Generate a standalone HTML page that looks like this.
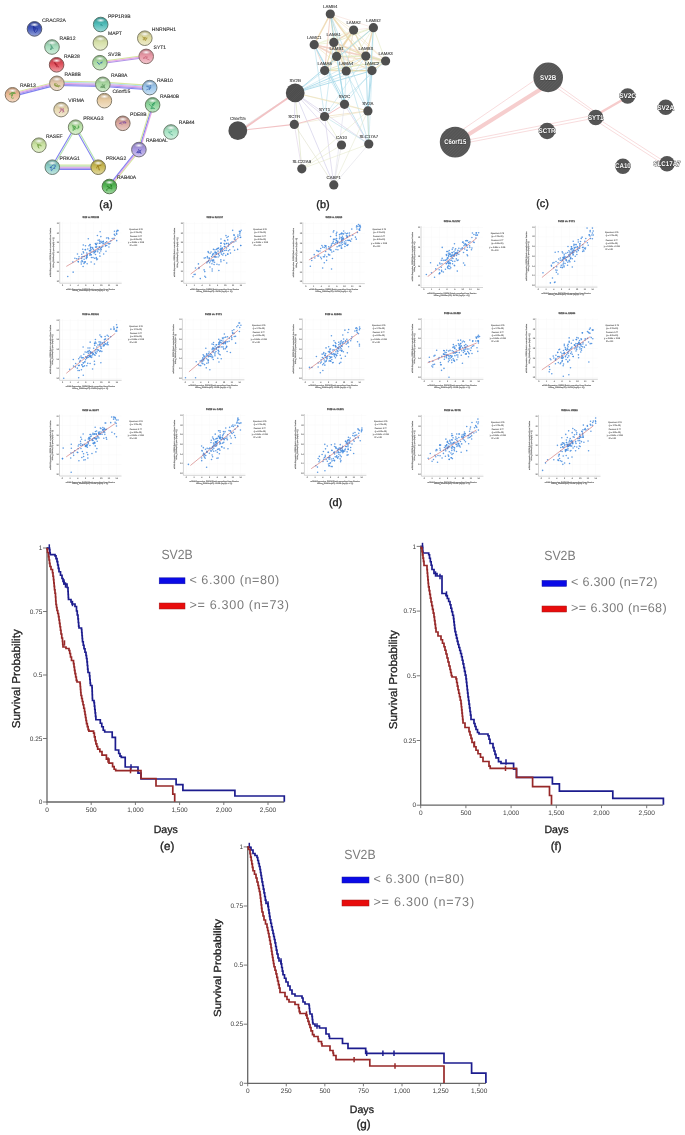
<!DOCTYPE html>
<html><head><meta charset="utf-8"><title>Figure</title>
<style>
html,body{margin:0;padding:0;background:#fff;}
body{width:685px;height:1135px;overflow:hidden;font-family:"Liberation Sans",sans-serif;}
svg{display:block;will-change:transform;}
svg text{font-family:"Liberation Sans",sans-serif;text-rendering:geometricPrecision;}
</style></head><body>
<svg width="685" height="1135" viewBox="0 0 685 1135">
<defs><filter id="soft" x="-2%" y="-2%" width="104%" height="104%"><feGaussianBlur stdDeviation="0.3"/></filter>
<filter id="soft2" x="-2%" y="-2%" width="104%" height="104%"><feGaussianBlur stdDeviation="0.22"/></filter></defs>

<g id="pa" filter="url(#soft2)">
<defs>
<linearGradient id="ga0" x1="0" y1="0" x2="0" y2="1"><stop offset="0" stop-color="#314290"/><stop offset="0.45" stop-color="#3f55b8"/><stop offset="1" stop-color="#95a2d8"/></linearGradient>
<linearGradient id="ga1" x1="0" y1="0" x2="0" y2="1"><stop offset="0" stop-color="#81ac93"/><stop offset="0.45" stop-color="#a6dcbc"/><stop offset="1" stop-color="#ceecda"/></linearGradient>
<linearGradient id="ga2" x1="0" y1="0" x2="0" y2="1"><stop offset="0" stop-color="#af3e48"/><stop offset="0.45" stop-color="#e0505c"/><stop offset="1" stop-color="#ee9fa5"/></linearGradient>
<linearGradient id="ga3" x1="0" y1="0" x2="0" y2="1"><stop offset="0" stop-color="#b09a85"/><stop offset="0.45" stop-color="#e2c6aa"/><stop offset="1" stop-color="#efe0d0"/></linearGradient>
<linearGradient id="ga4" x1="0" y1="0" x2="0" y2="1"><stop offset="0" stop-color="#b79072"/><stop offset="0.45" stop-color="#eab892"/><stop offset="1" stop-color="#f3d8c3"/></linearGradient>
<linearGradient id="ga5" x1="0" y1="0" x2="0" y2="1"><stop offset="0" stop-color="#3b918e"/><stop offset="0.45" stop-color="#4cbab6"/><stop offset="1" stop-color="#9dd9d7"/></linearGradient>
<linearGradient id="ga6" x1="0" y1="0" x2="0" y2="1"><stop offset="0" stop-color="#a7af83"/><stop offset="0.45" stop-color="#d6e0a8"/><stop offset="1" stop-color="#e8eecf"/></linearGradient>
<linearGradient id="ga7" x1="0" y1="0" x2="0" y2="1"><stop offset="0" stop-color="#83aa7d"/><stop offset="0.45" stop-color="#a8daa0"/><stop offset="1" stop-color="#cfebcb"/></linearGradient>
<linearGradient id="ga8" x1="0" y1="0" x2="0" y2="1"><stop offset="0" stop-color="#afac7e"/><stop offset="0.45" stop-color="#e0dca2"/><stop offset="1" stop-color="#eeeccc"/></linearGradient>
<linearGradient id="ga9" x1="0" y1="0" x2="0" y2="1"><stop offset="0" stop-color="#b57781"/><stop offset="0.45" stop-color="#e898a6"/><stop offset="1" stop-color="#f2c6ce"/></linearGradient>
<linearGradient id="ga10" x1="0" y1="0" x2="0" y2="1"><stop offset="0" stop-color="#85a87e"/><stop offset="0.45" stop-color="#aad8a2"/><stop offset="1" stop-color="#d0eacc"/></linearGradient>
<linearGradient id="ga11" x1="0" y1="0" x2="0" y2="1"><stop offset="0" stop-color="#b59f7e"/><stop offset="0.45" stop-color="#e8cca2"/><stop offset="1" stop-color="#f2e3cc"/></linearGradient>
<linearGradient id="ga12" x1="0" y1="0" x2="0" y2="1"><stop offset="0" stop-color="#7a9ab7"/><stop offset="0.45" stop-color="#9cc6ea"/><stop offset="1" stop-color="#c9e0f3"/></linearGradient>
<linearGradient id="ga13" x1="0" y1="0" x2="0" y2="1"><stop offset="0" stop-color="#6da578"/><stop offset="0.45" stop-color="#8cd49a"/><stop offset="1" stop-color="#c0e7c7"/></linearGradient>
<linearGradient id="ga14" x1="0" y1="0" x2="0" y2="1"><stop offset="0" stop-color="#b5a889"/><stop offset="0.45" stop-color="#e8d8b0"/><stop offset="1" stop-color="#f2ead4"/></linearGradient>
<linearGradient id="ga15" x1="0" y1="0" x2="0" y2="1"><stop offset="0" stop-color="#a88078"/><stop offset="0.45" stop-color="#d8a49a"/><stop offset="1" stop-color="#eacdc7"/></linearGradient>
<linearGradient id="ga16" x1="0" y1="0" x2="0" y2="1"><stop offset="0" stop-color="#83b299"/><stop offset="0.45" stop-color="#a8e4c4"/><stop offset="1" stop-color="#cff0df"/></linearGradient>
<linearGradient id="ga17" x1="0" y1="0" x2="0" y2="1"><stop offset="0" stop-color="#91b083"/><stop offset="0.45" stop-color="#bae2a8"/><stop offset="1" stop-color="#d9efcf"/></linearGradient>
<linearGradient id="ga18" x1="0" y1="0" x2="0" y2="1"><stop offset="0" stop-color="#9eb07e"/><stop offset="0.45" stop-color="#cae2a2"/><stop offset="1" stop-color="#e2efcc"/></linearGradient>
<linearGradient id="ga19" x1="0" y1="0" x2="0" y2="1"><stop offset="0" stop-color="#8377af"/><stop offset="0.45" stop-color="#a898e0"/><stop offset="1" stop-color="#cfc6ee"/></linearGradient>
<linearGradient id="ga20" x1="0" y1="0" x2="0" y2="1"><stop offset="0" stop-color="#6da19a"/><stop offset="0.45" stop-color="#8ccec6"/><stop offset="1" stop-color="#c0e4e0"/></linearGradient>
<linearGradient id="ga21" x1="0" y1="0" x2="0" y2="1"><stop offset="0" stop-color="#9c9040"/><stop offset="0.45" stop-color="#c8b852"/><stop offset="1" stop-color="#e1d8a0"/></linearGradient>
<linearGradient id="ga22" x1="0" y1="0" x2="0" y2="1"><stop offset="0" stop-color="#408c40"/><stop offset="0.45" stop-color="#52b452"/><stop offset="1" stop-color="#a0d6a0"/></linearGradient>
<radialGradient id="hl" cx="50%" cy="50%" r="50%"><stop offset="0" stop-color="#fff" stop-opacity="0.95"/><stop offset="1" stop-color="#fff" stop-opacity="0"/></radialGradient>
</defs>
<line x1="12.09" y1="93.2" x2="56.49" y2="81.7" stroke="#d2e496" stroke-width="1.1" opacity="0.9"/><line x1="12.36" y1="94.27" x2="56.76" y2="82.77" stroke="#e49ce4" stroke-width="1.1" opacity="0.9"/><line x1="12.64" y1="95.33" x2="57.04" y2="83.83" stroke="#a88ae6" stroke-width="1.1" opacity="0.9"/><line x1="12.91" y1="96.4" x2="57.31" y2="84.9" stroke="#7474ee" stroke-width="1.1" opacity="0.9"/>
<line x1="56.95" y1="81.1" x2="102.85" y2="82.1" stroke="#d2e496" stroke-width="1.1" opacity="0.9"/><line x1="56.92" y1="82.2" x2="102.82" y2="83.2" stroke="#a0d4e8" stroke-width="1.1" opacity="0.9"/><line x1="56.9" y1="83.3" x2="102.8" y2="84.3" stroke="#e49ce4" stroke-width="1.1" opacity="0.9"/><line x1="56.88" y1="84.4" x2="102.78" y2="85.4" stroke="#a88ae6" stroke-width="1.1" opacity="0.9"/><line x1="56.85" y1="85.5" x2="102.75" y2="86.5" stroke="#7474ee" stroke-width="1.1" opacity="0.9"/>
<line x1="102.95" y1="82.11" x2="149.85" y2="85.41" stroke="#d2e496" stroke-width="1.1" opacity="0.9"/><line x1="102.88" y1="83.2" x2="149.78" y2="86.5" stroke="#a0d4e8" stroke-width="1.1" opacity="0.9"/><line x1="102.8" y1="84.3" x2="149.7" y2="87.6" stroke="#e49ce4" stroke-width="1.1" opacity="0.9"/><line x1="102.72" y1="85.4" x2="149.62" y2="88.7" stroke="#a88ae6" stroke-width="1.1" opacity="0.9"/><line x1="102.65" y1="86.49" x2="149.55" y2="89.79" stroke="#7474ee" stroke-width="1.1" opacity="0.9"/>
<line x1="99.75" y1="61.61" x2="146.05" y2="55.31" stroke="#d2e496" stroke-width="1.1" opacity="0.9"/><line x1="99.9" y1="62.7" x2="146.2" y2="56.4" stroke="#e49ce4" stroke-width="1.1" opacity="0.9"/><line x1="100.05" y1="63.79" x2="146.35" y2="57.49" stroke="#a88ae6" stroke-width="1.1" opacity="0.9"/>
<line x1="153.65" y1="105.22" x2="139.95" y2="149.92" stroke="#e49ce4" stroke-width="1.1" opacity="0.9"/><line x1="152.6" y1="104.9" x2="138.9" y2="149.6" stroke="#7474ee" stroke-width="1.1" opacity="0.9"/><line x1="151.55" y1="104.58" x2="137.85" y2="149.28" stroke="#d2e496" stroke-width="1.1" opacity="0.9"/>
<line x1="139.76" y1="150.29" x2="110.26" y2="187.19" stroke="#d2e496" stroke-width="1.1" opacity="0.9"/><line x1="138.9" y1="149.6" x2="109.4" y2="186.5" stroke="#e49ce4" stroke-width="1.1" opacity="0.9"/><line x1="138.04" y1="148.91" x2="108.54" y2="185.81" stroke="#7474ee" stroke-width="1.1" opacity="0.9"/>
<line x1="76.25" y1="127.58" x2="52.95" y2="167.58" stroke="#ace0a6" stroke-width="1.1" opacity="0.9"/><line x1="74.95" y1="126.82" x2="51.65" y2="166.82" stroke="#7474ee" stroke-width="1.1" opacity="0.9"/>
<line x1="76.25" y1="126.83" x2="98.85" y2="166.83" stroke="#ace0a6" stroke-width="1.1" opacity="0.9"/><line x1="74.95" y1="127.57" x2="97.55" y2="167.57" stroke="#7474ee" stroke-width="1.1" opacity="0.9"/>
<line x1="52.3" y1="165" x2="98.2" y2="165" stroke="#d2e496" stroke-width="1.1" opacity="0.9"/><line x1="52.3" y1="166.1" x2="98.2" y2="166.1" stroke="#ace0a6" stroke-width="1.1" opacity="0.9"/><line x1="52.3" y1="167.2" x2="98.2" y2="167.2" stroke="#e49ce4" stroke-width="1.1" opacity="0.9"/><line x1="52.3" y1="168.3" x2="98.2" y2="168.3" stroke="#a88ae6" stroke-width="1.1" opacity="0.9"/><line x1="52.3" y1="169.4" x2="98.2" y2="169.4" stroke="#7474ee" stroke-width="1.1" opacity="0.9"/>
<circle cx="34.5" cy="28.9" r="7.3" fill="url(#ga0)" stroke="#52586f" stroke-width="1.0"/>
<ellipse cx="34.5" cy="24.72" rx="4.56" ry="2.13" fill="url(#hl)"/>
<path d="M34.54 30.14Q35.15 29.55 33.08 26.33Q35.17 27.8 37.52 28.64Q37.72 31.82 35.2 32.69Q33.3 30.89 33.26 26.34Q35.83 27.81 35.66 29.34Q33.5 31.67 34.2 31.54" fill="none" stroke="#1a2a98" stroke-width="0.75" stroke-linecap="round" opacity="0.8"/>
<text x="42" y="22.2" font-size="5" fill="#2e2e2e" stroke="#2e2e2e" stroke-width="0.12">CRACR2A</text>
<circle cx="52" cy="47" r="7.3" fill="url(#ga1)" stroke="#718170" stroke-width="1.0"/>
<ellipse cx="52" cy="42.82" rx="4.56" ry="2.13" fill="url(#hl)"/>
<path d="M52.57 48.03Q52.09 47.11 53.31 48.35Q52.08 47.26 51.53 45.67Q52.37 46.66 50.38 49.82Q52.19 47.83 52.01 48.47Q52.9 47.55 51.56 49.35Q50.24 49.32 50.7 49.29Q51.83 47.79 50.74 44.46" fill="none" stroke="#4a9a7a" stroke-width="0.75" stroke-linecap="round" opacity="0.8"/>
<text x="59.6" y="39.6" font-size="5" fill="#2e2e2e" stroke="#2e2e2e" stroke-width="0.12">RAB12</text>
<circle cx="56.6" cy="64.8" r="7.3" fill="url(#ga2)" stroke="#825754" stroke-width="1.0"/>
<ellipse cx="56.6" cy="60.62" rx="4.56" ry="2.13" fill="url(#hl)"/>
<path d="M57.45 64.69Q57.06 63.76 55.39 64.17Q55.6 64.59 54.27 62.77Q55.06 62.8 54.66 62.33Q56.28 64.77 58.74 67.14Q55.97 65.57 54.94 62.74Q55.03 63.89 56.72 66.94" fill="none" stroke="#a82232" stroke-width="0.75" stroke-linecap="round" opacity="0.8"/>
<text x="63.9" y="57.6" font-size="5" fill="#2e2e2e" stroke="#2e2e2e" stroke-width="0.12">RAB28</text>
<circle cx="56.9" cy="83.3" r="7.3" fill="url(#ga3)" stroke="#837a6b" stroke-width="1.0"/>
<ellipse cx="56.9" cy="79.12" rx="4.56" ry="2.13" fill="url(#hl)"/>
<path d="M57.71 84.65Q55.89 82.73 54.21 83.77Q57.12 86.52 58.98 86.99Q57.29 86.78 54.09 84.68Q56.03 86.25 60.41 86.11Q58.57 85.31 59.4 85.78Q57.43 85.27 55.77 86.67Q56.46 87.05 54.63 84.58Q55.71 84.68 55.27 85.78" fill="none" stroke="#8a9a40" stroke-width="0.75" stroke-linecap="round" opacity="0.8"/>
<text x="64.5" y="75.8" font-size="5" fill="#2e2e2e" stroke="#2e2e2e" stroke-width="0.12">RAB8B</text>
<circle cx="12.5" cy="94.8" r="7.3" fill="url(#ga4)" stroke="#857664" stroke-width="1.0"/>
<ellipse cx="12.5" cy="90.62" rx="4.56" ry="2.13" fill="url(#hl)"/>
<path d="M12.83 94.86Q13.32 95.93 11.13 95.79Q12.53 93.98 14.57 92.34Q12.36 92.07 9.24 94.27Q11.75 93.48 15.5 93.37Q13.36 92.88 11.64 92.35Q12.63 95.53 11.51 97.99Q12.82 99.07 13.67 98.07" fill="none" stroke="#5aa040" stroke-width="0.75" stroke-linecap="round" opacity="0.8"/>
<text x="19.9" y="87.3" font-size="5" fill="#2e2e2e" stroke="#2e2e2e" stroke-width="0.12">RAB13</text>
<circle cx="100.7" cy="24.5" r="7.3" fill="url(#ga5)" stroke="#56776f" stroke-width="1.0"/>
<ellipse cx="100.7" cy="20.32" rx="4.56" ry="2.13" fill="url(#hl)"/>
<path d="M100.52 24.86Q101.87 24.68 102.47 25.51Q100.19 24.01 100.86 24.72" fill="none" stroke="#2a8a88" stroke-width="0.75" stroke-linecap="round" opacity="0.8"/>
<text x="108" y="17.6" font-size="5" fill="#2e2e2e" stroke="#2e2e2e" stroke-width="0.12">PPP1R9B</text>
<circle cx="100.4" cy="43" r="7.3" fill="url(#ga6)" stroke="#7f826a" stroke-width="1.0"/>
<ellipse cx="100.4" cy="38.82" rx="4.56" ry="2.13" fill="url(#hl)"/>
<text x="108" y="35.1" font-size="5" fill="#2e2e2e" stroke="#2e2e2e" stroke-width="0.12">MAPT</text>
<circle cx="99.9" cy="62.7" r="7.3" fill="url(#ga7)" stroke="#718068" stroke-width="1.0"/>
<ellipse cx="99.9" cy="58.52" rx="4.56" ry="2.13" fill="url(#hl)"/>
<path d="M98.99 64.04Q96.76 61.61 97.02 61.93Q98.94 63.46 99.01 64.42Q99.49 63.97 102.25 61.75Q101.2 62.14 102.23 62.87Q101.19 63.22 100.69 62.73" fill="none" stroke="#2a62a8" stroke-width="0.75" stroke-linecap="round" opacity="0.8"/>
<text x="108" y="55.8" font-size="5" fill="#2e2e2e" stroke="#2e2e2e" stroke-width="0.12">SV2B</text>
<circle cx="144.8" cy="38.2" r="7.3" fill="url(#ga8)" stroke="#828169" stroke-width="1.0"/>
<ellipse cx="144.8" cy="34.02" rx="4.56" ry="2.13" fill="url(#hl)"/>
<path d="M143.81 38.08Q142.69 36.75 142.56 36.82Q145.04 37.65 145.35 40.89Q147 39.4 146.04 37.38Q143.31 39.13 142.75 39.23Q146.44 39.98 147.37 38.03Q146.97 38.71 145.8 38.02Q143.6 38.27 144.4 37.15Q145.17 37.69 143.71 40.02" fill="none" stroke="#a8983c" stroke-width="0.75" stroke-linecap="round" opacity="0.8"/>
<text x="151.8" y="31.3" font-size="5" fill="#2e2e2e" stroke="#2e2e2e" stroke-width="0.12">HNRNPH1</text>
<circle cx="146.2" cy="56.4" r="7.3" fill="url(#ga9)" stroke="#856d6a" stroke-width="1.0"/>
<ellipse cx="146.2" cy="52.22" rx="4.56" ry="2.13" fill="url(#hl)"/>
<path d="M147.01 56.56Q147.55 58.37 146.93 57.72Q145.55 56.6 145.47 56.32Q144.75 57.63 143.12 58.28Q146.13 57.38 147.27 59.08Q147.84 59.13 149.18 59.81" fill="none" stroke="#c25a70" stroke-width="0.75" stroke-linecap="round" opacity="0.8"/>
<text x="153.6" y="48.8" font-size="5" fill="#2e2e2e" stroke="#2e2e2e" stroke-width="0.12">SYT1</text>
<circle cx="102.8" cy="84.3" r="7.3" fill="url(#ga10)" stroke="#728069" stroke-width="1.0"/>
<ellipse cx="102.8" cy="80.12" rx="4.56" ry="2.13" fill="url(#hl)"/>
<path d="M102.43 84Q101.27 85.54 103.03 85.05Q104.46 85.94 105.17 84.66Q102.96 86.51 100.89 86.29Q101.44 88.03 104.83 86.91Q103.21 85.93 100.37 87.27Q102.54 87.37 101.98 87.54Q102.87 86.71 105.33 88.07Q103.36 87.57 103.81 86.03" fill="none" stroke="#5e965e" stroke-width="0.75" stroke-linecap="round" opacity="0.8"/>
<text x="111" y="77.1" font-size="5" fill="#2e2e2e" stroke="#2e2e2e" stroke-width="0.12">RAB8A</text>
<circle cx="104.4" cy="100.7" r="7.3" fill="url(#ga11)" stroke="#857c69" stroke-width="1.0"/>
<ellipse cx="104.4" cy="96.52" rx="4.56" ry="2.13" fill="url(#hl)"/>
<text x="112.4" y="93" font-size="5" fill="#2e2e2e" stroke="#2e2e2e" stroke-width="0.12">C6orf15</text>
<circle cx="149.7" cy="87.6" r="7.3" fill="url(#ga12)" stroke="#6e7a7e" stroke-width="1.0"/>
<ellipse cx="149.7" cy="83.42" rx="4.56" ry="2.13" fill="url(#hl)"/>
<path d="M149.85 88.16Q149.3 87.94 149.22 89.89Q151.44 88.21 150.69 85.3Q149.99 86.63 146.48 86.25Q149.47 87.76 150.56 87.6Q147.87 89.53 146.62 89.89" fill="none" stroke="#3e6eb0" stroke-width="0.75" stroke-linecap="round" opacity="0.8"/>
<text x="157" y="81.6" font-size="5" fill="#2e2e2e" stroke="#2e2e2e" stroke-width="0.12">RAB10</text>
<circle cx="152.6" cy="104.9" r="7.3" fill="url(#ga13)" stroke="#697f66" stroke-width="1.0"/>
<ellipse cx="152.6" cy="100.72" rx="4.56" ry="2.13" fill="url(#hl)"/>
<path d="M153.35 105.68Q154.46 104.2 154.15 103.23Q152.71 103.83 151.76 105.07Q153.04 104.38 155.16 102.41Q152.43 103.01 152.2 106.33Q151.08 108.01 152.19 108.36Q150.81 109.44 150.68 108.1Q154.05 108.71 154.69 108.61Q151.04 106.97 149.18 104.24" fill="none" stroke="#2c9a5e" stroke-width="0.75" stroke-linecap="round" opacity="0.8"/>
<text x="160" y="98" font-size="5" fill="#2e2e2e" stroke="#2e2e2e" stroke-width="0.12">RAB40B</text>
<circle cx="61.1" cy="109.6" r="7.3" fill="url(#ga14)" stroke="#85806d" stroke-width="1.0"/>
<ellipse cx="61.1" cy="105.42" rx="4.56" ry="2.13" fill="url(#hl)"/>
<path d="M60.57 109.31Q59.16 108.35 60.35 107.99Q63.03 109.22 64.11 112.12Q61.75 109.27 61.36 108.77Q61.19 111.77 59.04 112.94Q60.58 110.97 63.26 108.24Q64.16 109.11 62.77 112.47" fill="none" stroke="#b06088" stroke-width="0.75" stroke-linecap="round" opacity="0.8"/>
<text x="68.3" y="102.4" font-size="5" fill="#2e2e2e" stroke="#2e2e2e" stroke-width="0.12">VIRMA</text>
<circle cx="122.8" cy="123.3" r="7.3" fill="url(#ga15)" stroke="#807066" stroke-width="1.0"/>
<ellipse cx="122.8" cy="119.12" rx="4.56" ry="2.13" fill="url(#hl)"/>
<path d="M122.06 124.1Q120.77 122.97 119.3 123.51Q120.97 122.08 124.75 121.52Q124.87 121.11 123.08 123.19Q123.32 122.99 125.8 122.92Q126.77 122.25 125.09 121.92Q126.04 124.01 125.57 123.39" fill="none" stroke="#7a4aa0" stroke-width="0.75" stroke-linecap="round" opacity="0.8"/>
<text x="130.1" y="115.5" font-size="5" fill="#2e2e2e" stroke="#2e2e2e" stroke-width="0.12">PDE8B</text>
<circle cx="171" cy="132" r="7.3" fill="url(#ga16)" stroke="#718373" stroke-width="1.0"/>
<ellipse cx="171" cy="127.82" rx="4.56" ry="2.13" fill="url(#hl)"/>
<path d="M171.63 131.63Q169.32 132.73 168.5 131.88Q170.74 135 172.72 135.17" fill="none" stroke="#3e9a7e" stroke-width="0.75" stroke-linecap="round" opacity="0.8"/>
<text x="178.8" y="124.3" font-size="5" fill="#2e2e2e" stroke="#2e2e2e" stroke-width="0.12">RAB44</text>
<circle cx="75.6" cy="127.2" r="7.3" fill="url(#ga17)" stroke="#77836a" stroke-width="1.0"/>
<ellipse cx="75.6" cy="123.02" rx="4.56" ry="2.13" fill="url(#hl)"/>
<path d="M75.34 126.74Q74.62 130.16 72.9 130.64Q73.63 129.06 72.85 125.07Q73.32 128.33 74.99 129.73Q75.65 127.53 74.23 126.01Q76.82 128.11 77.47 129.17Q78.13 128.75 78.19 126.42Q79.39 126.95 78.42 127.79Q79.92 128.14 78.48 125.69" fill="none" stroke="#3c9a3c" stroke-width="0.75" stroke-linecap="round" opacity="0.8"/>
<text x="83.2" y="119.5" font-size="5" fill="#2e2e2e" stroke="#2e2e2e" stroke-width="0.12">PRKAG3</text>
<circle cx="38.9" cy="145.2" r="7.3" fill="url(#ga18)" stroke="#7c8369" stroke-width="1.0"/>
<ellipse cx="38.9" cy="141.02" rx="4.56" ry="2.13" fill="url(#hl)"/>
<path d="M38.19 145.08Q39.11 145.08 41.34 146.06Q40.91 144.25 39.21 144.7Q39.33 145.54 37.92 144.37Q37.17 146.86 39 148.31Q38.22 144.8 37.1 143.8" fill="none" stroke="#6a9a3a" stroke-width="0.75" stroke-linecap="round" opacity="0.8"/>
<text x="45.9" y="137.8" font-size="5" fill="#2e2e2e" stroke="#2e2e2e" stroke-width="0.12">RASEF</text>
<circle cx="138.9" cy="149.6" r="7.3" fill="url(#ga19)" stroke="#716d7b" stroke-width="1.0"/>
<ellipse cx="138.9" cy="145.42" rx="4.56" ry="2.13" fill="url(#hl)"/>
<path d="M138.53 149.3Q137.37 150.84 139.13 150.35Q140.56 151.24 141.27 149.96Q139.06 151.81 136.99 151.59Q137.54 153.33 140.93 152.21Q139.31 151.23 136.47 152.57Q138.64 152.67 138.08 152.84Q138.97 152.01 141.43 153.37Q139.46 152.87 139.91 151.33" fill="none" stroke="#4848b0" stroke-width="0.75" stroke-linecap="round" opacity="0.8"/>
<text x="145.9" y="142.3" font-size="5" fill="#2e2e2e" stroke="#2e2e2e" stroke-width="0.12">RAB40AL</text>
<circle cx="52.3" cy="167.2" r="7.3" fill="url(#ga20)" stroke="#697d73" stroke-width="1.0"/>
<ellipse cx="52.3" cy="163.02" rx="4.56" ry="2.13" fill="url(#hl)"/>
<path d="M52.96 168.23Q52.88 168.16 54.77 167.76Q53.8 166.5 55.59 166.56Q55.96 164.53 53.42 164.95Q52.27 165.07 50.19 167.67Q50.84 166.56 50.21 167.92Q50.13 166.66 51.78 167.27Q50.38 168.87 51.42 170.82Q51.83 170.96 52.49 169.16Q53.61 167.95 54.88 168.42" fill="none" stroke="#2a5ab0" stroke-width="0.75" stroke-linecap="round" opacity="0.8"/>
<text x="59.6" y="160.1" font-size="5" fill="#2e2e2e" stroke="#2e2e2e" stroke-width="0.12">PRKAG1</text>
<circle cx="98.2" cy="167.2" r="7.3" fill="url(#ga21)" stroke="#7b7651" stroke-width="1.0"/>
<ellipse cx="98.2" cy="163.02" rx="4.56" ry="2.13" fill="url(#hl)"/>
<path d="M98.41 166.76Q99.1 166.27 96.98 165.43Q98.42 165.9 98.96 168.51Q98.01 170.41 99.94 170Q98.94 168.87 97.56 166.55Q99.08 165.37 101.28 165.22Q98.32 165.02 96.53 166.98Q96.37 166.98 96.78 168.21" fill="none" stroke="#9a7a1a" stroke-width="0.75" stroke-linecap="round" opacity="0.8"/>
<text x="106" y="160.1" font-size="5" fill="#2e2e2e" stroke="#2e2e2e" stroke-width="0.12">PRKAG2</text>
<circle cx="109.4" cy="186.5" r="7.3" fill="url(#ga22)" stroke="#587551" stroke-width="1.0"/>
<ellipse cx="109.4" cy="182.32" rx="4.56" ry="2.13" fill="url(#hl)"/>
<path d="M109.69 187.51Q107.21 185.47 106.86 186.14Q108.09 187.73 111.93 189.04Q112.1 187.62 110.67 184.46Q110.92 185.96 111.68 185.5Q110.5 187.86 108.29 188.53Q106.77 189.24 106.53 189.59Q105.79 190.82 107.15 190.3" fill="none" stroke="#1e7a1e" stroke-width="0.75" stroke-linecap="round" opacity="0.8"/>
<text x="117" y="178.6" font-size="5" fill="#2e2e2e" stroke="#2e2e2e" stroke-width="0.12">RAB40A</text>
</g>
<g id="pb" filter="url(#soft2)">
<defs><pattern id="hatchb" width="1.6" height="1.6" patternUnits="userSpaceOnUse" patternTransform="rotate(45)"><rect width="1.6" height="1.6" fill="#4c4c4c"/><line x1="0" y1="0" x2="0" y2="1.6" stroke="#5e5e5e" stroke-width="0.6"/></pattern></defs>
<line x1="330.3" y1="14" x2="353.6" y2="30.1" stroke="#e8dcac" stroke-width="0.6" opacity="0.8"/>
<line x1="330.3" y1="14" x2="373.4" y2="27.7" stroke="#f0ccc0" stroke-width="0.5" opacity="0.8"/>
<line x1="330.3" y1="14" x2="314.2" y2="44.7" stroke="#ecd4a8" stroke-width="1.5" opacity="0.8"/>
<line x1="330.3" y1="14" x2="333.8" y2="42.4" stroke="#ecd4a8" stroke-width="0.8" opacity="0.8"/>
<line x1="330.3" y1="14" x2="336.6" y2="56.4" stroke="#dde6b4" stroke-width="0.5" opacity="0.8"/>
<line x1="330.3" y1="14" x2="365.8" y2="56.1" stroke="#dde6b4" stroke-width="0.6" opacity="0.8"/>
<line x1="330.3" y1="14" x2="385.6" y2="61" stroke="#ecd4a8" stroke-width="0.5" opacity="0.8"/>
<line x1="330.3" y1="14" x2="324.7" y2="70.6" stroke="#f0ccc0" stroke-width="1.1" opacity="0.8"/>
<line x1="330.3" y1="14" x2="346.2" y2="71" stroke="#ecd4a8" stroke-width="0.6" opacity="0.8"/>
<line x1="330.3" y1="14" x2="372" y2="70.6" stroke="#ecd4a8" stroke-width="1.5" opacity="0.8"/>
<line x1="353.6" y1="30.1" x2="373.4" y2="27.7" stroke="#f0ccc0" stroke-width="0.5" opacity="0.8"/>
<line x1="353.6" y1="30.1" x2="314.2" y2="44.7" stroke="#dde6b4" stroke-width="0.5" opacity="0.8"/>
<line x1="353.6" y1="30.1" x2="333.8" y2="42.4" stroke="#eed0b4" stroke-width="1.5" opacity="0.8"/>
<line x1="353.6" y1="30.1" x2="336.6" y2="56.4" stroke="#ecd4a8" stroke-width="1.5" opacity="0.8"/>
<line x1="353.6" y1="30.1" x2="365.8" y2="56.1" stroke="#dde6b4" stroke-width="1.1" opacity="0.8"/>
<line x1="353.6" y1="30.1" x2="385.6" y2="61" stroke="#ecd4a8" stroke-width="0.6" opacity="0.8"/>
<line x1="353.6" y1="30.1" x2="324.7" y2="70.6" stroke="#ecd4a8" stroke-width="1.5" opacity="0.8"/>
<line x1="353.6" y1="30.1" x2="346.2" y2="71" stroke="#eed0b4" stroke-width="0.8" opacity="0.8"/>
<line x1="353.6" y1="30.1" x2="372" y2="70.6" stroke="#f0ccc0" stroke-width="0.6" opacity="0.8"/>
<line x1="373.4" y1="27.7" x2="314.2" y2="44.7" stroke="#dde6b4" stroke-width="0.5" opacity="0.8"/>
<line x1="373.4" y1="27.7" x2="333.8" y2="42.4" stroke="#dde6b4" stroke-width="0.8" opacity="0.8"/>
<line x1="373.4" y1="27.7" x2="336.6" y2="56.4" stroke="#dde6b4" stroke-width="0.6" opacity="0.8"/>
<line x1="373.4" y1="27.7" x2="365.8" y2="56.1" stroke="#ecd4a8" stroke-width="1.5" opacity="0.8"/>
<line x1="373.4" y1="27.7" x2="385.6" y2="61" stroke="#dde6b4" stroke-width="0.6" opacity="0.8"/>
<line x1="373.4" y1="27.7" x2="324.7" y2="70.6" stroke="#e8dcac" stroke-width="0.5" opacity="0.8"/>
<line x1="373.4" y1="27.7" x2="346.2" y2="71" stroke="#dde6b4" stroke-width="0.5" opacity="0.8"/>
<line x1="373.4" y1="27.7" x2="372" y2="70.6" stroke="#dde6b4" stroke-width="0.5" opacity="0.8"/>
<line x1="314.2" y1="44.7" x2="333.8" y2="42.4" stroke="#dde6b4" stroke-width="0.6" opacity="0.8"/>
<line x1="314.2" y1="44.7" x2="336.6" y2="56.4" stroke="#f0ccc0" stroke-width="1.5" opacity="0.8"/>
<line x1="314.2" y1="44.7" x2="365.8" y2="56.1" stroke="#f0ccc0" stroke-width="0.8" opacity="0.8"/>
<line x1="314.2" y1="44.7" x2="385.6" y2="61" stroke="#f0ccc0" stroke-width="1.5" opacity="0.8"/>
<line x1="314.2" y1="44.7" x2="324.7" y2="70.6" stroke="#f0ccc0" stroke-width="0.8" opacity="0.8"/>
<line x1="314.2" y1="44.7" x2="346.2" y2="71" stroke="#e8dcac" stroke-width="0.6" opacity="0.8"/>
<line x1="314.2" y1="44.7" x2="372" y2="70.6" stroke="#eed0b4" stroke-width="0.6" opacity="0.8"/>
<line x1="333.8" y1="42.4" x2="336.6" y2="56.4" stroke="#ecd4a8" stroke-width="1.5" opacity="0.8"/>
<line x1="333.8" y1="42.4" x2="365.8" y2="56.1" stroke="#e8dcac" stroke-width="1.5" opacity="0.8"/>
<line x1="333.8" y1="42.4" x2="385.6" y2="61" stroke="#f0ccc0" stroke-width="0.8" opacity="0.8"/>
<line x1="333.8" y1="42.4" x2="324.7" y2="70.6" stroke="#e6d6a0" stroke-width="1.1" opacity="0.8"/>
<line x1="333.8" y1="42.4" x2="346.2" y2="71" stroke="#e8dcac" stroke-width="1.5" opacity="0.8"/>
<line x1="333.8" y1="42.4" x2="372" y2="70.6" stroke="#ecd4a8" stroke-width="0.5" opacity="0.8"/>
<line x1="336.6" y1="56.4" x2="365.8" y2="56.1" stroke="#dde6b4" stroke-width="1.1" opacity="0.8"/>
<line x1="336.6" y1="56.4" x2="385.6" y2="61" stroke="#eed0b4" stroke-width="0.8" opacity="0.8"/>
<line x1="336.6" y1="56.4" x2="324.7" y2="70.6" stroke="#eed0b4" stroke-width="1.1" opacity="0.8"/>
<line x1="336.6" y1="56.4" x2="346.2" y2="71" stroke="#f0ccc0" stroke-width="0.5" opacity="0.8"/>
<line x1="336.6" y1="56.4" x2="372" y2="70.6" stroke="#e6d6a0" stroke-width="0.5" opacity="0.8"/>
<line x1="365.8" y1="56.1" x2="385.6" y2="61" stroke="#dde6b4" stroke-width="1.5" opacity="0.8"/>
<line x1="365.8" y1="56.1" x2="324.7" y2="70.6" stroke="#e8dcac" stroke-width="0.8" opacity="0.8"/>
<line x1="365.8" y1="56.1" x2="346.2" y2="71" stroke="#e6d6a0" stroke-width="0.8" opacity="0.8"/>
<line x1="365.8" y1="56.1" x2="372" y2="70.6" stroke="#dde6b4" stroke-width="1.1" opacity="0.8"/>
<line x1="385.6" y1="61" x2="324.7" y2="70.6" stroke="#dde6b4" stroke-width="1.1" opacity="0.8"/>
<line x1="385.6" y1="61" x2="346.2" y2="71" stroke="#ecd4a8" stroke-width="0.5" opacity="0.8"/>
<line x1="385.6" y1="61" x2="372" y2="70.6" stroke="#e8dcac" stroke-width="1.1" opacity="0.8"/>
<line x1="324.7" y1="70.6" x2="346.2" y2="71" stroke="#e6d6a0" stroke-width="0.5" opacity="0.8"/>
<line x1="324.7" y1="70.6" x2="372" y2="70.6" stroke="#ecd4a8" stroke-width="0.8" opacity="0.8"/>
<line x1="346.2" y1="71" x2="372" y2="70.6" stroke="#e6d6a0" stroke-width="1.5" opacity="0.8"/>
<line x1="295.2" y1="92.9" x2="373.4" y2="27.7" stroke="#a6d8e8" stroke-width="1.0" opacity="0.85"/>
<line x1="295.2" y1="92.9" x2="365.8" y2="56.1" stroke="#a6d8e8" stroke-width="0.5" opacity="0.85"/>
<line x1="295.2" y1="92.9" x2="385.6" y2="61" stroke="#a6d8e8" stroke-width="0.6" opacity="0.85"/>
<line x1="295.2" y1="92.9" x2="324.7" y2="70.6" stroke="#a6d8e8" stroke-width="0.6" opacity="0.85"/>
<line x1="295.2" y1="92.9" x2="346.2" y2="71" stroke="#a6d8e8" stroke-width="1.0" opacity="0.85"/>
<line x1="295.2" y1="92.9" x2="372" y2="70.6" stroke="#a6d8e8" stroke-width="1.0" opacity="0.85"/>
<line x1="344.5" y1="104.3" x2="330.3" y2="14" stroke="#a6d8e8" stroke-width="1.0" opacity="0.85"/>
<line x1="344.5" y1="104.3" x2="314.2" y2="44.7" stroke="#a6d8e8" stroke-width="1.0" opacity="0.85"/>
<line x1="344.5" y1="104.3" x2="336.6" y2="56.4" stroke="#a6d8e8" stroke-width="1.0" opacity="0.85"/>
<line x1="344.5" y1="104.3" x2="324.7" y2="70.6" stroke="#a6d8e8" stroke-width="0.6" opacity="0.85"/>
<line x1="344.5" y1="104.3" x2="346.2" y2="71" stroke="#a6d8e8" stroke-width="0.6" opacity="0.85"/>
<line x1="344.5" y1="104.3" x2="372" y2="70.6" stroke="#a6d8e8" stroke-width="0.6" opacity="0.85"/>
<line x1="367.9" y1="110.9" x2="330.3" y2="14" stroke="#a6d8e8" stroke-width="0.6" opacity="0.85"/>
<line x1="367.9" y1="110.9" x2="373.4" y2="27.7" stroke="#a6d8e8" stroke-width="1.0" opacity="0.85"/>
<line x1="367.9" y1="110.9" x2="336.6" y2="56.4" stroke="#a6d8e8" stroke-width="0.6" opacity="0.85"/>
<line x1="367.9" y1="110.9" x2="372" y2="70.6" stroke="#a6d8e8" stroke-width="1.0" opacity="0.85"/>
<line x1="324.6" y1="116.5" x2="314.2" y2="44.7" stroke="#a6d8e8" stroke-width="0.6" opacity="0.85"/>
<line x1="324.6" y1="116.5" x2="333.8" y2="42.4" stroke="#a6d8e8" stroke-width="0.6" opacity="0.85"/>
<line x1="324.6" y1="116.5" x2="365.8" y2="56.1" stroke="#a6d8e8" stroke-width="0.5" opacity="0.85"/>
<line x1="324.6" y1="116.5" x2="385.6" y2="61" stroke="#a6d8e8" stroke-width="0.6" opacity="0.85"/>
<line x1="368.8" y1="144" x2="330.3" y2="14" stroke="#a6d8e8" stroke-width="0.6" opacity="0.85"/>
<line x1="368.8" y1="144" x2="314.2" y2="44.7" stroke="#a6d8e8" stroke-width="0.8" opacity="0.85"/>
<line x1="368.8" y1="144" x2="365.8" y2="56.1" stroke="#a6d8e8" stroke-width="1.0" opacity="0.85"/>
<line x1="368.8" y1="144" x2="372" y2="70.6" stroke="#a6d8e8" stroke-width="0.5" opacity="0.85"/>
<line x1="295.2" y1="92.9" x2="344.5" y2="104.3" stroke="#e8dcb0" stroke-width="0.5"/>
<line x1="295.2" y1="92.9" x2="367.9" y2="110.9" stroke="#e8dcb0" stroke-width="0.5"/>
<line x1="295.2" y1="92.9" x2="324.6" y2="116.5" stroke="#c8c0e0" stroke-width="0.5"/>
<line x1="295.2" y1="92.9" x2="294.3" y2="124.4" stroke="#c8c0e0" stroke-width="0.5"/>
<line x1="295.2" y1="92.9" x2="341.5" y2="145" stroke="#c8c0e0" stroke-width="0.5"/>
<line x1="295.2" y1="92.9" x2="368.8" y2="144" stroke="#c8c0e0" stroke-width="0.5"/>
<line x1="295.2" y1="92.9" x2="333.8" y2="184.9" stroke="#c0bce0" stroke-width="0.5"/>
<line x1="295.2" y1="92.9" x2="301.8" y2="168.8" stroke="#d0d8b0" stroke-width="0.5"/>
<line x1="324.6" y1="116.5" x2="367.9" y2="110.9" stroke="#e8d0a0" stroke-width="0.5"/>
<line x1="324.6" y1="116.5" x2="368.8" y2="144" stroke="#a8d8e0" stroke-width="0.5"/>
<line x1="324.6" y1="116.5" x2="341.5" y2="145" stroke="#d8e0b8" stroke-width="0.5"/>
<line x1="324.6" y1="116.5" x2="333.8" y2="184.9" stroke="#c8c0e0" stroke-width="0.5"/>
<line x1="344.5" y1="104.3" x2="367.9" y2="110.9" stroke="#e8dcb0" stroke-width="0.5"/>
<line x1="344.5" y1="104.3" x2="368.8" y2="144" stroke="#c8c0e0" stroke-width="0.5"/>
<line x1="367.9" y1="110.9" x2="368.8" y2="144" stroke="#e0e4c0" stroke-width="0.5"/>
<line x1="294.3" y1="124.4" x2="301.8" y2="168.8" stroke="#d8c8e0" stroke-width="0.5"/>
<line x1="294.3" y1="124.4" x2="333.8" y2="184.9" stroke="#d8d8c0" stroke-width="0.5"/>
<line x1="301.8" y1="168.8" x2="368.8" y2="144" stroke="#e0e4c0" stroke-width="0.5"/>
<line x1="301.8" y1="168.8" x2="367.9" y2="110.9" stroke="#e0e4c0" stroke-width="0.5"/>
<line x1="341.5" y1="145" x2="333.8" y2="184.9" stroke="#d8d8d8" stroke-width="0.5"/>
<line x1="368.8" y1="144" x2="333.8" y2="184.9" stroke="#d8d8e0" stroke-width="0.5"/>
<line x1="367.9" y1="110.9" x2="333.8" y2="184.9" stroke="#e0e4c8" stroke-width="0.5"/>
<line x1="294.3" y1="124.4" x2="367.9" y2="110.9" stroke="#e8e0c0" stroke-width="0.5"/>
<line x1="301.8" y1="168.8" x2="341.5" y2="145" stroke="#e0e4c0" stroke-width="0.5"/>
<line x1="237.8" y1="130.7" x2="295.2" y2="92.9" stroke="#d0d0d0" stroke-width="0.5"/>
<line x1="344.5" y1="104.3" x2="333.8" y2="184.9" stroke="#d8d8e8" stroke-width="0.5"/>
<line x1="237.8" y1="132.7" x2="295.2" y2="92.9" stroke="#f2c2c4" stroke-width="1.8"/>
<line x1="237.8" y1="130.7" x2="294.3" y2="124.4" stroke="#f2c2c4" stroke-width="1.1"/>
<line x1="294.3" y1="124.4" x2="324.6" y2="116.5" stroke="#f2c2c4" stroke-width="0.9"/>
<line x1="324.6" y1="116.5" x2="344.5" y2="104.3" stroke="#f2c2c4" stroke-width="1.0"/>
<circle cx="330.3" cy="14" r="4.6" fill="#4f4f4f"/>
<text x="330.3" y="8" font-size="4.4" fill="#333" stroke="#333" stroke-width="0.08" text-anchor="middle">LAMB4</text>
<circle cx="353.6" cy="30.1" r="4.6" fill="#4f4f4f"/>
<text x="353.6" y="24.1" font-size="4.4" fill="#333" stroke="#333" stroke-width="0.08" text-anchor="middle">LAMA2</text>
<circle cx="373.4" cy="27.7" r="4.6" fill="#4f4f4f"/>
<text x="373.4" y="21.7" font-size="4.4" fill="#333" stroke="#333" stroke-width="0.08" text-anchor="middle">LAMB2</text>
<circle cx="314.2" cy="44.7" r="4.6" fill="#4f4f4f"/>
<text x="314.2" y="38.7" font-size="4.4" fill="#333" stroke="#333" stroke-width="0.08" text-anchor="middle">LAMC1</text>
<circle cx="333.8" cy="42.4" r="4.6" fill="#4f4f4f"/>
<text x="333.8" y="36.4" font-size="4.4" fill="#333" stroke="#333" stroke-width="0.08" text-anchor="middle">LAMA1</text>
<circle cx="336.6" cy="56.4" r="4.6" fill="#4f4f4f"/>
<text x="336.6" y="50.4" font-size="4.4" fill="#333" stroke="#333" stroke-width="0.08" text-anchor="middle">LAMB1</text>
<circle cx="365.8" cy="56.1" r="4.6" fill="#4f4f4f"/>
<text x="365.8" y="50.1" font-size="4.4" fill="#333" stroke="#333" stroke-width="0.08" text-anchor="middle">LAMB3</text>
<circle cx="385.6" cy="61" r="4.6" fill="#4f4f4f"/>
<text x="385.6" y="55" font-size="4.4" fill="#333" stroke="#333" stroke-width="0.08" text-anchor="middle">LAMA3</text>
<circle cx="324.7" cy="70.6" r="4.6" fill="#4f4f4f"/>
<text x="324.7" y="64.6" font-size="4.4" fill="#333" stroke="#333" stroke-width="0.08" text-anchor="middle">LAMA5</text>
<circle cx="346.2" cy="71" r="4.6" fill="#4f4f4f"/>
<text x="346.2" y="65" font-size="4.4" fill="#333" stroke="#333" stroke-width="0.08" text-anchor="middle">LAMA4</text>
<circle cx="372" cy="70.6" r="4.6" fill="#4f4f4f"/>
<text x="372" y="64.6" font-size="4.4" fill="#333" stroke="#333" stroke-width="0.08" text-anchor="middle">LAMC2</text>
<circle cx="295.2" cy="92.9" r="9.4" fill="url(#hatchb)"/>
<text x="295.2" y="82.1" font-size="4.4" fill="#333" stroke="#333" stroke-width="0.08" text-anchor="middle">SV2B</text>
<circle cx="237.8" cy="130.7" r="9.4" fill="#4f4f4f"/>
<text x="237.8" y="119.9" font-size="4.4" fill="#333" stroke="#333" stroke-width="0.08" text-anchor="middle">C6orf15</text>
<circle cx="344.5" cy="104.3" r="4.6" fill="#4f4f4f"/>
<text x="344.5" y="98.3" font-size="4.4" fill="#333" stroke="#333" stroke-width="0.08" text-anchor="middle">SV2C</text>
<circle cx="367.9" cy="110.9" r="4.6" fill="#4f4f4f"/>
<text x="367.9" y="104.9" font-size="4.4" fill="#333" stroke="#333" stroke-width="0.08" text-anchor="middle">SV2A</text>
<circle cx="324.6" cy="116.5" r="4.6" fill="#4f4f4f"/>
<text x="324.6" y="110.5" font-size="4.4" fill="#333" stroke="#333" stroke-width="0.08" text-anchor="middle">SYT1</text>
<circle cx="294.3" cy="124.4" r="4.6" fill="#4f4f4f"/>
<text x="294.3" y="118.4" font-size="4.4" fill="#333" stroke="#333" stroke-width="0.08" text-anchor="middle">SCTR</text>
<circle cx="341.5" cy="145" r="4.6" fill="#4f4f4f"/>
<text x="341.5" y="139" font-size="4.4" fill="#333" stroke="#333" stroke-width="0.08" text-anchor="middle">CA10</text>
<circle cx="368.8" cy="144" r="4.6" fill="#4f4f4f"/>
<text x="368.8" y="138" font-size="4.4" fill="#333" stroke="#333" stroke-width="0.08" text-anchor="middle">SLC17A7</text>
<circle cx="301.8" cy="168.8" r="4.6" fill="#4f4f4f"/>
<text x="301.8" y="162.8" font-size="4.4" fill="#333" stroke="#333" stroke-width="0.08" text-anchor="middle">SLC22A9</text>
<circle cx="333.8" cy="184.9" r="4.6" fill="#4f4f4f"/>
<text x="333.8" y="178.9" font-size="4.4" fill="#333" stroke="#333" stroke-width="0.08" text-anchor="middle">CABP1</text>
</g>
<g id="pc" filter="url(#soft2)">
<line x1="466" y1="136" x2="541" y2="89" stroke="#f6cece" stroke-width="4.0"/>
<line x1="462" y1="130" x2="535" y2="80" stroke="#f4c4c6" stroke-width="0.6"/>
<line x1="468" y1="140" x2="590" y2="116" stroke="#f4c4c6" stroke-width="0.6"/>
<line x1="468" y1="142.5" x2="590" y2="119" stroke="#f4c4c6" stroke-width="0.6"/>
<line x1="557" y1="88" x2="592" y2="112" stroke="#f4c4c6" stroke-width="0.6"/>
<line x1="559" y1="86" x2="594" y2="111" stroke="#f4c4c6" stroke-width="0.6"/>
<line x1="598" y1="114" x2="624" y2="99" stroke="#f6cccc" stroke-width="2.4"/>
<line x1="600" y1="120" x2="662" y2="160" stroke="#f4c4c6" stroke-width="0.6"/>
<line x1="598" y1="122" x2="660" y2="162" stroke="#f4c4c6" stroke-width="0.6"/>
<defs><pattern id="hatch" width="2.2" height="2.2" patternUnits="userSpaceOnUse" patternTransform="rotate(45)"><rect width="2.2" height="2.2" fill="#545454"/><line x1="0" y1="0" x2="0" y2="2.2" stroke="#666" stroke-width="0.8"/></pattern></defs>
<circle cx="548.2" cy="77.4" r="14.8" fill="url(#hatch)"/>
<text x="548.2" y="79.6" font-size="6.9" font-weight="bold" fill="#ffffff" stroke="#3c3c3c" stroke-width="0.8" paint-order="stroke" text-anchor="middle" textLength="16.2" lengthAdjust="spacingAndGlyphs">SV2B</text>
<circle cx="455.2" cy="142.1" r="15.4" fill="url(#hatch)"/>
<text x="455.2" y="144.3" font-size="6.9" font-weight="bold" fill="#ffffff" stroke="#3c3c3c" stroke-width="0.8" paint-order="stroke" text-anchor="middle" textLength="22.0" lengthAdjust="spacingAndGlyphs">C6orf15</text>
<circle cx="547.1" cy="131" r="8.2" fill="#545454"/>
<text x="547.1" y="133.2" font-size="6.9" font-weight="bold" fill="#ffffff" stroke="#3c3c3c" stroke-width="0.8" paint-order="stroke" text-anchor="middle" textLength="17.1" lengthAdjust="spacingAndGlyphs">SCTR</text>
<circle cx="595.7" cy="117.5" r="7.7" fill="#545454"/>
<text x="595.7" y="119.7" font-size="6.9" font-weight="bold" fill="#ffffff" stroke="#3c3c3c" stroke-width="0.8" paint-order="stroke" text-anchor="middle" textLength="15.4" lengthAdjust="spacingAndGlyphs">SYT1</text>
<circle cx="627.6" cy="96" r="7.7" fill="#545454"/>
<text x="627.6" y="98.2" font-size="6.9" font-weight="bold" fill="#ffffff" stroke="#3c3c3c" stroke-width="0.8" paint-order="stroke" text-anchor="middle" textLength="16.8" lengthAdjust="spacingAndGlyphs">SV2C</text>
<circle cx="665.7" cy="107.3" r="7.7" fill="#545454"/>
<text x="665.7" y="109.5" font-size="6.9" font-weight="bold" fill="#ffffff" stroke="#3c3c3c" stroke-width="0.8" paint-order="stroke" text-anchor="middle" textLength="16.8" lengthAdjust="spacingAndGlyphs">SV2A</text>
<circle cx="622.9" cy="166.2" r="7.7" fill="#545454"/>
<text x="622.9" y="168.4" font-size="6.9" font-weight="bold" fill="#ffffff" stroke="#3c3c3c" stroke-width="0.8" paint-order="stroke" text-anchor="middle" textLength="15.8" lengthAdjust="spacingAndGlyphs">CA10</text>
<circle cx="667" cy="163.7" r="7.7" fill="#545454"/>
<text x="667" y="165.9" font-size="6.9" font-weight="bold" fill="#ffffff" stroke="#3c3c3c" stroke-width="0.8" paint-order="stroke" text-anchor="middle" textLength="27.0" lengthAdjust="spacingAndGlyphs">SLC17A7</text>
</g>
<g id="pd" filter="url(#soft)">
<path d="M59.7 281.4H121.7M59.7 271.7H121.7M59.7 262H121.7M59.7 252.3H121.7M59.7 242.6H121.7M59.7 232.9H121.7M59.7 223.2H121.7M62.6 221.9V283.2M70.35 221.9V283.2M78.1 221.9V283.2M85.85 221.9V283.2M93.6 221.9V283.2M101.35 221.9V283.2M109.1 221.9V283.2M116.85 221.9V283.2" stroke="#f2f2f2" stroke-width="0.35" fill="none"/>
<path d="M59.7 221.9V283.2H121.7" stroke="#a8a8a8" stroke-width="0.5" fill="none"/>
<g font-size="2" fill="#777" stroke="#888" stroke-width="0.15"><text x="58.9" y="282" text-anchor="end">10</text><text x="58.9" y="272.3" text-anchor="end">12</text><text x="58.9" y="262.6" text-anchor="end">14</text><text x="58.9" y="252.9" text-anchor="end">16</text><text x="58.9" y="243.2" text-anchor="end">18</text><text x="58.9" y="233.5" text-anchor="end">20</text><text x="58.9" y="223.8" text-anchor="end">22</text><text x="62.6" y="286.1" text-anchor="middle">0</text><text x="70.35" y="286.1" text-anchor="middle">2</text><text x="78.1" y="286.1" text-anchor="middle">4</text><text x="85.85" y="286.1" text-anchor="middle">6</text><text x="93.6" y="286.1" text-anchor="middle">8</text><text x="101.35" y="286.1" text-anchor="middle">10</text><text x="109.1" y="286.1" text-anchor="middle">12</text><text x="116.85" y="286.1" text-anchor="middle">14</text></g>
<g font-size="1.9" fill="#6e6e6e" stroke="#808080" stroke-width="0.2" text-anchor="middle"><text x="90.4" y="289.8" textLength="49" lengthAdjust="spacingAndGlyphs">mRNA Expression, RSEM (Batch normalized from Illumina</text><text x="90.4" y="291.4" textLength="36" lengthAdjust="spacingAndGlyphs">HiSeq_RNASeqV2): SV2B (log2(x + 1))</text></g>
<g font-size="1.9" fill="#6e6e6e" stroke="#808080" stroke-width="0.2" text-anchor="middle" transform="translate(59.7 252.4) rotate(-90)"><text x="0" y="-8.5" textLength="49" lengthAdjust="spacingAndGlyphs">mRNA Expression, RSEM (Batch normalized from Illumina</text><text x="0" y="-6.2" textLength="30" lengthAdjust="spacingAndGlyphs">HiSeq_RNASeqV2): gene (log2(x + 1))</text></g>
<text x="90.7" y="218" font-size="2.5" font-weight="bold" fill="#505050" stroke="#606060" stroke-width="0.3" text-anchor="middle" textLength="16.6" lengthAdjust="spacingAndGlyphs">SV2B vs. PPP1R9B</text>
<g font-size="2.1" fill="#7a7a7a" stroke="#8a8a8a" stroke-width="0.18" text-anchor="middle"><text x="136" y="229.5" textLength="13.3" lengthAdjust="spacingAndGlyphs">Spearman: 0.78</text><text x="136" y="232.5" textLength="12" lengthAdjust="spacingAndGlyphs">(p = 2.76e-25)</text><text x="136" y="236.7" textLength="12" lengthAdjust="spacingAndGlyphs">Pearson: 0.77</text><text x="136" y="239.8" textLength="12" lengthAdjust="spacingAndGlyphs">(p = 8.31e-25)</text><text x="136" y="243.3" textLength="16" lengthAdjust="spacingAndGlyphs">y = 0.84x + 2.58</text><text x="133.5" y="246.2" textLength="7.3" lengthAdjust="spacingAndGlyphs">R² = 0.52</text></g>
<g fill="#428ade" fill-opacity="0.85"><circle cx="100.75" cy="250.95" r="0.78"/><circle cx="89" cy="245.76" r="0.78"/><circle cx="97.71" cy="251.78" r="0.78"/><circle cx="85.48" cy="249.47" r="0.78"/><circle cx="96.25" cy="258.54" r="0.78"/><circle cx="99.31" cy="246.84" r="0.78"/><circle cx="86.32" cy="258.6" r="0.78"/><circle cx="84.12" cy="259.31" r="0.78"/><circle cx="96.38" cy="244.59" r="0.78"/><circle cx="89.43" cy="250.79" r="0.78"/><circle cx="106" cy="251.32" r="0.78"/><circle cx="94.9" cy="251" r="0.78"/><circle cx="112.19" cy="238.49" r="0.78"/><circle cx="82.52" cy="261.55" r="0.78"/><circle cx="101.18" cy="247.62" r="0.78"/><circle cx="108.66" cy="238.78" r="0.78"/><circle cx="85.29" cy="261.82" r="0.78"/><circle cx="116.7" cy="231.4" r="0.78"/><circle cx="98.19" cy="249" r="0.78"/><circle cx="86.57" cy="256.24" r="0.78"/><circle cx="90.69" cy="247.37" r="0.78"/><circle cx="100.84" cy="236.61" r="0.78"/><circle cx="106.71" cy="245.59" r="0.78"/><circle cx="101.63" cy="247.49" r="0.78"/><circle cx="90.02" cy="244.44" r="0.78"/><circle cx="103.35" cy="241.26" r="0.78"/><circle cx="99.36" cy="240.03" r="0.78"/><circle cx="78.26" cy="261.61" r="0.78"/><circle cx="96.01" cy="247.17" r="0.78"/><circle cx="109.93" cy="243.56" r="0.78"/><circle cx="91.08" cy="249.69" r="0.78"/><circle cx="78.47" cy="258.74" r="0.78"/><circle cx="100.13" cy="231.75" r="0.78"/><circle cx="95.33" cy="250.93" r="0.78"/><circle cx="100.44" cy="248.85" r="0.78"/><circle cx="93.4" cy="249.55" r="0.78"/><circle cx="78.29" cy="261.85" r="0.78"/><circle cx="77.46" cy="254.02" r="0.78"/><circle cx="102.81" cy="246.49" r="0.78"/><circle cx="114.06" cy="238.4" r="0.78"/><circle cx="99.94" cy="256.14" r="0.78"/><circle cx="94.54" cy="258.29" r="0.78"/><circle cx="81.18" cy="261.98" r="0.78"/><circle cx="83.28" cy="245.05" r="0.78"/><circle cx="84.25" cy="261.98" r="0.78"/><circle cx="92.79" cy="248.14" r="0.78"/><circle cx="108.11" cy="243.43" r="0.78"/><circle cx="95.53" cy="247.07" r="0.78"/><circle cx="110.81" cy="241.07" r="0.78"/><circle cx="87.2" cy="254.29" r="0.78"/><circle cx="86.84" cy="255.75" r="0.78"/><circle cx="100.98" cy="241.37" r="0.78"/><circle cx="83.22" cy="251.8" r="0.78"/><circle cx="81.71" cy="254.29" r="0.78"/><circle cx="87.13" cy="263.75" r="0.78"/><circle cx="95.47" cy="254.53" r="0.78"/><circle cx="88.3" cy="238.7" r="0.78"/><circle cx="81.97" cy="260.61" r="0.78"/><circle cx="90.43" cy="248.79" r="0.78"/><circle cx="74.89" cy="258.32" r="0.78"/><circle cx="106.72" cy="241.87" r="0.78"/><circle cx="102.86" cy="243.73" r="0.78"/><circle cx="90.04" cy="245.07" r="0.78"/><circle cx="84.47" cy="256.42" r="0.78"/><circle cx="102.69" cy="241.95" r="0.78"/><circle cx="96.3" cy="257.52" r="0.78"/><circle cx="96.78" cy="259.73" r="0.78"/><circle cx="97.14" cy="250.12" r="0.78"/><circle cx="106.62" cy="238.04" r="0.78"/><circle cx="81.59" cy="258.45" r="0.78"/><circle cx="87.77" cy="248.98" r="0.78"/><circle cx="83.59" cy="252.85" r="0.78"/><circle cx="98.94" cy="249.65" r="0.78"/><circle cx="90.61" cy="247.21" r="0.78"/><circle cx="101.28" cy="249.44" r="0.78"/><circle cx="90.28" cy="251.03" r="0.78"/><circle cx="101.26" cy="242.48" r="0.78"/><circle cx="90.9" cy="254.86" r="0.78"/><circle cx="90.06" cy="250.54" r="0.78"/><circle cx="89.71" cy="253.96" r="0.78"/><circle cx="91.32" cy="254.66" r="0.78"/><circle cx="114.36" cy="234.4" r="0.78"/><circle cx="81.91" cy="256.79" r="0.78"/><circle cx="82.7" cy="249.28" r="0.78"/><circle cx="91.12" cy="262.08" r="0.78"/><circle cx="87.16" cy="255.76" r="0.78"/><circle cx="103.86" cy="243.45" r="0.78"/><circle cx="86.33" cy="257.7" r="0.78"/><circle cx="94.43" cy="263.96" r="0.78"/><circle cx="89.86" cy="255.3" r="0.78"/><circle cx="81.29" cy="263.97" r="0.78"/><circle cx="91.9" cy="252.32" r="0.78"/><circle cx="105.67" cy="245.25" r="0.78"/><circle cx="96.18" cy="244.84" r="0.78"/><circle cx="92.98" cy="257.58" r="0.78"/><circle cx="92.13" cy="247.63" r="0.78"/><circle cx="83.08" cy="266.59" r="0.78"/><circle cx="84.01" cy="263.4" r="0.78"/><circle cx="93.94" cy="252.97" r="0.78"/><circle cx="93.76" cy="251.64" r="0.78"/><circle cx="91.45" cy="257.52" r="0.78"/><circle cx="103.65" cy="253.95" r="0.78"/><circle cx="85.49" cy="245.83" r="0.78"/><circle cx="72.86" cy="262.09" r="0.78"/><circle cx="73.14" cy="272.15" r="0.78"/><circle cx="116.7" cy="240.65" r="0.78"/><circle cx="76.64" cy="258.68" r="0.78"/><circle cx="108.93" cy="247.06" r="0.78"/><circle cx="105.41" cy="242.8" r="0.78"/><circle cx="95.35" cy="243.6" r="0.78"/><circle cx="109.08" cy="243.88" r="0.78"/><circle cx="95.59" cy="251.58" r="0.78"/><circle cx="85.24" cy="249.87" r="0.78"/><circle cx="84.94" cy="262.27" r="0.78"/><circle cx="83.17" cy="256.54" r="0.78"/><circle cx="99.64" cy="252.97" r="0.78"/><circle cx="98.08" cy="240.33" r="0.78"/><circle cx="67.75" cy="276.59" r="0.78"/><circle cx="99.79" cy="241.23" r="0.78"/><circle cx="97.09" cy="243.32" r="0.78"/><circle cx="96.8" cy="246.85" r="0.78"/><circle cx="97.49" cy="259.02" r="0.78"/><circle cx="97.39" cy="235.42" r="0.78"/><circle cx="86.77" cy="252.97" r="0.78"/><circle cx="108.15" cy="237.76" r="0.78"/><circle cx="99.3" cy="243.2" r="0.78"/><circle cx="100.03" cy="243.27" r="0.78"/><circle cx="95.81" cy="244.04" r="0.78"/><circle cx="99.46" cy="247.34" r="0.78"/><circle cx="105.39" cy="246.11" r="0.78"/><circle cx="94.62" cy="252.55" r="0.78"/><circle cx="87.08" cy="257.38" r="0.78"/><circle cx="103.14" cy="241.87" r="0.78"/><circle cx="79" cy="256.74" r="0.78"/><circle cx="90.26" cy="253.73" r="0.78"/><circle cx="117.32" cy="230.4" r="0.78"/><circle cx="118.1" cy="230.6" r="0.78"/><circle cx="115.06" cy="235.42" r="0.78"/><circle cx="116.49" cy="233.28" r="0.78"/><circle cx="114.47" cy="231.23" r="0.78"/><circle cx="116.72" cy="234.14" r="0.78"/></g>
<line x1="66.3" y1="266.4" x2="115.2" y2="238.4" stroke="#c85a5a" stroke-width="0.6" opacity="0.9"/>
<path d="M183.7 281.5H245.7M183.7 271.8H245.7M183.7 262.1H245.7M183.7 252.4H245.7M183.7 242.7H245.7M183.7 233H245.7M183.7 223.3H245.7M186.6 222V283.3M194.35 222V283.3M202.1 222V283.3M209.85 222V283.3M217.6 222V283.3M225.35 222V283.3M233.1 222V283.3M240.85 222V283.3" stroke="#f2f2f2" stroke-width="0.35" fill="none"/>
<path d="M183.7 222V283.3H245.7" stroke="#a8a8a8" stroke-width="0.5" fill="none"/>
<g font-size="2" fill="#777" stroke="#888" stroke-width="0.15"><text x="182.9" y="282.1" text-anchor="end">10</text><text x="182.9" y="272.4" text-anchor="end">12</text><text x="182.9" y="262.7" text-anchor="end">14</text><text x="182.9" y="253" text-anchor="end">16</text><text x="182.9" y="243.3" text-anchor="end">18</text><text x="182.9" y="233.6" text-anchor="end">20</text><text x="182.9" y="223.9" text-anchor="end">22</text><text x="186.6" y="286.2" text-anchor="middle">0</text><text x="194.35" y="286.2" text-anchor="middle">2</text><text x="202.1" y="286.2" text-anchor="middle">4</text><text x="209.85" y="286.2" text-anchor="middle">6</text><text x="217.6" y="286.2" text-anchor="middle">8</text><text x="225.35" y="286.2" text-anchor="middle">10</text><text x="233.1" y="286.2" text-anchor="middle">12</text><text x="240.85" y="286.2" text-anchor="middle">14</text></g>
<g font-size="1.9" fill="#6e6e6e" stroke="#808080" stroke-width="0.2" text-anchor="middle"><text x="214.4" y="289.9" textLength="49" lengthAdjust="spacingAndGlyphs">mRNA Expression, RSEM (Batch normalized from Illumina</text><text x="214.4" y="291.5" textLength="36" lengthAdjust="spacingAndGlyphs">HiSeq_RNASeqV2): SV2B (log2(x + 1))</text></g>
<g font-size="1.9" fill="#6e6e6e" stroke="#808080" stroke-width="0.2" text-anchor="middle" transform="translate(183.7 252.5) rotate(-90)"><text x="0" y="-8.5" textLength="49" lengthAdjust="spacingAndGlyphs">mRNA Expression, RSEM (Batch normalized from Illumina</text><text x="0" y="-6.2" textLength="30" lengthAdjust="spacingAndGlyphs">HiSeq_RNASeqV2): gene (log2(x + 1))</text></g>
<text x="214.7" y="218.1" font-size="2.5" font-weight="bold" fill="#505050" stroke="#606060" stroke-width="0.3" text-anchor="middle" textLength="16.6" lengthAdjust="spacingAndGlyphs">SV2B vs. SLC17A7</text>
<g font-size="2.1" fill="#7a7a7a" stroke="#8a8a8a" stroke-width="0.18" text-anchor="middle"><text x="260" y="229.6" textLength="13.3" lengthAdjust="spacingAndGlyphs">Spearman: 0.78</text><text x="260" y="232.6" textLength="12" lengthAdjust="spacingAndGlyphs">(p = 2.76e-25)</text><text x="260" y="236.8" textLength="12" lengthAdjust="spacingAndGlyphs">Pearson: 0.77</text><text x="260" y="239.9" textLength="12" lengthAdjust="spacingAndGlyphs">(p = 8.31e-25)</text><text x="260" y="243.4" textLength="16" lengthAdjust="spacingAndGlyphs">y = 0.84x + 2.58</text><text x="257.5" y="246.3" textLength="7.3" lengthAdjust="spacingAndGlyphs">R² = 0.52</text></g>
<g fill="#428ade" fill-opacity="0.85"><circle cx="211.67" cy="256.6" r="0.78"/><circle cx="228.16" cy="243.2" r="0.78"/><circle cx="219.34" cy="255.77" r="0.78"/><circle cx="215.13" cy="252.39" r="0.78"/><circle cx="223.92" cy="260.24" r="0.78"/><circle cx="208.52" cy="261.32" r="0.78"/><circle cx="211.79" cy="259.98" r="0.78"/><circle cx="216" cy="257.15" r="0.78"/><circle cx="211.1" cy="252.04" r="0.78"/><circle cx="209.61" cy="262.67" r="0.78"/><circle cx="204.81" cy="276.2" r="0.78"/><circle cx="233.2" cy="246.82" r="0.78"/><circle cx="212.5" cy="260.5" r="0.78"/><circle cx="228.82" cy="244.76" r="0.78"/><circle cx="218.61" cy="247.96" r="0.78"/><circle cx="228.24" cy="236.47" r="0.78"/><circle cx="227.85" cy="254.13" r="0.78"/><circle cx="222.19" cy="247.95" r="0.78"/><circle cx="235.88" cy="240.98" r="0.78"/><circle cx="237.92" cy="235.04" r="0.78"/><circle cx="229.75" cy="249.74" r="0.78"/><circle cx="224.47" cy="240.42" r="0.78"/><circle cx="225.75" cy="255.38" r="0.78"/><circle cx="226.61" cy="243.57" r="0.78"/><circle cx="234.57" cy="250.34" r="0.78"/><circle cx="215.65" cy="256.74" r="0.78"/><circle cx="214.06" cy="264.58" r="0.78"/><circle cx="213.71" cy="260.14" r="0.78"/><circle cx="206.9" cy="262.86" r="0.78"/><circle cx="225.95" cy="235.61" r="0.78"/><circle cx="212.18" cy="271.02" r="0.78"/><circle cx="228.19" cy="246.14" r="0.78"/><circle cx="215.94" cy="253.73" r="0.78"/><circle cx="220.71" cy="246" r="0.78"/><circle cx="210.08" cy="253.3" r="0.78"/><circle cx="208.08" cy="251.52" r="0.78"/><circle cx="224.68" cy="244.58" r="0.78"/><circle cx="220.95" cy="261.77" r="0.78"/><circle cx="208.42" cy="252.6" r="0.78"/><circle cx="212.66" cy="255.03" r="0.78"/><circle cx="209.37" cy="258.48" r="0.78"/><circle cx="216.94" cy="264.32" r="0.78"/><circle cx="234.99" cy="239.26" r="0.78"/><circle cx="209.22" cy="257.91" r="0.78"/><circle cx="214.53" cy="256.61" r="0.78"/><circle cx="218.48" cy="254.27" r="0.78"/><circle cx="232.09" cy="241.69" r="0.78"/><circle cx="240.7" cy="237.2" r="0.78"/><circle cx="220.98" cy="239.07" r="0.78"/><circle cx="222.78" cy="255.08" r="0.78"/><circle cx="220.93" cy="252.62" r="0.78"/><circle cx="205.6" cy="277.31" r="0.78"/><circle cx="210.55" cy="260.93" r="0.78"/><circle cx="221.58" cy="254.1" r="0.78"/><circle cx="213.95" cy="254.01" r="0.78"/><circle cx="221.17" cy="243.14" r="0.78"/><circle cx="237.64" cy="249.4" r="0.78"/><circle cx="235.15" cy="237.35" r="0.78"/><circle cx="221.31" cy="249.32" r="0.78"/><circle cx="240.25" cy="237.43" r="0.78"/><circle cx="228.39" cy="250.75" r="0.78"/><circle cx="240.7" cy="245.56" r="0.78"/><circle cx="198.43" cy="263.89" r="0.78"/><circle cx="224.78" cy="250.42" r="0.78"/><circle cx="216.09" cy="252.52" r="0.78"/><circle cx="222.07" cy="251.16" r="0.78"/><circle cx="227.64" cy="254.05" r="0.78"/><circle cx="204.12" cy="269.9" r="0.78"/><circle cx="213.46" cy="249.39" r="0.78"/><circle cx="215.16" cy="252.11" r="0.78"/><circle cx="218.12" cy="256.96" r="0.78"/><circle cx="207.69" cy="257.86" r="0.78"/><circle cx="220.61" cy="251.25" r="0.78"/><circle cx="226.51" cy="247.99" r="0.78"/><circle cx="218.09" cy="248.58" r="0.78"/><circle cx="225.08" cy="241" r="0.78"/><circle cx="204.23" cy="258.12" r="0.78"/><circle cx="194.08" cy="274.42" r="0.78"/><circle cx="229.15" cy="244.31" r="0.78"/><circle cx="218.67" cy="253.8" r="0.78"/><circle cx="237.88" cy="236.63" r="0.78"/><circle cx="213.07" cy="259.95" r="0.78"/><circle cx="207.26" cy="261.84" r="0.78"/><circle cx="216.61" cy="249.35" r="0.78"/><circle cx="217.37" cy="248.61" r="0.78"/><circle cx="220.86" cy="248.17" r="0.78"/><circle cx="221.17" cy="248.88" r="0.78"/><circle cx="213.15" cy="253.53" r="0.78"/><circle cx="226.94" cy="237.42" r="0.78"/><circle cx="233.87" cy="241.93" r="0.78"/><circle cx="207.37" cy="256.56" r="0.78"/><circle cx="225.04" cy="246.82" r="0.78"/><circle cx="214.13" cy="256.95" r="0.78"/><circle cx="218.04" cy="251.15" r="0.78"/><circle cx="226.38" cy="243.52" r="0.78"/><circle cx="220.74" cy="243.18" r="0.78"/><circle cx="227.72" cy="239.88" r="0.78"/><circle cx="234.33" cy="238.97" r="0.78"/><circle cx="220.69" cy="250.5" r="0.78"/><circle cx="216.25" cy="254.32" r="0.78"/><circle cx="214.97" cy="249.81" r="0.78"/><circle cx="214.55" cy="262.17" r="0.78"/><circle cx="230.91" cy="242.88" r="0.78"/><circle cx="222.63" cy="251.31" r="0.78"/><circle cx="220.15" cy="249.59" r="0.78"/><circle cx="208.74" cy="260.39" r="0.78"/><circle cx="223.7" cy="253.42" r="0.78"/><circle cx="226.72" cy="263.06" r="0.78"/><circle cx="240.7" cy="245.52" r="0.78"/><circle cx="222.38" cy="248.2" r="0.78"/><circle cx="224.37" cy="246.62" r="0.78"/><circle cx="209.95" cy="267.09" r="0.78"/><circle cx="204.78" cy="271.62" r="0.78"/><circle cx="211.93" cy="263.78" r="0.78"/><circle cx="212.18" cy="269.07" r="0.78"/><circle cx="230.5" cy="253.11" r="0.78"/><circle cx="222.71" cy="250" r="0.78"/><circle cx="233.93" cy="234.9" r="0.78"/><circle cx="195.17" cy="274.37" r="0.78"/><circle cx="226.31" cy="250.23" r="0.78"/><circle cx="232.68" cy="230.35" r="0.78"/><circle cx="200.28" cy="278.62" r="0.78"/><circle cx="205.68" cy="257.76" r="0.78"/><circle cx="234.18" cy="235.22" r="0.78"/><circle cx="219.01" cy="264.68" r="0.78"/><circle cx="198.99" cy="267.52" r="0.78"/><circle cx="224.16" cy="243.55" r="0.78"/><circle cx="218.87" cy="270.43" r="0.78"/><circle cx="212.63" cy="254.75" r="0.78"/><circle cx="212.99" cy="261.8" r="0.78"/><circle cx="216.81" cy="252.98" r="0.78"/><circle cx="198.89" cy="268.5" r="0.78"/><circle cx="192.91" cy="276.79" r="0.78"/><circle cx="220.86" cy="259.88" r="0.78"/><circle cx="195.52" cy="267.94" r="0.78"/><circle cx="239.37" cy="231.31" r="0.78"/><circle cx="241.13" cy="230.32" r="0.78"/><circle cx="240.35" cy="231.84" r="0.78"/><circle cx="239.88" cy="235.3" r="0.78"/><circle cx="239.85" cy="233.72" r="0.78"/><circle cx="239.78" cy="231.94" r="0.78"/></g>
<line x1="190.7" y1="274" x2="238.8" y2="237.7" stroke="#c85a5a" stroke-width="0.6" opacity="0.9"/>
<path d="M302.8 281.8H364.8M302.8 272.1H364.8M302.8 262.4H364.8M302.8 252.7H364.8M302.8 243H364.8M302.8 233.3H364.8M302.8 223.6H364.8M305.7 222.3V283.6M313.45 222.3V283.6M321.2 222.3V283.6M328.95 222.3V283.6M336.7 222.3V283.6M344.45 222.3V283.6M352.2 222.3V283.6M359.95 222.3V283.6" stroke="#f2f2f2" stroke-width="0.35" fill="none"/>
<path d="M302.8 222.3V283.6H364.8" stroke="#a8a8a8" stroke-width="0.5" fill="none"/>
<g font-size="2" fill="#777" stroke="#888" stroke-width="0.15"><text x="302" y="282.4" text-anchor="end">10</text><text x="302" y="272.7" text-anchor="end">12</text><text x="302" y="263" text-anchor="end">14</text><text x="302" y="253.3" text-anchor="end">16</text><text x="302" y="243.6" text-anchor="end">18</text><text x="302" y="233.9" text-anchor="end">20</text><text x="302" y="224.2" text-anchor="end">22</text><text x="305.7" y="286.5" text-anchor="middle">0</text><text x="313.45" y="286.5" text-anchor="middle">2</text><text x="321.2" y="286.5" text-anchor="middle">4</text><text x="328.95" y="286.5" text-anchor="middle">6</text><text x="336.7" y="286.5" text-anchor="middle">8</text><text x="344.45" y="286.5" text-anchor="middle">10</text><text x="352.2" y="286.5" text-anchor="middle">12</text><text x="359.95" y="286.5" text-anchor="middle">14</text></g>
<g font-size="1.9" fill="#6e6e6e" stroke="#808080" stroke-width="0.2" text-anchor="middle"><text x="333.5" y="290.2" textLength="49" lengthAdjust="spacingAndGlyphs">mRNA Expression, RSEM (Batch normalized from Illumina</text><text x="333.5" y="291.8" textLength="36" lengthAdjust="spacingAndGlyphs">HiSeq_RNASeqV2): SV2B (log2(x + 1))</text></g>
<g font-size="1.9" fill="#6e6e6e" stroke="#808080" stroke-width="0.2" text-anchor="middle" transform="translate(302.8 252.8) rotate(-90)"><text x="0" y="-8.5" textLength="49" lengthAdjust="spacingAndGlyphs">mRNA Expression, RSEM (Batch normalized from Illumina</text><text x="0" y="-6.2" textLength="30" lengthAdjust="spacingAndGlyphs">HiSeq_RNASeqV2): gene (log2(x + 1))</text></g>
<text x="333.8" y="218.4" font-size="2.5" font-weight="bold" fill="#505050" stroke="#606060" stroke-width="0.3" text-anchor="middle" textLength="16.6" lengthAdjust="spacingAndGlyphs">SV2B vs. RAB10</text>
<g font-size="2.1" fill="#7a7a7a" stroke="#8a8a8a" stroke-width="0.18" text-anchor="middle"><text x="379.1" y="229.9" textLength="13.3" lengthAdjust="spacingAndGlyphs">Spearman: 0.78</text><text x="379.1" y="232.9" textLength="12" lengthAdjust="spacingAndGlyphs">(p = 2.76e-25)</text><text x="379.1" y="237.1" textLength="12" lengthAdjust="spacingAndGlyphs">Pearson: 0.77</text><text x="379.1" y="240.2" textLength="12" lengthAdjust="spacingAndGlyphs">(p = 8.31e-25)</text><text x="379.1" y="243.7" textLength="16" lengthAdjust="spacingAndGlyphs">y = 0.84x + 2.58</text><text x="376.6" y="246.6" textLength="7.3" lengthAdjust="spacingAndGlyphs">R² = 0.52</text></g>
<g fill="#428ade" fill-opacity="0.85"><circle cx="345.47" cy="244.14" r="0.78"/><circle cx="333.45" cy="239.18" r="0.78"/><circle cx="326.76" cy="256.68" r="0.78"/><circle cx="336.3" cy="233.85" r="0.78"/><circle cx="339.68" cy="236.96" r="0.78"/><circle cx="339.78" cy="242.83" r="0.78"/><circle cx="316.82" cy="250.61" r="0.78"/><circle cx="333.95" cy="239.58" r="0.78"/><circle cx="326.6" cy="260.36" r="0.78"/><circle cx="328.82" cy="254.88" r="0.78"/><circle cx="336.63" cy="238.64" r="0.78"/><circle cx="342.11" cy="239.03" r="0.78"/><circle cx="324.22" cy="247.41" r="0.78"/><circle cx="326.23" cy="248.02" r="0.78"/><circle cx="351.81" cy="229.12" r="0.78"/><circle cx="311.75" cy="260.56" r="0.78"/><circle cx="321.91" cy="245.41" r="0.78"/><circle cx="323.41" cy="256.67" r="0.78"/><circle cx="349.43" cy="232.91" r="0.78"/><circle cx="349.49" cy="235.38" r="0.78"/><circle cx="359.8" cy="225.86" r="0.78"/><circle cx="355.44" cy="237.15" r="0.78"/><circle cx="330.78" cy="249.75" r="0.78"/><circle cx="343.56" cy="238.56" r="0.78"/><circle cx="332.93" cy="243.05" r="0.78"/><circle cx="344.28" cy="243.77" r="0.78"/><circle cx="345.92" cy="240.8" r="0.78"/><circle cx="341.2" cy="243.09" r="0.78"/><circle cx="329.79" cy="255.03" r="0.78"/><circle cx="337.09" cy="246.74" r="0.78"/><circle cx="336.5" cy="240.64" r="0.78"/><circle cx="343.69" cy="231.09" r="0.78"/><circle cx="345.09" cy="233.06" r="0.78"/><circle cx="342.15" cy="242.28" r="0.78"/><circle cx="321.41" cy="258.69" r="0.78"/><circle cx="347.13" cy="245.31" r="0.78"/><circle cx="341.21" cy="245.92" r="0.78"/><circle cx="337.33" cy="241.99" r="0.78"/><circle cx="341.16" cy="237.86" r="0.78"/><circle cx="333.83" cy="230.8" r="0.78"/><circle cx="341.77" cy="239.58" r="0.78"/><circle cx="322.66" cy="267.95" r="0.78"/><circle cx="318.66" cy="256.01" r="0.78"/><circle cx="341.27" cy="233.67" r="0.78"/><circle cx="359.15" cy="229.35" r="0.78"/><circle cx="359.8" cy="230.31" r="0.78"/><circle cx="348.14" cy="240.5" r="0.78"/><circle cx="329.18" cy="249.46" r="0.78"/><circle cx="331.31" cy="245.55" r="0.78"/><circle cx="349.92" cy="240.51" r="0.78"/><circle cx="340.08" cy="245.32" r="0.78"/><circle cx="340.92" cy="234.04" r="0.78"/><circle cx="342.84" cy="233.63" r="0.78"/><circle cx="339.55" cy="234.63" r="0.78"/><circle cx="324.85" cy="254.92" r="0.78"/><circle cx="341.67" cy="233.07" r="0.78"/><circle cx="336.02" cy="249.52" r="0.78"/><circle cx="331.83" cy="252.04" r="0.78"/><circle cx="320.72" cy="248.46" r="0.78"/><circle cx="329.84" cy="248.74" r="0.78"/><circle cx="341.87" cy="241.18" r="0.78"/><circle cx="331.52" cy="269.05" r="0.78"/><circle cx="335.83" cy="242.65" r="0.78"/><circle cx="333.26" cy="232.07" r="0.78"/><circle cx="331.6" cy="243.92" r="0.78"/><circle cx="332.44" cy="258.44" r="0.78"/><circle cx="342.82" cy="238.61" r="0.78"/><circle cx="341.19" cy="247.94" r="0.78"/><circle cx="318.5" cy="251.47" r="0.78"/><circle cx="333.69" cy="251.26" r="0.78"/><circle cx="351.62" cy="238.94" r="0.78"/><circle cx="337.91" cy="249.68" r="0.78"/><circle cx="337.4" cy="243.2" r="0.78"/><circle cx="343.41" cy="234.07" r="0.78"/><circle cx="325.91" cy="245.81" r="0.78"/><circle cx="335.03" cy="239.15" r="0.78"/><circle cx="337.63" cy="242.27" r="0.78"/><circle cx="311.54" cy="258.19" r="0.78"/><circle cx="320.74" cy="257.24" r="0.78"/><circle cx="347.49" cy="236.27" r="0.78"/><circle cx="329.14" cy="248.21" r="0.78"/><circle cx="352.75" cy="235.16" r="0.78"/><circle cx="357.41" cy="232.43" r="0.78"/><circle cx="334.71" cy="243.98" r="0.78"/><circle cx="338.93" cy="246" r="0.78"/><circle cx="314.23" cy="254.64" r="0.78"/><circle cx="348" cy="240.2" r="0.78"/><circle cx="330.62" cy="236.53" r="0.78"/><circle cx="328.73" cy="246.77" r="0.78"/><circle cx="328.45" cy="254.2" r="0.78"/><circle cx="330.93" cy="250.16" r="0.78"/><circle cx="343.01" cy="237.92" r="0.78"/><circle cx="342.26" cy="244.49" r="0.78"/><circle cx="349.37" cy="240.34" r="0.78"/><circle cx="339.53" cy="238.73" r="0.78"/><circle cx="343.14" cy="239.68" r="0.78"/><circle cx="347.3" cy="236.74" r="0.78"/><circle cx="348.05" cy="244.76" r="0.78"/><circle cx="346.55" cy="233.77" r="0.78"/><circle cx="359.33" cy="230.14" r="0.78"/><circle cx="322.67" cy="247.1" r="0.78"/><circle cx="339.34" cy="245.71" r="0.78"/><circle cx="310.34" cy="266.19" r="0.78"/><circle cx="330.66" cy="246.93" r="0.78"/><circle cx="325.69" cy="246.38" r="0.78"/><circle cx="314.84" cy="258" r="0.78"/><circle cx="347.18" cy="245.39" r="0.78"/><circle cx="356.71" cy="225.88" r="0.78"/><circle cx="341.73" cy="248.15" r="0.78"/><circle cx="324.44" cy="256.74" r="0.78"/><circle cx="345.86" cy="243" r="0.78"/><circle cx="341.62" cy="240.36" r="0.78"/><circle cx="324.3" cy="262.69" r="0.78"/><circle cx="344.32" cy="242.01" r="0.78"/><circle cx="344.89" cy="246.54" r="0.78"/><circle cx="336.42" cy="240.41" r="0.78"/><circle cx="332.96" cy="243.18" r="0.78"/><circle cx="342.41" cy="236.33" r="0.78"/><circle cx="324.91" cy="245.61" r="0.78"/><circle cx="317.89" cy="250.95" r="0.78"/><circle cx="357.92" cy="226.57" r="0.78"/><circle cx="333.33" cy="241.18" r="0.78"/><circle cx="346.4" cy="235.79" r="0.78"/><circle cx="320" cy="251.04" r="0.78"/><circle cx="350.65" cy="241.32" r="0.78"/><circle cx="359.8" cy="228.76" r="0.78"/><circle cx="347.57" cy="233.27" r="0.78"/><circle cx="346.96" cy="237.53" r="0.78"/><circle cx="336.83" cy="232.18" r="0.78"/><circle cx="325.65" cy="251.49" r="0.78"/><circle cx="341.79" cy="237.71" r="0.78"/><circle cx="356.28" cy="239.15" r="0.78"/><circle cx="337.87" cy="241.32" r="0.78"/><circle cx="336.33" cy="235.6" r="0.78"/><circle cx="317.72" cy="255.94" r="0.78"/><circle cx="356.47" cy="226.93" r="0.78"/><circle cx="360.45" cy="227.12" r="0.78"/><circle cx="359.93" cy="225.18" r="0.78"/><circle cx="358.46" cy="224.6" r="0.78"/><circle cx="359.99" cy="226.78" r="0.78"/><circle cx="356.9" cy="229.05" r="0.78"/></g>
<line x1="308.9" y1="260" x2="358" y2="231.4" stroke="#c85a5a" stroke-width="0.6" opacity="0.9"/>
<path d="M421 285.7H483M421 276H483M421 266.3H483M421 256.6H483M421 246.9H483M421 237.2H483M421 227.5H483M423.9 226.2V287.5M431.65 226.2V287.5M439.4 226.2V287.5M447.15 226.2V287.5M454.9 226.2V287.5M462.65 226.2V287.5M470.4 226.2V287.5M478.15 226.2V287.5" stroke="#f2f2f2" stroke-width="0.35" fill="none"/>
<path d="M421 226.2V287.5H483" stroke="#a8a8a8" stroke-width="0.5" fill="none"/>
<g font-size="2" fill="#777" stroke="#888" stroke-width="0.15"><text x="420.2" y="286.3" text-anchor="end">10</text><text x="420.2" y="276.6" text-anchor="end">12</text><text x="420.2" y="266.9" text-anchor="end">14</text><text x="420.2" y="257.2" text-anchor="end">16</text><text x="420.2" y="247.5" text-anchor="end">18</text><text x="420.2" y="237.8" text-anchor="end">20</text><text x="420.2" y="228.1" text-anchor="end">22</text><text x="423.9" y="290.4" text-anchor="middle">0</text><text x="431.65" y="290.4" text-anchor="middle">2</text><text x="439.4" y="290.4" text-anchor="middle">4</text><text x="447.15" y="290.4" text-anchor="middle">6</text><text x="454.9" y="290.4" text-anchor="middle">8</text><text x="462.65" y="290.4" text-anchor="middle">10</text><text x="470.4" y="290.4" text-anchor="middle">12</text><text x="478.15" y="290.4" text-anchor="middle">14</text></g>
<g font-size="1.9" fill="#6e6e6e" stroke="#808080" stroke-width="0.2" text-anchor="middle"><text x="451.7" y="294.1" textLength="49" lengthAdjust="spacingAndGlyphs">mRNA Expression, RSEM (Batch normalized from Illumina</text><text x="451.7" y="295.7" textLength="36" lengthAdjust="spacingAndGlyphs">HiSeq_RNASeqV2): SV2B (log2(x + 1))</text></g>
<g font-size="1.9" fill="#6e6e6e" stroke="#808080" stroke-width="0.2" text-anchor="middle" transform="translate(421 256.7) rotate(-90)"><text x="0" y="-8.5" textLength="49" lengthAdjust="spacingAndGlyphs">mRNA Expression, RSEM (Batch normalized from Illumina</text><text x="0" y="-6.2" textLength="30" lengthAdjust="spacingAndGlyphs">HiSeq_RNASeqV2): gene (log2(x + 1))</text></g>
<text x="452" y="222.3" font-size="2.5" font-weight="bold" fill="#505050" stroke="#606060" stroke-width="0.3" text-anchor="middle" textLength="16.6" lengthAdjust="spacingAndGlyphs">SV2B vs. SLC17A7</text>
<g font-size="2.1" fill="#7a7a7a" stroke="#8a8a8a" stroke-width="0.18" text-anchor="middle"><text x="497.3" y="233.8" textLength="13.3" lengthAdjust="spacingAndGlyphs">Spearman: 0.78</text><text x="497.3" y="236.8" textLength="12" lengthAdjust="spacingAndGlyphs">(p = 2.76e-25)</text><text x="497.3" y="241" textLength="12" lengthAdjust="spacingAndGlyphs">Pearson: 0.77</text><text x="497.3" y="244.1" textLength="12" lengthAdjust="spacingAndGlyphs">(p = 8.31e-25)</text><text x="497.3" y="247.6" textLength="16" lengthAdjust="spacingAndGlyphs">y = 0.84x + 2.58</text><text x="494.8" y="250.5" textLength="7.3" lengthAdjust="spacingAndGlyphs">R² = 0.52</text></g>
<g fill="#428ade" fill-opacity="0.85"><circle cx="466.49" cy="245.41" r="0.78"/><circle cx="454.31" cy="265.21" r="0.78"/><circle cx="448.4" cy="255.84" r="0.78"/><circle cx="449.5" cy="254.41" r="0.78"/><circle cx="430.56" cy="262.76" r="0.78"/><circle cx="448.16" cy="257.98" r="0.78"/><circle cx="463.89" cy="243.21" r="0.78"/><circle cx="457.25" cy="260.47" r="0.78"/><circle cx="451.71" cy="256.34" r="0.78"/><circle cx="458.17" cy="260.05" r="0.78"/><circle cx="462.58" cy="242.32" r="0.78"/><circle cx="455.63" cy="248.66" r="0.78"/><circle cx="448.34" cy="261.19" r="0.78"/><circle cx="474.19" cy="242.46" r="0.78"/><circle cx="431.5" cy="272.73" r="0.78"/><circle cx="443.37" cy="271.95" r="0.78"/><circle cx="458.87" cy="248.33" r="0.78"/><circle cx="471.49" cy="249.82" r="0.78"/><circle cx="463.53" cy="262.94" r="0.78"/><circle cx="439.73" cy="272.74" r="0.78"/><circle cx="454.99" cy="253.37" r="0.78"/><circle cx="469.56" cy="245.66" r="0.78"/><circle cx="441.95" cy="263.7" r="0.78"/><circle cx="456.36" cy="258.88" r="0.78"/><circle cx="448.77" cy="256.23" r="0.78"/><circle cx="448.51" cy="265.69" r="0.78"/><circle cx="447.51" cy="267.61" r="0.78"/><circle cx="426.33" cy="274.56" r="0.78"/><circle cx="460.82" cy="249.07" r="0.78"/><circle cx="456.1" cy="253.13" r="0.78"/><circle cx="472.41" cy="232.96" r="0.78"/><circle cx="449.67" cy="262.97" r="0.78"/><circle cx="457.29" cy="253.83" r="0.78"/><circle cx="450.63" cy="256.5" r="0.78"/><circle cx="449.85" cy="268.78" r="0.78"/><circle cx="452.23" cy="249.35" r="0.78"/><circle cx="454.83" cy="261.23" r="0.78"/><circle cx="447.22" cy="258.83" r="0.78"/><circle cx="450.02" cy="260.34" r="0.78"/><circle cx="467.55" cy="240.75" r="0.78"/><circle cx="471.95" cy="247.96" r="0.78"/><circle cx="457.93" cy="250.39" r="0.78"/><circle cx="452.31" cy="252.66" r="0.78"/><circle cx="448.3" cy="254.05" r="0.78"/><circle cx="449.97" cy="253.44" r="0.78"/><circle cx="458.82" cy="254.23" r="0.78"/><circle cx="456.04" cy="252.87" r="0.78"/><circle cx="440.07" cy="264.02" r="0.78"/><circle cx="459.56" cy="251.4" r="0.78"/><circle cx="441.74" cy="271.38" r="0.78"/><circle cx="434.54" cy="277.18" r="0.78"/><circle cx="441.27" cy="267.28" r="0.78"/><circle cx="450.15" cy="262.96" r="0.78"/><circle cx="467.61" cy="255.81" r="0.78"/><circle cx="455.33" cy="253.29" r="0.78"/><circle cx="473.4" cy="241.92" r="0.78"/><circle cx="468.72" cy="242.41" r="0.78"/><circle cx="448.68" cy="263.84" r="0.78"/><circle cx="466.85" cy="250.29" r="0.78"/><circle cx="439.19" cy="269.78" r="0.78"/><circle cx="446.37" cy="263.53" r="0.78"/><circle cx="452.6" cy="255.11" r="0.78"/><circle cx="467.06" cy="250.32" r="0.78"/><circle cx="466.77" cy="244.68" r="0.78"/><circle cx="435.78" cy="268.9" r="0.78"/><circle cx="453.31" cy="255.51" r="0.78"/><circle cx="455.06" cy="250.05" r="0.78"/><circle cx="442.14" cy="258.39" r="0.78"/><circle cx="469.97" cy="241.74" r="0.78"/><circle cx="447.6" cy="262.7" r="0.78"/><circle cx="454.64" cy="265.81" r="0.78"/><circle cx="457.4" cy="253.58" r="0.78"/><circle cx="445.45" cy="269.23" r="0.78"/><circle cx="454.14" cy="256.26" r="0.78"/><circle cx="451.4" cy="260.28" r="0.78"/><circle cx="448.87" cy="261.78" r="0.78"/><circle cx="439.67" cy="263.07" r="0.78"/><circle cx="453.02" cy="247.8" r="0.78"/><circle cx="452.97" cy="258.56" r="0.78"/><circle cx="446.23" cy="263.78" r="0.78"/><circle cx="446.37" cy="254.5" r="0.78"/><circle cx="448.2" cy="268.56" r="0.78"/><circle cx="442.24" cy="247.38" r="0.78"/><circle cx="452.53" cy="263.66" r="0.78"/><circle cx="441.33" cy="260.18" r="0.78"/><circle cx="446.72" cy="259.78" r="0.78"/><circle cx="454.37" cy="254.65" r="0.78"/><circle cx="441.56" cy="270.32" r="0.78"/><circle cx="475.85" cy="238.03" r="0.78"/><circle cx="464.79" cy="244.68" r="0.78"/><circle cx="469.8" cy="247.36" r="0.78"/><circle cx="439.12" cy="273.87" r="0.78"/><circle cx="452.06" cy="252.51" r="0.78"/><circle cx="443.22" cy="260.36" r="0.78"/><circle cx="464.69" cy="249.05" r="0.78"/><circle cx="444.99" cy="260.34" r="0.78"/><circle cx="463.54" cy="252.47" r="0.78"/><circle cx="447.82" cy="262.08" r="0.78"/><circle cx="449.9" cy="266.29" r="0.78"/><circle cx="437.63" cy="265.16" r="0.78"/><circle cx="454.3" cy="254.84" r="0.78"/><circle cx="450.14" cy="263.63" r="0.78"/><circle cx="445.41" cy="260.31" r="0.78"/><circle cx="453.98" cy="251.8" r="0.78"/><circle cx="454.47" cy="243.82" r="0.78"/><circle cx="465.67" cy="240.83" r="0.78"/><circle cx="465.53" cy="243.82" r="0.78"/><circle cx="464.81" cy="265.14" r="0.78"/><circle cx="457.28" cy="271.1" r="0.78"/><circle cx="452.68" cy="261.31" r="0.78"/><circle cx="451.7" cy="255.37" r="0.78"/><circle cx="447.8" cy="251.5" r="0.78"/><circle cx="448.93" cy="253.08" r="0.78"/><circle cx="452.04" cy="258.1" r="0.78"/><circle cx="450.58" cy="254.87" r="0.78"/><circle cx="473.93" cy="234.55" r="0.78"/><circle cx="447.81" cy="266.6" r="0.78"/><circle cx="463.94" cy="245.73" r="0.78"/><circle cx="463.08" cy="241.96" r="0.78"/><circle cx="446.79" cy="251.58" r="0.78"/><circle cx="466.76" cy="240.65" r="0.78"/><circle cx="447.48" cy="257.84" r="0.78"/><circle cx="471.91" cy="237.55" r="0.78"/><circle cx="449.22" cy="250.57" r="0.78"/><circle cx="456.45" cy="255.38" r="0.78"/><circle cx="439.7" cy="273.45" r="0.78"/><circle cx="457.34" cy="252.32" r="0.78"/><circle cx="467.12" cy="254.69" r="0.78"/><circle cx="450.79" cy="267.68" r="0.78"/><circle cx="462.32" cy="247.87" r="0.78"/><circle cx="448.61" cy="263.23" r="0.78"/><circle cx="467.43" cy="247.16" r="0.78"/><circle cx="461.99" cy="248.84" r="0.78"/><circle cx="465.81" cy="244.86" r="0.78"/><circle cx="446.5" cy="255.42" r="0.78"/><circle cx="477.42" cy="235" r="0.78"/><circle cx="476.08" cy="233.09" r="0.78"/><circle cx="476.89" cy="235.23" r="0.78"/><circle cx="476.45" cy="232.86" r="0.78"/><circle cx="478.65" cy="232.7" r="0.78"/><circle cx="475.7" cy="235.11" r="0.78"/></g>
<line x1="427.7" y1="276.6" x2="476.7" y2="238.1" stroke="#c85a5a" stroke-width="0.6" opacity="0.9"/>
<path d="M535.4 285.3H597.4M535.4 275.6H597.4M535.4 265.9H597.4M535.4 256.2H597.4M535.4 246.5H597.4M535.4 236.8H597.4M535.4 227.1H597.4M538.3 225.8V287.1M546.05 225.8V287.1M553.8 225.8V287.1M561.55 225.8V287.1M569.3 225.8V287.1M577.05 225.8V287.1M584.8 225.8V287.1M592.55 225.8V287.1" stroke="#f2f2f2" stroke-width="0.35" fill="none"/>
<path d="M535.4 225.8V287.1H597.4" stroke="#a8a8a8" stroke-width="0.5" fill="none"/>
<g font-size="2" fill="#777" stroke="#888" stroke-width="0.15"><text x="534.6" y="285.9" text-anchor="end">10</text><text x="534.6" y="276.2" text-anchor="end">12</text><text x="534.6" y="266.5" text-anchor="end">14</text><text x="534.6" y="256.8" text-anchor="end">16</text><text x="534.6" y="247.1" text-anchor="end">18</text><text x="534.6" y="237.4" text-anchor="end">20</text><text x="534.6" y="227.7" text-anchor="end">22</text><text x="538.3" y="290" text-anchor="middle">0</text><text x="546.05" y="290" text-anchor="middle">2</text><text x="553.8" y="290" text-anchor="middle">4</text><text x="561.55" y="290" text-anchor="middle">6</text><text x="569.3" y="290" text-anchor="middle">8</text><text x="577.05" y="290" text-anchor="middle">10</text><text x="584.8" y="290" text-anchor="middle">12</text><text x="592.55" y="290" text-anchor="middle">14</text></g>
<g font-size="1.9" fill="#6e6e6e" stroke="#808080" stroke-width="0.2" text-anchor="middle"><text x="566.1" y="293.7" textLength="49" lengthAdjust="spacingAndGlyphs">mRNA Expression, RSEM (Batch normalized from Illumina</text><text x="566.1" y="295.3" textLength="36" lengthAdjust="spacingAndGlyphs">HiSeq_RNASeqV2): SV2B (log2(x + 1))</text></g>
<g font-size="1.9" fill="#6e6e6e" stroke="#808080" stroke-width="0.2" text-anchor="middle" transform="translate(535.4 256.3) rotate(-90)"><text x="0" y="-8.5" textLength="49" lengthAdjust="spacingAndGlyphs">mRNA Expression, RSEM (Batch normalized from Illumina</text><text x="0" y="-6.2" textLength="30" lengthAdjust="spacingAndGlyphs">HiSeq_RNASeqV2): gene (log2(x + 1))</text></g>
<text x="566.4" y="221.9" font-size="2.5" font-weight="bold" fill="#505050" stroke="#606060" stroke-width="0.3" text-anchor="middle" textLength="16.6" lengthAdjust="spacingAndGlyphs">SV2B vs. SYT1</text>
<g font-size="2.1" fill="#7a7a7a" stroke="#8a8a8a" stroke-width="0.18" text-anchor="middle"><text x="611.7" y="233.4" textLength="13.3" lengthAdjust="spacingAndGlyphs">Spearman: 0.78</text><text x="611.7" y="236.4" textLength="12" lengthAdjust="spacingAndGlyphs">(p = 2.76e-25)</text><text x="611.7" y="240.6" textLength="12" lengthAdjust="spacingAndGlyphs">Pearson: 0.77</text><text x="611.7" y="243.7" textLength="12" lengthAdjust="spacingAndGlyphs">(p = 8.31e-25)</text><text x="611.7" y="247.2" textLength="16" lengthAdjust="spacingAndGlyphs">y = 0.84x + 2.58</text><text x="609.2" y="250.1" textLength="7.3" lengthAdjust="spacingAndGlyphs">R² = 0.52</text></g>
<g fill="#428ade" fill-opacity="0.85"><circle cx="590.02" cy="235.94" r="0.78"/><circle cx="570.72" cy="258.44" r="0.78"/><circle cx="570.07" cy="253.77" r="0.78"/><circle cx="573.57" cy="250.27" r="0.78"/><circle cx="562.14" cy="267.25" r="0.78"/><circle cx="560.28" cy="260.17" r="0.78"/><circle cx="558.72" cy="259.07" r="0.78"/><circle cx="556.67" cy="266.77" r="0.78"/><circle cx="575.22" cy="256.18" r="0.78"/><circle cx="553.96" cy="262.62" r="0.78"/><circle cx="569.24" cy="260.36" r="0.78"/><circle cx="550.35" cy="282.89" r="0.78"/><circle cx="571.04" cy="252.64" r="0.78"/><circle cx="573.92" cy="245.69" r="0.78"/><circle cx="592.4" cy="228.1" r="0.78"/><circle cx="566.44" cy="257.37" r="0.78"/><circle cx="573.2" cy="254.36" r="0.78"/><circle cx="574.64" cy="261.29" r="0.78"/><circle cx="582.54" cy="247.48" r="0.78"/><circle cx="560.38" cy="257.97" r="0.78"/><circle cx="567.68" cy="252.41" r="0.78"/><circle cx="562.23" cy="251.89" r="0.78"/><circle cx="576.18" cy="244.63" r="0.78"/><circle cx="567.99" cy="246.46" r="0.78"/><circle cx="557.93" cy="273.95" r="0.78"/><circle cx="588.19" cy="245.28" r="0.78"/><circle cx="584.46" cy="248.19" r="0.78"/><circle cx="583.11" cy="247.22" r="0.78"/><circle cx="587.06" cy="228.1" r="0.78"/><circle cx="561.9" cy="260.32" r="0.78"/><circle cx="582.13" cy="237.15" r="0.78"/><circle cx="562.89" cy="253.07" r="0.78"/><circle cx="557" cy="270.26" r="0.78"/><circle cx="579.69" cy="243.92" r="0.78"/><circle cx="590.47" cy="238.54" r="0.78"/><circle cx="575.81" cy="247.39" r="0.78"/><circle cx="563.62" cy="261.97" r="0.78"/><circle cx="571.55" cy="246.73" r="0.78"/><circle cx="573.91" cy="249.93" r="0.78"/><circle cx="573.21" cy="241.33" r="0.78"/><circle cx="582.84" cy="244.68" r="0.78"/><circle cx="578.96" cy="248.23" r="0.78"/><circle cx="575.79" cy="250.68" r="0.78"/><circle cx="572.06" cy="248.99" r="0.78"/><circle cx="568.66" cy="255.08" r="0.78"/><circle cx="583.2" cy="249.93" r="0.78"/><circle cx="556.38" cy="272.33" r="0.78"/><circle cx="573.66" cy="252.61" r="0.78"/><circle cx="565.04" cy="263.58" r="0.78"/><circle cx="584.83" cy="241.36" r="0.78"/><circle cx="563.76" cy="257.32" r="0.78"/><circle cx="576.86" cy="254.58" r="0.78"/><circle cx="577.5" cy="246.83" r="0.78"/><circle cx="570.73" cy="257.36" r="0.78"/><circle cx="578.19" cy="239.79" r="0.78"/><circle cx="564.15" cy="258.18" r="0.78"/><circle cx="592.4" cy="238.77" r="0.78"/><circle cx="569.31" cy="255.04" r="0.78"/><circle cx="564.08" cy="265.97" r="0.78"/><circle cx="577.34" cy="246.96" r="0.78"/><circle cx="565.01" cy="256.89" r="0.78"/><circle cx="565.02" cy="258.15" r="0.78"/><circle cx="569.89" cy="261.85" r="0.78"/><circle cx="573.09" cy="254.95" r="0.78"/><circle cx="591.88" cy="234.94" r="0.78"/><circle cx="574.3" cy="248.12" r="0.78"/><circle cx="562.25" cy="267.83" r="0.78"/><circle cx="571.34" cy="246.85" r="0.78"/><circle cx="571.21" cy="248.82" r="0.78"/><circle cx="553.69" cy="267.8" r="0.78"/><circle cx="576.77" cy="251.89" r="0.78"/><circle cx="555.18" cy="252.19" r="0.78"/><circle cx="562.89" cy="257.57" r="0.78"/><circle cx="562.89" cy="259.39" r="0.78"/><circle cx="585.23" cy="249.04" r="0.78"/><circle cx="574.45" cy="247.76" r="0.78"/><circle cx="565.92" cy="253.2" r="0.78"/><circle cx="572.28" cy="267.09" r="0.78"/><circle cx="570.49" cy="258.82" r="0.78"/><circle cx="578.33" cy="250.55" r="0.78"/><circle cx="577.72" cy="249.39" r="0.78"/><circle cx="563.53" cy="258.15" r="0.78"/><circle cx="552.46" cy="277.95" r="0.78"/><circle cx="569.71" cy="251.98" r="0.78"/><circle cx="564.14" cy="255.96" r="0.78"/><circle cx="573.91" cy="244.31" r="0.78"/><circle cx="574.17" cy="250.7" r="0.78"/><circle cx="563.77" cy="258.12" r="0.78"/><circle cx="572.41" cy="252.52" r="0.78"/><circle cx="542.97" cy="272.86" r="0.78"/><circle cx="551.47" cy="266.11" r="0.78"/><circle cx="582.68" cy="251.52" r="0.78"/><circle cx="579.66" cy="248.1" r="0.78"/><circle cx="570.15" cy="255.04" r="0.78"/><circle cx="566.06" cy="260.13" r="0.78"/><circle cx="551.37" cy="265.34" r="0.78"/><circle cx="572.28" cy="258.74" r="0.78"/><circle cx="552.7" cy="263.09" r="0.78"/><circle cx="562.5" cy="260.35" r="0.78"/><circle cx="554.51" cy="282.57" r="0.78"/><circle cx="566.62" cy="260.76" r="0.78"/><circle cx="567.76" cy="262.19" r="0.78"/><circle cx="572.18" cy="251.06" r="0.78"/><circle cx="579.79" cy="245.89" r="0.78"/><circle cx="558.25" cy="251.71" r="0.78"/><circle cx="560.66" cy="267.21" r="0.78"/><circle cx="558.03" cy="262.81" r="0.78"/><circle cx="572.17" cy="248.53" r="0.78"/><circle cx="587.36" cy="242.71" r="0.78"/><circle cx="570.95" cy="249.6" r="0.78"/><circle cx="575.04" cy="244.42" r="0.78"/><circle cx="567.75" cy="256.9" r="0.78"/><circle cx="585.78" cy="238.58" r="0.78"/><circle cx="580.07" cy="243.82" r="0.78"/><circle cx="556.04" cy="261.49" r="0.78"/><circle cx="563.94" cy="267.03" r="0.78"/><circle cx="568.87" cy="260.96" r="0.78"/><circle cx="572.75" cy="251.62" r="0.78"/><circle cx="555.01" cy="281.96" r="0.78"/><circle cx="583.93" cy="251.12" r="0.78"/><circle cx="592.4" cy="232.99" r="0.78"/><circle cx="581.21" cy="238.4" r="0.78"/><circle cx="555.76" cy="269.94" r="0.78"/><circle cx="567.55" cy="265.23" r="0.78"/><circle cx="561.26" cy="265.36" r="0.78"/><circle cx="572.29" cy="253.41" r="0.78"/><circle cx="585.56" cy="248.04" r="0.78"/><circle cx="563.31" cy="263.67" r="0.78"/><circle cx="580.53" cy="241.45" r="0.78"/><circle cx="562.98" cy="264.98" r="0.78"/><circle cx="568.89" cy="250.77" r="0.78"/><circle cx="578.28" cy="241.98" r="0.78"/><circle cx="569.3" cy="256.46" r="0.78"/><circle cx="564.22" cy="254.3" r="0.78"/><circle cx="566.13" cy="259.49" r="0.78"/><circle cx="590.08" cy="231.69" r="0.78"/><circle cx="593.3" cy="234.98" r="0.78"/><circle cx="590.18" cy="230.56" r="0.78"/><circle cx="589.29" cy="234.87" r="0.78"/><circle cx="593.23" cy="230.92" r="0.78"/><circle cx="589.14" cy="234.95" r="0.78"/></g>
<line x1="541.9" y1="277.5" x2="590.4" y2="238.1" stroke="#c85a5a" stroke-width="0.6" opacity="0.9"/>
<path d="M59.6 378.5H121.6M59.6 368.8H121.6M59.6 359.1H121.6M59.6 349.4H121.6M59.6 339.7H121.6M59.6 330H121.6M59.6 320.3H121.6M62.5 319V380.3M70.25 319V380.3M78 319V380.3M85.75 319V380.3M93.5 319V380.3M101.25 319V380.3M109 319V380.3M116.75 319V380.3" stroke="#f2f2f2" stroke-width="0.35" fill="none"/>
<path d="M59.6 319V380.3H121.6" stroke="#a8a8a8" stroke-width="0.5" fill="none"/>
<g font-size="2" fill="#777" stroke="#888" stroke-width="0.15"><text x="58.8" y="379.1" text-anchor="end">10</text><text x="58.8" y="369.4" text-anchor="end">12</text><text x="58.8" y="359.7" text-anchor="end">14</text><text x="58.8" y="350" text-anchor="end">16</text><text x="58.8" y="340.3" text-anchor="end">18</text><text x="58.8" y="330.6" text-anchor="end">20</text><text x="58.8" y="320.9" text-anchor="end">22</text><text x="62.5" y="383.2" text-anchor="middle">0</text><text x="70.25" y="383.2" text-anchor="middle">2</text><text x="78" y="383.2" text-anchor="middle">4</text><text x="85.75" y="383.2" text-anchor="middle">6</text><text x="93.5" y="383.2" text-anchor="middle">8</text><text x="101.25" y="383.2" text-anchor="middle">10</text><text x="109" y="383.2" text-anchor="middle">12</text><text x="116.75" y="383.2" text-anchor="middle">14</text></g>
<g font-size="1.9" fill="#6e6e6e" stroke="#808080" stroke-width="0.2" text-anchor="middle"><text x="90.3" y="386.9" textLength="49" lengthAdjust="spacingAndGlyphs">mRNA Expression, RSEM (Batch normalized from Illumina</text><text x="90.3" y="388.5" textLength="36" lengthAdjust="spacingAndGlyphs">HiSeq_RNASeqV2): SV2B (log2(x + 1))</text></g>
<g font-size="1.9" fill="#6e6e6e" stroke="#808080" stroke-width="0.2" text-anchor="middle" transform="translate(59.6 349.5) rotate(-90)"><text x="0" y="-8.5" textLength="49" lengthAdjust="spacingAndGlyphs">mRNA Expression, RSEM (Batch normalized from Illumina</text><text x="0" y="-6.2" textLength="30" lengthAdjust="spacingAndGlyphs">HiSeq_RNASeqV2): gene (log2(x + 1))</text></g>
<text x="90.6" y="315.1" font-size="2.5" font-weight="bold" fill="#505050" stroke="#606060" stroke-width="0.3" text-anchor="middle" textLength="16.6" lengthAdjust="spacingAndGlyphs">SV2B vs. PRKAG1</text>
<g font-size="2.1" fill="#7a7a7a" stroke="#8a8a8a" stroke-width="0.18" text-anchor="middle"><text x="135.9" y="326.6" textLength="13.3" lengthAdjust="spacingAndGlyphs">Spearman: 0.78</text><text x="135.9" y="329.6" textLength="12" lengthAdjust="spacingAndGlyphs">(p = 2.76e-25)</text><text x="135.9" y="333.8" textLength="12" lengthAdjust="spacingAndGlyphs">Pearson: 0.77</text><text x="135.9" y="336.9" textLength="12" lengthAdjust="spacingAndGlyphs">(p = 8.31e-25)</text><text x="135.9" y="340.4" textLength="16" lengthAdjust="spacingAndGlyphs">y = 0.84x + 2.58</text><text x="133.4" y="343.3" textLength="7.3" lengthAdjust="spacingAndGlyphs">R² = 0.52</text></g>
<g fill="#428ade" fill-opacity="0.85"><circle cx="100.61" cy="342.14" r="0.78"/><circle cx="102.27" cy="342.67" r="0.78"/><circle cx="90.41" cy="356.14" r="0.78"/><circle cx="93.65" cy="348.21" r="0.78"/><circle cx="89.8" cy="356.51" r="0.78"/><circle cx="84.78" cy="361.77" r="0.78"/><circle cx="100.22" cy="343.93" r="0.78"/><circle cx="73.31" cy="359.54" r="0.78"/><circle cx="85.72" cy="356.84" r="0.78"/><circle cx="108.3" cy="338.98" r="0.78"/><circle cx="101.53" cy="337.06" r="0.78"/><circle cx="116.6" cy="330.26" r="0.78"/><circle cx="83.5" cy="363.04" r="0.78"/><circle cx="94.56" cy="343.37" r="0.78"/><circle cx="79.64" cy="361.77" r="0.78"/><circle cx="99.91" cy="334.92" r="0.78"/><circle cx="101.37" cy="348.26" r="0.78"/><circle cx="93.17" cy="353.91" r="0.78"/><circle cx="75.38" cy="366.9" r="0.78"/><circle cx="107.18" cy="335.17" r="0.78"/><circle cx="88.41" cy="353.26" r="0.78"/><circle cx="77.34" cy="368.13" r="0.78"/><circle cx="94.94" cy="351.01" r="0.78"/><circle cx="105.72" cy="344.07" r="0.78"/><circle cx="85.16" cy="351.98" r="0.78"/><circle cx="86.8" cy="365.81" r="0.78"/><circle cx="108.14" cy="344.66" r="0.78"/><circle cx="90.39" cy="352.18" r="0.78"/><circle cx="91.93" cy="355.73" r="0.78"/><circle cx="97.97" cy="345.06" r="0.78"/><circle cx="69.65" cy="369.27" r="0.78"/><circle cx="92.69" cy="354.18" r="0.78"/><circle cx="105.6" cy="339.05" r="0.78"/><circle cx="94.65" cy="343.54" r="0.78"/><circle cx="98.08" cy="349.99" r="0.78"/><circle cx="86.85" cy="352.28" r="0.78"/><circle cx="90.26" cy="356.97" r="0.78"/><circle cx="92.55" cy="352.57" r="0.78"/><circle cx="82.07" cy="365" r="0.78"/><circle cx="94.4" cy="361.17" r="0.78"/><circle cx="107.73" cy="342.37" r="0.78"/><circle cx="116.6" cy="324.72" r="0.78"/><circle cx="108.39" cy="336.22" r="0.78"/><circle cx="99.11" cy="341.88" r="0.78"/><circle cx="81.8" cy="357.68" r="0.78"/><circle cx="87.38" cy="357.03" r="0.78"/><circle cx="95.93" cy="349.63" r="0.78"/><circle cx="105.11" cy="336.49" r="0.78"/><circle cx="103.24" cy="346.08" r="0.78"/><circle cx="93.22" cy="353.42" r="0.78"/><circle cx="110.72" cy="336.78" r="0.78"/><circle cx="81.06" cy="356.12" r="0.78"/><circle cx="95.98" cy="343.14" r="0.78"/><circle cx="99.15" cy="356.05" r="0.78"/><circle cx="90.1" cy="363.49" r="0.78"/><circle cx="102.1" cy="343.74" r="0.78"/><circle cx="104.04" cy="345.79" r="0.78"/><circle cx="83.12" cy="346.96" r="0.78"/><circle cx="96.17" cy="353.38" r="0.78"/><circle cx="99.73" cy="344.27" r="0.78"/><circle cx="104.36" cy="342.21" r="0.78"/><circle cx="85.51" cy="359.73" r="0.78"/><circle cx="94.54" cy="364.4" r="0.78"/><circle cx="78" cy="370.55" r="0.78"/><circle cx="88.02" cy="347.95" r="0.78"/><circle cx="95.41" cy="339.58" r="0.78"/><circle cx="104.25" cy="344.88" r="0.78"/><circle cx="104.42" cy="339.83" r="0.78"/><circle cx="110.91" cy="329.14" r="0.78"/><circle cx="89.23" cy="355.6" r="0.78"/><circle cx="97.07" cy="351.79" r="0.78"/><circle cx="90.86" cy="352.25" r="0.78"/><circle cx="83.04" cy="366.41" r="0.78"/><circle cx="104.9" cy="339.34" r="0.78"/><circle cx="100.88" cy="362.76" r="0.78"/><circle cx="86.82" cy="357.74" r="0.78"/><circle cx="80.26" cy="360.56" r="0.78"/><circle cx="79.35" cy="370.41" r="0.78"/><circle cx="84.89" cy="361.93" r="0.78"/><circle cx="79.87" cy="357.31" r="0.78"/><circle cx="83.27" cy="375.33" r="0.78"/><circle cx="83.86" cy="354.24" r="0.78"/><circle cx="97.4" cy="349.8" r="0.78"/><circle cx="107.07" cy="344.61" r="0.78"/><circle cx="83.45" cy="357.73" r="0.78"/><circle cx="99.79" cy="351.42" r="0.78"/><circle cx="84.5" cy="365.87" r="0.78"/><circle cx="82.88" cy="366.61" r="0.78"/><circle cx="96.74" cy="347.01" r="0.78"/><circle cx="91.04" cy="352.21" r="0.78"/><circle cx="95.37" cy="352.65" r="0.78"/><circle cx="78.65" cy="377.76" r="0.78"/><circle cx="78.71" cy="358.78" r="0.78"/><circle cx="100.25" cy="350.85" r="0.78"/><circle cx="101.02" cy="336.59" r="0.78"/><circle cx="99.46" cy="345.01" r="0.78"/><circle cx="86.68" cy="357.41" r="0.78"/><circle cx="94.32" cy="354.83" r="0.78"/><circle cx="81.84" cy="364.79" r="0.78"/><circle cx="103.6" cy="345.07" r="0.78"/><circle cx="73.51" cy="366.12" r="0.78"/><circle cx="90.26" cy="353.79" r="0.78"/><circle cx="100.92" cy="348.05" r="0.78"/><circle cx="89.27" cy="350.56" r="0.78"/><circle cx="98.61" cy="350.34" r="0.78"/><circle cx="82.21" cy="357.73" r="0.78"/><circle cx="87.74" cy="363.35" r="0.78"/><circle cx="90.16" cy="342.15" r="0.78"/><circle cx="88.08" cy="355.47" r="0.78"/><circle cx="101.82" cy="351.38" r="0.78"/><circle cx="94.73" cy="345.34" r="0.78"/><circle cx="86.57" cy="358.27" r="0.78"/><circle cx="105.14" cy="343.71" r="0.78"/><circle cx="79.22" cy="365.38" r="0.78"/><circle cx="88.02" cy="351.79" r="0.78"/><circle cx="81.39" cy="369.84" r="0.78"/><circle cx="92.59" cy="369.01" r="0.78"/><circle cx="75.65" cy="363.57" r="0.78"/><circle cx="90.13" cy="351.88" r="0.78"/><circle cx="89.84" cy="347.99" r="0.78"/><circle cx="87.99" cy="351.26" r="0.78"/><circle cx="95.35" cy="342.03" r="0.78"/><circle cx="104.19" cy="342.18" r="0.78"/><circle cx="107.18" cy="343.34" r="0.78"/><circle cx="91.73" cy="353.03" r="0.78"/><circle cx="88.35" cy="357.3" r="0.78"/><circle cx="83.13" cy="362.73" r="0.78"/><circle cx="78.49" cy="365.5" r="0.78"/><circle cx="95.14" cy="355.19" r="0.78"/><circle cx="90.45" cy="356.39" r="0.78"/><circle cx="90.14" cy="356.03" r="0.78"/><circle cx="63.73" cy="378.3" r="0.78"/><circle cx="91.6" cy="357.4" r="0.78"/><circle cx="114.08" cy="328.65" r="0.78"/><circle cx="100.84" cy="346.38" r="0.78"/><circle cx="117.36" cy="327.29" r="0.78"/><circle cx="113.74" cy="327.09" r="0.78"/><circle cx="116.89" cy="327.63" r="0.78"/><circle cx="116.69" cy="331.16" r="0.78"/><circle cx="115.61" cy="331.04" r="0.78"/><circle cx="114.04" cy="329.47" r="0.78"/></g>
<line x1="66.3" y1="373.3" x2="115.3" y2="333.3" stroke="#c85a5a" stroke-width="0.6" opacity="0.9"/>
<path d="M182.4 378H244.4M182.4 368.3H244.4M182.4 358.6H244.4M182.4 348.9H244.4M182.4 339.2H244.4M182.4 329.5H244.4M182.4 319.8H244.4M185.3 318.5V379.8M193.05 318.5V379.8M200.8 318.5V379.8M208.55 318.5V379.8M216.3 318.5V379.8M224.05 318.5V379.8M231.8 318.5V379.8M239.55 318.5V379.8" stroke="#f2f2f2" stroke-width="0.35" fill="none"/>
<path d="M182.4 318.5V379.8H244.4" stroke="#a8a8a8" stroke-width="0.5" fill="none"/>
<g font-size="2" fill="#777" stroke="#888" stroke-width="0.15"><text x="181.6" y="378.6" text-anchor="end">10</text><text x="181.6" y="368.9" text-anchor="end">12</text><text x="181.6" y="359.2" text-anchor="end">14</text><text x="181.6" y="349.5" text-anchor="end">16</text><text x="181.6" y="339.8" text-anchor="end">18</text><text x="181.6" y="330.1" text-anchor="end">20</text><text x="181.6" y="320.4" text-anchor="end">22</text><text x="185.3" y="382.7" text-anchor="middle">0</text><text x="193.05" y="382.7" text-anchor="middle">2</text><text x="200.8" y="382.7" text-anchor="middle">4</text><text x="208.55" y="382.7" text-anchor="middle">6</text><text x="216.3" y="382.7" text-anchor="middle">8</text><text x="224.05" y="382.7" text-anchor="middle">10</text><text x="231.8" y="382.7" text-anchor="middle">12</text><text x="239.55" y="382.7" text-anchor="middle">14</text></g>
<g font-size="1.9" fill="#6e6e6e" stroke="#808080" stroke-width="0.2" text-anchor="middle"><text x="213.1" y="386.4" textLength="49" lengthAdjust="spacingAndGlyphs">mRNA Expression, RSEM (Batch normalized from Illumina</text><text x="213.1" y="388" textLength="36" lengthAdjust="spacingAndGlyphs">HiSeq_RNASeqV2): SV2B (log2(x + 1))</text></g>
<g font-size="1.9" fill="#6e6e6e" stroke="#808080" stroke-width="0.2" text-anchor="middle" transform="translate(182.4 349) rotate(-90)"><text x="0" y="-8.5" textLength="49" lengthAdjust="spacingAndGlyphs">mRNA Expression, RSEM (Batch normalized from Illumina</text><text x="0" y="-6.2" textLength="30" lengthAdjust="spacingAndGlyphs">HiSeq_RNASeqV2): gene (log2(x + 1))</text></g>
<text x="213.4" y="314.6" font-size="2.5" font-weight="bold" fill="#505050" stroke="#606060" stroke-width="0.3" text-anchor="middle" textLength="16.6" lengthAdjust="spacingAndGlyphs">SV2B vs. SYT1</text>
<g font-size="2.1" fill="#7a7a7a" stroke="#8a8a8a" stroke-width="0.18" text-anchor="middle"><text x="258.7" y="326.1" textLength="13.3" lengthAdjust="spacingAndGlyphs">Spearman: 0.78</text><text x="258.7" y="329.1" textLength="12" lengthAdjust="spacingAndGlyphs">(p = 2.76e-25)</text><text x="258.7" y="333.3" textLength="12" lengthAdjust="spacingAndGlyphs">Pearson: 0.77</text><text x="258.7" y="336.4" textLength="12" lengthAdjust="spacingAndGlyphs">(p = 8.31e-25)</text><text x="258.7" y="339.9" textLength="16" lengthAdjust="spacingAndGlyphs">y = 0.84x + 2.58</text><text x="256.2" y="342.8" textLength="7.3" lengthAdjust="spacingAndGlyphs">R² = 0.52</text></g>
<g fill="#428ade" fill-opacity="0.85"><circle cx="210.88" cy="356.58" r="0.78"/><circle cx="234.23" cy="336.5" r="0.78"/><circle cx="227.08" cy="351.55" r="0.78"/><circle cx="201.83" cy="363.09" r="0.78"/><circle cx="216.22" cy="344.75" r="0.78"/><circle cx="221.87" cy="346.88" r="0.78"/><circle cx="225.08" cy="343.22" r="0.78"/><circle cx="221.24" cy="358.71" r="0.78"/><circle cx="213.53" cy="342.43" r="0.78"/><circle cx="212.95" cy="347.57" r="0.78"/><circle cx="209.05" cy="355.97" r="0.78"/><circle cx="210.3" cy="353.88" r="0.78"/><circle cx="204.16" cy="356.47" r="0.78"/><circle cx="206.25" cy="367.87" r="0.78"/><circle cx="233.88" cy="329.78" r="0.78"/><circle cx="195.57" cy="377.8" r="0.78"/><circle cx="218.9" cy="351.41" r="0.78"/><circle cx="204.57" cy="364.64" r="0.78"/><circle cx="232.7" cy="333.21" r="0.78"/><circle cx="225.86" cy="341.47" r="0.78"/><circle cx="212.04" cy="344.12" r="0.78"/><circle cx="203.85" cy="359.99" r="0.78"/><circle cx="217.8" cy="346.94" r="0.78"/><circle cx="225.46" cy="343.7" r="0.78"/><circle cx="219.13" cy="343.09" r="0.78"/><circle cx="229.43" cy="338.32" r="0.78"/><circle cx="205.83" cy="348.32" r="0.78"/><circle cx="235.62" cy="343.14" r="0.78"/><circle cx="222.94" cy="341.08" r="0.78"/><circle cx="214.95" cy="352.67" r="0.78"/><circle cx="222.55" cy="343.41" r="0.78"/><circle cx="200.18" cy="360.98" r="0.78"/><circle cx="208.37" cy="362.79" r="0.78"/><circle cx="222.44" cy="338.04" r="0.78"/><circle cx="223.09" cy="343.54" r="0.78"/><circle cx="202.83" cy="357.8" r="0.78"/><circle cx="225.18" cy="342.41" r="0.78"/><circle cx="212.53" cy="348.72" r="0.78"/><circle cx="206.23" cy="356.08" r="0.78"/><circle cx="223.64" cy="348.89" r="0.78"/><circle cx="225.69" cy="337.15" r="0.78"/><circle cx="219.23" cy="344.12" r="0.78"/><circle cx="213.28" cy="359.54" r="0.78"/><circle cx="221.38" cy="340.53" r="0.78"/><circle cx="207.71" cy="355.21" r="0.78"/><circle cx="229.16" cy="341.23" r="0.78"/><circle cx="196.21" cy="361.78" r="0.78"/><circle cx="230.39" cy="352.46" r="0.78"/><circle cx="206.83" cy="363.33" r="0.78"/><circle cx="218.37" cy="350.16" r="0.78"/><circle cx="220.12" cy="354.85" r="0.78"/><circle cx="202.85" cy="363.64" r="0.78"/><circle cx="213.54" cy="351.01" r="0.78"/><circle cx="235.6" cy="336.35" r="0.78"/><circle cx="214.98" cy="355.78" r="0.78"/><circle cx="199.15" cy="365.47" r="0.78"/><circle cx="232.22" cy="330.79" r="0.78"/><circle cx="201.22" cy="361.09" r="0.78"/><circle cx="231.37" cy="336.11" r="0.78"/><circle cx="208.38" cy="360.13" r="0.78"/><circle cx="223.55" cy="343.63" r="0.78"/><circle cx="212.01" cy="355.95" r="0.78"/><circle cx="218.48" cy="346.92" r="0.78"/><circle cx="209.08" cy="351.98" r="0.78"/><circle cx="203.88" cy="355.74" r="0.78"/><circle cx="203.18" cy="354.78" r="0.78"/><circle cx="213.43" cy="348.54" r="0.78"/><circle cx="200.72" cy="365.65" r="0.78"/><circle cx="224.34" cy="334.08" r="0.78"/><circle cx="218.65" cy="344.39" r="0.78"/><circle cx="212.07" cy="349.16" r="0.78"/><circle cx="225.3" cy="348.84" r="0.78"/><circle cx="221.17" cy="342.88" r="0.78"/><circle cx="226.55" cy="346.21" r="0.78"/><circle cx="209.87" cy="369.81" r="0.78"/><circle cx="216.48" cy="349.2" r="0.78"/><circle cx="223.21" cy="347.07" r="0.78"/><circle cx="217.79" cy="358.27" r="0.78"/><circle cx="219.6" cy="341.9" r="0.78"/><circle cx="214.06" cy="349.51" r="0.78"/><circle cx="232.54" cy="332.77" r="0.78"/><circle cx="201.62" cy="360.25" r="0.78"/><circle cx="212.09" cy="357.82" r="0.78"/><circle cx="226.82" cy="346.73" r="0.78"/><circle cx="218.27" cy="353.11" r="0.78"/><circle cx="213.47" cy="344.43" r="0.78"/><circle cx="211.27" cy="354.56" r="0.78"/><circle cx="224.01" cy="337.52" r="0.78"/><circle cx="227.63" cy="341.81" r="0.78"/><circle cx="208.28" cy="361.05" r="0.78"/><circle cx="239.4" cy="331.57" r="0.78"/><circle cx="214.79" cy="348.3" r="0.78"/><circle cx="210.53" cy="356.25" r="0.78"/><circle cx="219" cy="342.62" r="0.78"/><circle cx="216.59" cy="344.83" r="0.78"/><circle cx="198.21" cy="364.44" r="0.78"/><circle cx="208.43" cy="356.73" r="0.78"/><circle cx="218.73" cy="339.19" r="0.78"/><circle cx="215.12" cy="346.23" r="0.78"/><circle cx="224.16" cy="342.25" r="0.78"/><circle cx="207.87" cy="359.83" r="0.78"/><circle cx="206.64" cy="354.7" r="0.78"/><circle cx="204.37" cy="358.25" r="0.78"/><circle cx="225.75" cy="342.17" r="0.78"/><circle cx="226.3" cy="347.58" r="0.78"/><circle cx="214.92" cy="354.1" r="0.78"/><circle cx="205.02" cy="356.96" r="0.78"/><circle cx="203.48" cy="359.63" r="0.78"/><circle cx="218.53" cy="347.55" r="0.78"/><circle cx="213.18" cy="352.22" r="0.78"/><circle cx="212.81" cy="357.02" r="0.78"/><circle cx="222.99" cy="338.63" r="0.78"/><circle cx="219.1" cy="346.55" r="0.78"/><circle cx="231.77" cy="337.71" r="0.78"/><circle cx="219.25" cy="354.19" r="0.78"/><circle cx="216.38" cy="347.72" r="0.78"/><circle cx="209.11" cy="356.2" r="0.78"/><circle cx="220.41" cy="342.26" r="0.78"/><circle cx="206.56" cy="358.8" r="0.78"/><circle cx="202.84" cy="359.01" r="0.78"/><circle cx="203.09" cy="359.2" r="0.78"/><circle cx="215.93" cy="351.57" r="0.78"/><circle cx="220.06" cy="340.35" r="0.78"/><circle cx="212.38" cy="351.36" r="0.78"/><circle cx="227.47" cy="336.82" r="0.78"/><circle cx="219.83" cy="346.97" r="0.78"/><circle cx="231.79" cy="339.4" r="0.78"/><circle cx="206.64" cy="353.67" r="0.78"/><circle cx="185.5" cy="377.8" r="0.78"/><circle cx="216.26" cy="348.34" r="0.78"/><circle cx="202.7" cy="361.13" r="0.78"/><circle cx="218.34" cy="350.49" r="0.78"/><circle cx="234.02" cy="333.4" r="0.78"/><circle cx="208.47" cy="353.69" r="0.78"/><circle cx="218.95" cy="362.02" r="0.78"/><circle cx="239.7" cy="327.58" r="0.78"/><circle cx="238.91" cy="323.06" r="0.78"/><circle cx="236.81" cy="326.8" r="0.78"/><circle cx="239.62" cy="323.06" r="0.78"/><circle cx="237.98" cy="325.58" r="0.78"/><circle cx="240.91" cy="325.23" r="0.78"/></g>
<line x1="188.9" y1="371.9" x2="238" y2="330.2" stroke="#c85a5a" stroke-width="0.6" opacity="0.9"/>
<path d="M302.4 378H364.4M302.4 368.3H364.4M302.4 358.6H364.4M302.4 348.9H364.4M302.4 339.2H364.4M302.4 329.5H364.4M302.4 319.8H364.4M305.3 318.5V379.8M313.05 318.5V379.8M320.8 318.5V379.8M328.55 318.5V379.8M336.3 318.5V379.8M344.05 318.5V379.8M351.8 318.5V379.8M359.55 318.5V379.8" stroke="#f2f2f2" stroke-width="0.35" fill="none"/>
<path d="M302.4 318.5V379.8H364.4" stroke="#a8a8a8" stroke-width="0.5" fill="none"/>
<g font-size="2" fill="#777" stroke="#888" stroke-width="0.15"><text x="301.6" y="378.6" text-anchor="end">10</text><text x="301.6" y="368.9" text-anchor="end">12</text><text x="301.6" y="359.2" text-anchor="end">14</text><text x="301.6" y="349.5" text-anchor="end">16</text><text x="301.6" y="339.8" text-anchor="end">18</text><text x="301.6" y="330.1" text-anchor="end">20</text><text x="301.6" y="320.4" text-anchor="end">22</text><text x="305.3" y="382.7" text-anchor="middle">0</text><text x="313.05" y="382.7" text-anchor="middle">2</text><text x="320.8" y="382.7" text-anchor="middle">4</text><text x="328.55" y="382.7" text-anchor="middle">6</text><text x="336.3" y="382.7" text-anchor="middle">8</text><text x="344.05" y="382.7" text-anchor="middle">10</text><text x="351.8" y="382.7" text-anchor="middle">12</text><text x="359.55" y="382.7" text-anchor="middle">14</text></g>
<g font-size="1.9" fill="#6e6e6e" stroke="#808080" stroke-width="0.2" text-anchor="middle"><text x="333.1" y="386.4" textLength="49" lengthAdjust="spacingAndGlyphs">mRNA Expression, RSEM (Batch normalized from Illumina</text><text x="333.1" y="388" textLength="36" lengthAdjust="spacingAndGlyphs">HiSeq_RNASeqV2): SV2B (log2(x + 1))</text></g>
<g font-size="1.9" fill="#6e6e6e" stroke="#808080" stroke-width="0.2" text-anchor="middle" transform="translate(302.4 349) rotate(-90)"><text x="0" y="-8.5" textLength="49" lengthAdjust="spacingAndGlyphs">mRNA Expression, RSEM (Batch normalized from Illumina</text><text x="0" y="-6.2" textLength="30" lengthAdjust="spacingAndGlyphs">HiSeq_RNASeqV2): gene (log2(x + 1))</text></g>
<text x="333.4" y="314.6" font-size="2.5" font-weight="bold" fill="#505050" stroke="#606060" stroke-width="0.3" text-anchor="middle" textLength="16.6" lengthAdjust="spacingAndGlyphs">SV2B vs. RAB40A</text>
<g font-size="2.1" fill="#7a7a7a" stroke="#8a8a8a" stroke-width="0.18" text-anchor="middle"><text x="378.7" y="326.1" textLength="13.3" lengthAdjust="spacingAndGlyphs">Spearman: 0.78</text><text x="378.7" y="329.1" textLength="12" lengthAdjust="spacingAndGlyphs">(p = 2.76e-25)</text><text x="378.7" y="333.3" textLength="12" lengthAdjust="spacingAndGlyphs">Pearson: 0.77</text><text x="378.7" y="336.4" textLength="12" lengthAdjust="spacingAndGlyphs">(p = 8.31e-25)</text><text x="378.7" y="339.9" textLength="16" lengthAdjust="spacingAndGlyphs">y = 0.84x + 2.58</text><text x="376.2" y="342.8" textLength="7.3" lengthAdjust="spacingAndGlyphs">R² = 0.52</text></g>
<g fill="#428ade" fill-opacity="0.85"><circle cx="336.71" cy="355.38" r="0.78"/><circle cx="329.8" cy="349.27" r="0.78"/><circle cx="359.4" cy="345.91" r="0.78"/><circle cx="336.39" cy="355.73" r="0.78"/><circle cx="343.5" cy="341.74" r="0.78"/><circle cx="341.78" cy="351.23" r="0.78"/><circle cx="335.84" cy="346.87" r="0.78"/><circle cx="341.91" cy="346.44" r="0.78"/><circle cx="341.16" cy="348.84" r="0.78"/><circle cx="318.14" cy="367.04" r="0.78"/><circle cx="328.35" cy="351.81" r="0.78"/><circle cx="330.93" cy="361.27" r="0.78"/><circle cx="333.97" cy="340.71" r="0.78"/><circle cx="334.1" cy="354.24" r="0.78"/><circle cx="322.16" cy="354.14" r="0.78"/><circle cx="344.89" cy="330.13" r="0.78"/><circle cx="328.66" cy="346.81" r="0.78"/><circle cx="342.77" cy="334.92" r="0.78"/><circle cx="330.73" cy="357.3" r="0.78"/><circle cx="325.17" cy="355.06" r="0.78"/><circle cx="335.22" cy="342.58" r="0.78"/><circle cx="338.08" cy="347.71" r="0.78"/><circle cx="335.83" cy="343.49" r="0.78"/><circle cx="335.94" cy="354.3" r="0.78"/><circle cx="326.05" cy="347.9" r="0.78"/><circle cx="354.87" cy="330.92" r="0.78"/><circle cx="355.75" cy="328.17" r="0.78"/><circle cx="326.85" cy="359.05" r="0.78"/><circle cx="351.92" cy="336.75" r="0.78"/><circle cx="341.26" cy="340.89" r="0.78"/><circle cx="342.22" cy="342.38" r="0.78"/><circle cx="347.34" cy="352.86" r="0.78"/><circle cx="323.37" cy="358.22" r="0.78"/><circle cx="329.58" cy="356.54" r="0.78"/><circle cx="357.28" cy="332.38" r="0.78"/><circle cx="345.33" cy="356.17" r="0.78"/><circle cx="331.82" cy="359.44" r="0.78"/><circle cx="320.4" cy="363.07" r="0.78"/><circle cx="351.4" cy="338.69" r="0.78"/><circle cx="345.63" cy="340.75" r="0.78"/><circle cx="337.42" cy="347.78" r="0.78"/><circle cx="342.26" cy="343.66" r="0.78"/><circle cx="341.49" cy="350.73" r="0.78"/><circle cx="332.76" cy="349.92" r="0.78"/><circle cx="348.16" cy="342.66" r="0.78"/><circle cx="330.45" cy="348.94" r="0.78"/><circle cx="332.35" cy="354.2" r="0.78"/><circle cx="339.51" cy="363.39" r="0.78"/><circle cx="339.13" cy="346.58" r="0.78"/><circle cx="340.24" cy="355.22" r="0.78"/><circle cx="359.4" cy="329.79" r="0.78"/><circle cx="335.4" cy="357.66" r="0.78"/><circle cx="335.9" cy="351.83" r="0.78"/><circle cx="331.09" cy="354.09" r="0.78"/><circle cx="338.74" cy="348.67" r="0.78"/><circle cx="327.69" cy="356.34" r="0.78"/><circle cx="334.51" cy="356.31" r="0.78"/><circle cx="346.24" cy="344.11" r="0.78"/><circle cx="333.53" cy="345.52" r="0.78"/><circle cx="333.77" cy="353.55" r="0.78"/><circle cx="338.46" cy="348.5" r="0.78"/><circle cx="359.4" cy="344.31" r="0.78"/><circle cx="320.32" cy="372.78" r="0.78"/><circle cx="342.04" cy="350.27" r="0.78"/><circle cx="331.79" cy="357.1" r="0.78"/><circle cx="318.18" cy="363.03" r="0.78"/><circle cx="340.1" cy="344" r="0.78"/><circle cx="348.65" cy="329.53" r="0.78"/><circle cx="330.11" cy="360.66" r="0.78"/><circle cx="324.94" cy="355.63" r="0.78"/><circle cx="335.76" cy="346.71" r="0.78"/><circle cx="334.14" cy="355.07" r="0.78"/><circle cx="333.27" cy="345.48" r="0.78"/><circle cx="322.71" cy="364.66" r="0.78"/><circle cx="326.7" cy="357.11" r="0.78"/><circle cx="321.35" cy="361.97" r="0.78"/><circle cx="332.59" cy="362.66" r="0.78"/><circle cx="345.45" cy="341.22" r="0.78"/><circle cx="358.48" cy="333.61" r="0.78"/><circle cx="309.46" cy="367.38" r="0.78"/><circle cx="324.87" cy="365.14" r="0.78"/><circle cx="340.1" cy="350.16" r="0.78"/><circle cx="340.39" cy="342.06" r="0.78"/><circle cx="329.93" cy="358.47" r="0.78"/><circle cx="329.02" cy="360.96" r="0.78"/><circle cx="329.73" cy="352.41" r="0.78"/><circle cx="322.87" cy="370.58" r="0.78"/><circle cx="342.01" cy="345.81" r="0.78"/><circle cx="335.08" cy="354.38" r="0.78"/><circle cx="323.71" cy="353.83" r="0.78"/><circle cx="329.3" cy="351.34" r="0.78"/><circle cx="311.88" cy="367.58" r="0.78"/><circle cx="325.99" cy="361.23" r="0.78"/><circle cx="335.47" cy="345.63" r="0.78"/><circle cx="343.99" cy="343.25" r="0.78"/><circle cx="333.1" cy="362.55" r="0.78"/><circle cx="334.02" cy="349.82" r="0.78"/><circle cx="330.06" cy="351.17" r="0.78"/><circle cx="338.7" cy="342.26" r="0.78"/><circle cx="347.9" cy="341.29" r="0.78"/><circle cx="330.18" cy="361.06" r="0.78"/><circle cx="326.3" cy="360.71" r="0.78"/><circle cx="346.83" cy="339.37" r="0.78"/><circle cx="341.29" cy="358.4" r="0.78"/><circle cx="337.92" cy="351.54" r="0.78"/><circle cx="325.71" cy="357.45" r="0.78"/><circle cx="325.06" cy="355.48" r="0.78"/><circle cx="316.39" cy="356.51" r="0.78"/><circle cx="331.44" cy="353.14" r="0.78"/><circle cx="336.86" cy="349.95" r="0.78"/><circle cx="324.98" cy="361.88" r="0.78"/><circle cx="357.56" cy="341.82" r="0.78"/><circle cx="347.61" cy="343.06" r="0.78"/><circle cx="323.65" cy="363.52" r="0.78"/><circle cx="337.59" cy="353.28" r="0.78"/><circle cx="350.69" cy="340.77" r="0.78"/><circle cx="330.71" cy="357.29" r="0.78"/><circle cx="331.44" cy="335.77" r="0.78"/><circle cx="340.85" cy="362.16" r="0.78"/><circle cx="337.69" cy="350.76" r="0.78"/><circle cx="325.69" cy="353.48" r="0.78"/><circle cx="322.35" cy="357.59" r="0.78"/><circle cx="327.07" cy="358.15" r="0.78"/><circle cx="335.21" cy="345.92" r="0.78"/><circle cx="340.39" cy="343.87" r="0.78"/><circle cx="324.23" cy="360.05" r="0.78"/><circle cx="338.7" cy="344.72" r="0.78"/><circle cx="343.38" cy="351.83" r="0.78"/><circle cx="340.31" cy="347.48" r="0.78"/><circle cx="348.6" cy="346.75" r="0.78"/><circle cx="323.77" cy="352.43" r="0.78"/><circle cx="341.19" cy="345.88" r="0.78"/><circle cx="343.61" cy="339.02" r="0.78"/><circle cx="321.16" cy="359.75" r="0.78"/><circle cx="347.94" cy="332.43" r="0.78"/><circle cx="356.92" cy="330.17" r="0.78"/><circle cx="357.13" cy="328.83" r="0.78"/><circle cx="359.56" cy="326.97" r="0.78"/><circle cx="356.51" cy="327.71" r="0.78"/><circle cx="356.49" cy="330.84" r="0.78"/><circle cx="359.92" cy="328.55" r="0.78"/></g>
<line x1="308.9" y1="369.3" x2="358" y2="333.3" stroke="#c85a5a" stroke-width="0.6" opacity="0.9"/>
<path d="M421.4 377.5H483.4M421.4 367.8H483.4M421.4 358.1H483.4M421.4 348.4H483.4M421.4 338.7H483.4M421.4 329H483.4M421.4 319.3H483.4M424.3 318V379.3M432.05 318V379.3M439.8 318V379.3M447.55 318V379.3M455.3 318V379.3M463.05 318V379.3M470.8 318V379.3M478.55 318V379.3" stroke="#f2f2f2" stroke-width="0.35" fill="none"/>
<path d="M421.4 318V379.3H483.4" stroke="#a8a8a8" stroke-width="0.5" fill="none"/>
<g font-size="2" fill="#777" stroke="#888" stroke-width="0.15"><text x="420.6" y="378.1" text-anchor="end">10</text><text x="420.6" y="368.4" text-anchor="end">12</text><text x="420.6" y="358.7" text-anchor="end">14</text><text x="420.6" y="349" text-anchor="end">16</text><text x="420.6" y="339.3" text-anchor="end">18</text><text x="420.6" y="329.6" text-anchor="end">20</text><text x="420.6" y="319.9" text-anchor="end">22</text><text x="424.3" y="382.2" text-anchor="middle">0</text><text x="432.05" y="382.2" text-anchor="middle">2</text><text x="439.8" y="382.2" text-anchor="middle">4</text><text x="447.55" y="382.2" text-anchor="middle">6</text><text x="455.3" y="382.2" text-anchor="middle">8</text><text x="463.05" y="382.2" text-anchor="middle">10</text><text x="470.8" y="382.2" text-anchor="middle">12</text><text x="478.55" y="382.2" text-anchor="middle">14</text></g>
<g font-size="1.9" fill="#6e6e6e" stroke="#808080" stroke-width="0.2" text-anchor="middle"><text x="452.1" y="385.9" textLength="49" lengthAdjust="spacingAndGlyphs">mRNA Expression, RSEM (Batch normalized from Illumina</text><text x="452.1" y="387.5" textLength="36" lengthAdjust="spacingAndGlyphs">HiSeq_RNASeqV2): SV2B (log2(x + 1))</text></g>
<g font-size="1.9" fill="#6e6e6e" stroke="#808080" stroke-width="0.2" text-anchor="middle" transform="translate(421.4 348.5) rotate(-90)"><text x="0" y="-8.5" textLength="49" lengthAdjust="spacingAndGlyphs">mRNA Expression, RSEM (Batch normalized from Illumina</text><text x="0" y="-6.2" textLength="30" lengthAdjust="spacingAndGlyphs">HiSeq_RNASeqV2): gene (log2(x + 1))</text></g>
<text x="452.4" y="314.1" font-size="2.5" font-weight="bold" fill="#505050" stroke="#606060" stroke-width="0.3" text-anchor="middle" textLength="16.6" lengthAdjust="spacingAndGlyphs">SV2B vs. RASEF</text>
<g font-size="2.1" fill="#7a7a7a" stroke="#8a8a8a" stroke-width="0.18" text-anchor="middle"><text x="497.7" y="325.6" textLength="13.3" lengthAdjust="spacingAndGlyphs">Spearman: 0.78</text><text x="497.7" y="328.6" textLength="12" lengthAdjust="spacingAndGlyphs">(p = 2.76e-25)</text><text x="497.7" y="332.8" textLength="12" lengthAdjust="spacingAndGlyphs">Pearson: 0.77</text><text x="497.7" y="335.9" textLength="12" lengthAdjust="spacingAndGlyphs">(p = 8.31e-25)</text><text x="497.7" y="339.4" textLength="16" lengthAdjust="spacingAndGlyphs">y = 0.84x + 2.58</text><text x="495.2" y="342.3" textLength="7.3" lengthAdjust="spacingAndGlyphs">R² = 0.52</text></g>
<g fill="#428ade" fill-opacity="0.85"><circle cx="468.57" cy="352.87" r="0.78"/><circle cx="449.06" cy="356.77" r="0.78"/><circle cx="461.78" cy="350.69" r="0.78"/><circle cx="459.55" cy="347.4" r="0.78"/><circle cx="476.47" cy="338.31" r="0.78"/><circle cx="441.53" cy="370.37" r="0.78"/><circle cx="444.2" cy="350.73" r="0.78"/><circle cx="471.22" cy="347.89" r="0.78"/><circle cx="446.24" cy="356.76" r="0.78"/><circle cx="478.4" cy="341.52" r="0.78"/><circle cx="456.1" cy="345.65" r="0.78"/><circle cx="467.27" cy="345.77" r="0.78"/><circle cx="459.22" cy="348.48" r="0.78"/><circle cx="462.65" cy="347.5" r="0.78"/><circle cx="448.65" cy="351.02" r="0.78"/><circle cx="461.24" cy="355.27" r="0.78"/><circle cx="473.73" cy="345.67" r="0.78"/><circle cx="459.49" cy="347.4" r="0.78"/><circle cx="465.38" cy="354.04" r="0.78"/><circle cx="459.81" cy="348.15" r="0.78"/><circle cx="477" cy="347.77" r="0.78"/><circle cx="466.29" cy="353.42" r="0.78"/><circle cx="440.44" cy="362.6" r="0.78"/><circle cx="446.71" cy="355.51" r="0.78"/><circle cx="450.26" cy="355.71" r="0.78"/><circle cx="429.37" cy="357.34" r="0.78"/><circle cx="453.26" cy="353.16" r="0.78"/><circle cx="451.8" cy="356.8" r="0.78"/><circle cx="459.16" cy="345.2" r="0.78"/><circle cx="453.53" cy="351.43" r="0.78"/><circle cx="460.63" cy="340.13" r="0.78"/><circle cx="463.22" cy="341.02" r="0.78"/><circle cx="431.84" cy="366.06" r="0.78"/><circle cx="469.77" cy="340.05" r="0.78"/><circle cx="460.38" cy="343.85" r="0.78"/><circle cx="478.4" cy="340.74" r="0.78"/><circle cx="432.69" cy="366.97" r="0.78"/><circle cx="459.85" cy="349.24" r="0.78"/><circle cx="432.84" cy="361.23" r="0.78"/><circle cx="444.37" cy="359.31" r="0.78"/><circle cx="445.15" cy="354.34" r="0.78"/><circle cx="472.83" cy="340.66" r="0.78"/><circle cx="478.4" cy="335.2" r="0.78"/><circle cx="453.95" cy="347.17" r="0.78"/><circle cx="450.88" cy="355.42" r="0.78"/><circle cx="451.82" cy="362.6" r="0.78"/><circle cx="464.01" cy="349.45" r="0.78"/><circle cx="462.43" cy="363.29" r="0.78"/><circle cx="454.99" cy="348.02" r="0.78"/><circle cx="455.36" cy="352.89" r="0.78"/><circle cx="465.98" cy="346.99" r="0.78"/><circle cx="458.47" cy="343.68" r="0.78"/><circle cx="439.12" cy="357.64" r="0.78"/><circle cx="465.14" cy="347.76" r="0.78"/><circle cx="478.4" cy="337.07" r="0.78"/><circle cx="446.49" cy="357.72" r="0.78"/><circle cx="443.79" cy="354.13" r="0.78"/><circle cx="451.22" cy="357.25" r="0.78"/><circle cx="477.79" cy="351.35" r="0.78"/><circle cx="457.88" cy="354.98" r="0.78"/><circle cx="460.73" cy="343.59" r="0.78"/><circle cx="449" cy="377.3" r="0.78"/><circle cx="461.22" cy="345.88" r="0.78"/><circle cx="434.54" cy="364.33" r="0.78"/><circle cx="444.38" cy="354.53" r="0.78"/><circle cx="438.32" cy="359.08" r="0.78"/><circle cx="472.67" cy="341.37" r="0.78"/><circle cx="443.96" cy="368.39" r="0.78"/><circle cx="449.19" cy="360.33" r="0.78"/><circle cx="458.18" cy="340.3" r="0.78"/><circle cx="441.84" cy="356.39" r="0.78"/><circle cx="472.33" cy="346.27" r="0.78"/><circle cx="463.81" cy="350.56" r="0.78"/><circle cx="467.7" cy="351.57" r="0.78"/><circle cx="448.38" cy="361.76" r="0.78"/><circle cx="453.13" cy="358.75" r="0.78"/><circle cx="454.93" cy="355.64" r="0.78"/><circle cx="456.42" cy="352.28" r="0.78"/><circle cx="446.9" cy="355.14" r="0.78"/><circle cx="459.77" cy="348.9" r="0.78"/><circle cx="454.7" cy="352.86" r="0.78"/><circle cx="451.56" cy="359.98" r="0.78"/><circle cx="457.87" cy="357.01" r="0.78"/><circle cx="453.36" cy="344.46" r="0.78"/><circle cx="454.52" cy="348.42" r="0.78"/><circle cx="464.69" cy="351.16" r="0.78"/><circle cx="453.53" cy="360.19" r="0.78"/><circle cx="467.33" cy="348.95" r="0.78"/><circle cx="456.83" cy="352.24" r="0.78"/><circle cx="459.18" cy="345.07" r="0.78"/><circle cx="464.43" cy="345.61" r="0.78"/><circle cx="456.88" cy="359.83" r="0.78"/><circle cx="444.52" cy="356.85" r="0.78"/><circle cx="459.31" cy="352.6" r="0.78"/><circle cx="445.03" cy="352.25" r="0.78"/><circle cx="452.87" cy="347.35" r="0.78"/><circle cx="456.77" cy="355.06" r="0.78"/><circle cx="456.24" cy="349.68" r="0.78"/><circle cx="465.01" cy="347.18" r="0.78"/><circle cx="465.71" cy="349.1" r="0.78"/><circle cx="429.27" cy="361.82" r="0.78"/><circle cx="441.2" cy="364.79" r="0.78"/><circle cx="433.08" cy="364.64" r="0.78"/><circle cx="450.04" cy="350.4" r="0.78"/><circle cx="433.97" cy="356.12" r="0.78"/><circle cx="462.23" cy="341.99" r="0.78"/><circle cx="446.2" cy="352.41" r="0.78"/><circle cx="452.08" cy="356.09" r="0.78"/><circle cx="469.21" cy="353.72" r="0.78"/><circle cx="440.66" cy="364.78" r="0.78"/><circle cx="468.5" cy="356.7" r="0.78"/><circle cx="454.05" cy="346.26" r="0.78"/><circle cx="446.69" cy="350.21" r="0.78"/><circle cx="463.38" cy="352.49" r="0.78"/><circle cx="443.74" cy="350.52" r="0.78"/><circle cx="466.14" cy="354.16" r="0.78"/><circle cx="448.69" cy="355.44" r="0.78"/><circle cx="448.6" cy="358.82" r="0.78"/><circle cx="434.93" cy="355.4" r="0.78"/><circle cx="443.41" cy="353.95" r="0.78"/><circle cx="460.72" cy="346.27" r="0.78"/><circle cx="465.8" cy="344.43" r="0.78"/><circle cx="450.03" cy="358.31" r="0.78"/><circle cx="478.4" cy="342.98" r="0.78"/><circle cx="468.89" cy="348.98" r="0.78"/><circle cx="454.27" cy="360.22" r="0.78"/><circle cx="460.35" cy="347.8" r="0.78"/><circle cx="452.19" cy="350.83" r="0.78"/><circle cx="454.45" cy="361.2" r="0.78"/><circle cx="470.59" cy="350.54" r="0.78"/><circle cx="472" cy="353.48" r="0.78"/><circle cx="464.44" cy="341.87" r="0.78"/><circle cx="459.54" cy="349.68" r="0.78"/><circle cx="446.93" cy="355.14" r="0.78"/><circle cx="436.68" cy="350.31" r="0.78"/><circle cx="476.06" cy="337.1" r="0.78"/><circle cx="477.74" cy="336.52" r="0.78"/><circle cx="479.57" cy="336.59" r="0.78"/><circle cx="476.59" cy="337.51" r="0.78"/><circle cx="477.86" cy="340.88" r="0.78"/><circle cx="475.79" cy="341" r="0.78"/></g>
<line x1="427.7" y1="362.8" x2="476.7" y2="343" stroke="#c85a5a" stroke-width="0.6" opacity="0.9"/>
<path d="M535.8 377.5H597.8M535.8 367.8H597.8M535.8 358.1H597.8M535.8 348.4H597.8M535.8 338.7H597.8M535.8 329H597.8M535.8 319.3H597.8M538.7 318V379.3M546.45 318V379.3M554.2 318V379.3M561.95 318V379.3M569.7 318V379.3M577.45 318V379.3M585.2 318V379.3M592.95 318V379.3" stroke="#f2f2f2" stroke-width="0.35" fill="none"/>
<path d="M535.8 318V379.3H597.8" stroke="#a8a8a8" stroke-width="0.5" fill="none"/>
<g font-size="2" fill="#777" stroke="#888" stroke-width="0.15"><text x="535" y="378.1" text-anchor="end">10</text><text x="535" y="368.4" text-anchor="end">12</text><text x="535" y="358.7" text-anchor="end">14</text><text x="535" y="349" text-anchor="end">16</text><text x="535" y="339.3" text-anchor="end">18</text><text x="535" y="329.6" text-anchor="end">20</text><text x="535" y="319.9" text-anchor="end">22</text><text x="538.7" y="382.2" text-anchor="middle">0</text><text x="546.45" y="382.2" text-anchor="middle">2</text><text x="554.2" y="382.2" text-anchor="middle">4</text><text x="561.95" y="382.2" text-anchor="middle">6</text><text x="569.7" y="382.2" text-anchor="middle">8</text><text x="577.45" y="382.2" text-anchor="middle">10</text><text x="585.2" y="382.2" text-anchor="middle">12</text><text x="592.95" y="382.2" text-anchor="middle">14</text></g>
<g font-size="1.9" fill="#6e6e6e" stroke="#808080" stroke-width="0.2" text-anchor="middle"><text x="566.5" y="385.9" textLength="49" lengthAdjust="spacingAndGlyphs">mRNA Expression, RSEM (Batch normalized from Illumina</text><text x="566.5" y="387.5" textLength="36" lengthAdjust="spacingAndGlyphs">HiSeq_RNASeqV2): SV2B (log2(x + 1))</text></g>
<g font-size="1.9" fill="#6e6e6e" stroke="#808080" stroke-width="0.2" text-anchor="middle" transform="translate(535.8 348.5) rotate(-90)"><text x="0" y="-8.5" textLength="49" lengthAdjust="spacingAndGlyphs">mRNA Expression, RSEM (Batch normalized from Illumina</text><text x="0" y="-6.2" textLength="30" lengthAdjust="spacingAndGlyphs">HiSeq_RNASeqV2): gene (log2(x + 1))</text></g>
<text x="566.8" y="314.1" font-size="2.5" font-weight="bold" fill="#505050" stroke="#606060" stroke-width="0.3" text-anchor="middle" textLength="16.6" lengthAdjust="spacingAndGlyphs">SV2B vs. RAB44</text>
<g font-size="2.1" fill="#7a7a7a" stroke="#8a8a8a" stroke-width="0.18" text-anchor="middle"><text x="612.1" y="325.6" textLength="13.3" lengthAdjust="spacingAndGlyphs">Spearman: 0.78</text><text x="612.1" y="328.6" textLength="12" lengthAdjust="spacingAndGlyphs">(p = 2.76e-25)</text><text x="612.1" y="332.8" textLength="12" lengthAdjust="spacingAndGlyphs">Pearson: 0.77</text><text x="612.1" y="335.9" textLength="12" lengthAdjust="spacingAndGlyphs">(p = 8.31e-25)</text><text x="612.1" y="339.4" textLength="16" lengthAdjust="spacingAndGlyphs">y = 0.84x + 2.58</text><text x="609.6" y="342.3" textLength="7.3" lengthAdjust="spacingAndGlyphs">R² = 0.52</text></g>
<g fill="#428ade" fill-opacity="0.85"><circle cx="567.65" cy="357.46" r="0.78"/><circle cx="579.76" cy="347.25" r="0.78"/><circle cx="558.07" cy="356.42" r="0.78"/><circle cx="561.77" cy="357.35" r="0.78"/><circle cx="580.76" cy="352.03" r="0.78"/><circle cx="557.72" cy="352.37" r="0.78"/><circle cx="579.31" cy="344.36" r="0.78"/><circle cx="564.41" cy="352.55" r="0.78"/><circle cx="558.92" cy="349.78" r="0.78"/><circle cx="565.43" cy="356.02" r="0.78"/><circle cx="591.23" cy="337.61" r="0.78"/><circle cx="584.38" cy="347.13" r="0.78"/><circle cx="572.22" cy="354.27" r="0.78"/><circle cx="571.94" cy="346.99" r="0.78"/><circle cx="568.77" cy="355.89" r="0.78"/><circle cx="567.25" cy="348.21" r="0.78"/><circle cx="573.16" cy="340.25" r="0.78"/><circle cx="558.3" cy="362.62" r="0.78"/><circle cx="559.68" cy="349.21" r="0.78"/><circle cx="563.62" cy="353.33" r="0.78"/><circle cx="565.25" cy="347.43" r="0.78"/><circle cx="576.54" cy="347.99" r="0.78"/><circle cx="571.37" cy="343.18" r="0.78"/><circle cx="577.31" cy="343.83" r="0.78"/><circle cx="568.03" cy="346.75" r="0.78"/><circle cx="562.66" cy="356.71" r="0.78"/><circle cx="569.18" cy="342.31" r="0.78"/><circle cx="590.28" cy="328.12" r="0.78"/><circle cx="571.49" cy="351.95" r="0.78"/><circle cx="586.01" cy="345.14" r="0.78"/><circle cx="580.34" cy="343.71" r="0.78"/><circle cx="581.48" cy="350.3" r="0.78"/><circle cx="567.71" cy="349.39" r="0.78"/><circle cx="566.54" cy="350.31" r="0.78"/><circle cx="585.23" cy="338.66" r="0.78"/><circle cx="578.42" cy="354.87" r="0.78"/><circle cx="555.45" cy="363.71" r="0.78"/><circle cx="570.74" cy="353.46" r="0.78"/><circle cx="568.84" cy="374.7" r="0.78"/><circle cx="573.18" cy="356.46" r="0.78"/><circle cx="588.61" cy="341.91" r="0.78"/><circle cx="582.91" cy="343.94" r="0.78"/><circle cx="576.56" cy="339.6" r="0.78"/><circle cx="590.21" cy="343.65" r="0.78"/><circle cx="567.82" cy="362.07" r="0.78"/><circle cx="567.54" cy="345.17" r="0.78"/><circle cx="555.36" cy="359.97" r="0.78"/><circle cx="567.58" cy="352.41" r="0.78"/><circle cx="563.3" cy="376.19" r="0.78"/><circle cx="562.34" cy="360.52" r="0.78"/><circle cx="562.04" cy="353.66" r="0.78"/><circle cx="569.55" cy="360.11" r="0.78"/><circle cx="562.1" cy="361.38" r="0.78"/><circle cx="560.22" cy="363.65" r="0.78"/><circle cx="582.56" cy="346.66" r="0.78"/><circle cx="569.14" cy="337.89" r="0.78"/><circle cx="587.55" cy="338.38" r="0.78"/><circle cx="563.57" cy="363.97" r="0.78"/><circle cx="560.91" cy="362.78" r="0.78"/><circle cx="568.97" cy="349.92" r="0.78"/><circle cx="569.15" cy="341.35" r="0.78"/><circle cx="553.81" cy="357.95" r="0.78"/><circle cx="582.99" cy="342.56" r="0.78"/><circle cx="564.29" cy="345.82" r="0.78"/><circle cx="555.91" cy="355.22" r="0.78"/><circle cx="578.83" cy="343.3" r="0.78"/><circle cx="549.74" cy="369.57" r="0.78"/><circle cx="568.21" cy="344.24" r="0.78"/><circle cx="567.88" cy="361.39" r="0.78"/><circle cx="566.08" cy="359.44" r="0.78"/><circle cx="577.91" cy="344.1" r="0.78"/><circle cx="559.14" cy="356.64" r="0.78"/><circle cx="576.15" cy="339.47" r="0.78"/><circle cx="561.85" cy="355.41" r="0.78"/><circle cx="578.91" cy="342.5" r="0.78"/><circle cx="566.69" cy="354.75" r="0.78"/><circle cx="555.91" cy="358.5" r="0.78"/><circle cx="587.48" cy="331.61" r="0.78"/><circle cx="574.42" cy="344.82" r="0.78"/><circle cx="579.53" cy="340.46" r="0.78"/><circle cx="591.61" cy="343.51" r="0.78"/><circle cx="568.05" cy="353.44" r="0.78"/><circle cx="563.49" cy="350.45" r="0.78"/><circle cx="581.39" cy="339.48" r="0.78"/><circle cx="549.19" cy="371.87" r="0.78"/><circle cx="565.64" cy="349.34" r="0.78"/><circle cx="581.43" cy="348.76" r="0.78"/><circle cx="555.72" cy="359.8" r="0.78"/><circle cx="561.47" cy="358.17" r="0.78"/><circle cx="565.41" cy="349.23" r="0.78"/><circle cx="573.19" cy="356.44" r="0.78"/><circle cx="575.71" cy="346.9" r="0.78"/><circle cx="589.98" cy="333.21" r="0.78"/><circle cx="575.04" cy="345.26" r="0.78"/><circle cx="571.42" cy="348.01" r="0.78"/><circle cx="578.91" cy="342.32" r="0.78"/><circle cx="551.76" cy="373.83" r="0.78"/><circle cx="592.8" cy="338.66" r="0.78"/><circle cx="569.62" cy="350.04" r="0.78"/><circle cx="549.3" cy="366.66" r="0.78"/><circle cx="577.32" cy="345.33" r="0.78"/><circle cx="557.82" cy="356.73" r="0.78"/><circle cx="576.71" cy="349.6" r="0.78"/><circle cx="562.62" cy="358.53" r="0.78"/><circle cx="577.74" cy="346.86" r="0.78"/><circle cx="563.17" cy="365.78" r="0.78"/><circle cx="565.44" cy="356.67" r="0.78"/><circle cx="580.51" cy="344.87" r="0.78"/><circle cx="578.22" cy="338.11" r="0.78"/><circle cx="581.1" cy="338.78" r="0.78"/><circle cx="588.83" cy="362.05" r="0.78"/><circle cx="582.27" cy="332.9" r="0.78"/><circle cx="579.15" cy="343.91" r="0.78"/><circle cx="550.13" cy="358.78" r="0.78"/><circle cx="582.47" cy="332.75" r="0.78"/><circle cx="564.29" cy="344.21" r="0.78"/><circle cx="564.49" cy="353.45" r="0.78"/><circle cx="570.51" cy="367.74" r="0.78"/><circle cx="578.59" cy="357.7" r="0.78"/><circle cx="580.85" cy="344.29" r="0.78"/><circle cx="570.7" cy="348.7" r="0.78"/><circle cx="550.88" cy="359.7" r="0.78"/><circle cx="560.87" cy="352.17" r="0.78"/><circle cx="581.25" cy="346.15" r="0.78"/><circle cx="576.83" cy="337.56" r="0.78"/><circle cx="563.15" cy="357.49" r="0.78"/><circle cx="568.55" cy="351.83" r="0.78"/><circle cx="553.2" cy="356.11" r="0.78"/><circle cx="574.9" cy="348.83" r="0.78"/><circle cx="557.64" cy="352.48" r="0.78"/><circle cx="585.12" cy="340.02" r="0.78"/><circle cx="575.89" cy="343.5" r="0.78"/><circle cx="580.01" cy="349.06" r="0.78"/><circle cx="576.01" cy="351.02" r="0.78"/><circle cx="574.56" cy="345.4" r="0.78"/><circle cx="593.09" cy="330.01" r="0.78"/><circle cx="588.48" cy="332.37" r="0.78"/><circle cx="589.1" cy="333.01" r="0.78"/><circle cx="592.28" cy="329.97" r="0.78"/><circle cx="592.69" cy="330.09" r="0.78"/><circle cx="589.47" cy="329.3" r="0.78"/></g>
<line x1="541.9" y1="369.8" x2="590.4" y2="336.5" stroke="#c85a5a" stroke-width="0.6" opacity="0.9"/>
<path d="M59.5 474.2H121.5M59.5 464.5H121.5M59.5 454.8H121.5M59.5 445.1H121.5M59.5 435.4H121.5M59.5 425.7H121.5M59.5 416H121.5M62.4 414.7V476M70.15 414.7V476M77.9 414.7V476M85.65 414.7V476M93.4 414.7V476M101.15 414.7V476M108.9 414.7V476M116.65 414.7V476" stroke="#f2f2f2" stroke-width="0.35" fill="none"/>
<path d="M59.5 414.7V476H121.5" stroke="#a8a8a8" stroke-width="0.5" fill="none"/>
<g font-size="2" fill="#777" stroke="#888" stroke-width="0.15"><text x="58.7" y="474.8" text-anchor="end">10</text><text x="58.7" y="465.1" text-anchor="end">12</text><text x="58.7" y="455.4" text-anchor="end">14</text><text x="58.7" y="445.7" text-anchor="end">16</text><text x="58.7" y="436" text-anchor="end">18</text><text x="58.7" y="426.3" text-anchor="end">20</text><text x="58.7" y="416.6" text-anchor="end">22</text><text x="62.4" y="478.9" text-anchor="middle">0</text><text x="70.15" y="478.9" text-anchor="middle">2</text><text x="77.9" y="478.9" text-anchor="middle">4</text><text x="85.65" y="478.9" text-anchor="middle">6</text><text x="93.4" y="478.9" text-anchor="middle">8</text><text x="101.15" y="478.9" text-anchor="middle">10</text><text x="108.9" y="478.9" text-anchor="middle">12</text><text x="116.65" y="478.9" text-anchor="middle">14</text></g>
<g font-size="1.9" fill="#6e6e6e" stroke="#808080" stroke-width="0.2" text-anchor="middle"><text x="90.2" y="482.6" textLength="49" lengthAdjust="spacingAndGlyphs">mRNA Expression, RSEM (Batch normalized from Illumina</text><text x="90.2" y="484.2" textLength="36" lengthAdjust="spacingAndGlyphs">HiSeq_RNASeqV2): SV2B (log2(x + 1))</text></g>
<g font-size="1.9" fill="#6e6e6e" stroke="#808080" stroke-width="0.2" text-anchor="middle" transform="translate(59.5 445.2) rotate(-90)"><text x="0" y="-8.5" textLength="49" lengthAdjust="spacingAndGlyphs">mRNA Expression, RSEM (Batch normalized from Illumina</text><text x="0" y="-6.2" textLength="30" lengthAdjust="spacingAndGlyphs">HiSeq_RNASeqV2): gene (log2(x + 1))</text></g>
<text x="90.5" y="410.8" font-size="2.5" font-weight="bold" fill="#505050" stroke="#606060" stroke-width="0.3" text-anchor="middle" textLength="16.6" lengthAdjust="spacingAndGlyphs">SV2B vs. MAPT</text>
<g font-size="2.1" fill="#7a7a7a" stroke="#8a8a8a" stroke-width="0.18" text-anchor="middle"><text x="135.8" y="422.3" textLength="13.3" lengthAdjust="spacingAndGlyphs">Spearman: 0.78</text><text x="135.8" y="425.3" textLength="12" lengthAdjust="spacingAndGlyphs">(p = 2.76e-25)</text><text x="135.8" y="429.5" textLength="12" lengthAdjust="spacingAndGlyphs">Pearson: 0.77</text><text x="135.8" y="432.6" textLength="12" lengthAdjust="spacingAndGlyphs">(p = 8.31e-25)</text><text x="135.8" y="436.1" textLength="16" lengthAdjust="spacingAndGlyphs">y = 0.84x + 2.58</text><text x="133.3" y="439" textLength="7.3" lengthAdjust="spacingAndGlyphs">R² = 0.52</text></g>
<g fill="#428ade" fill-opacity="0.85"><circle cx="103.03" cy="429.82" r="0.78"/><circle cx="93.67" cy="443.75" r="0.78"/><circle cx="89.5" cy="440.46" r="0.78"/><circle cx="92.29" cy="440.35" r="0.78"/><circle cx="98.61" cy="433.31" r="0.78"/><circle cx="82.63" cy="444.71" r="0.78"/><circle cx="89.01" cy="437.94" r="0.78"/><circle cx="62.5" cy="458.61" r="0.78"/><circle cx="95.47" cy="431.56" r="0.78"/><circle cx="115.08" cy="422.24" r="0.78"/><circle cx="87.11" cy="444.46" r="0.78"/><circle cx="100.98" cy="428.62" r="0.78"/><circle cx="96.45" cy="438.56" r="0.78"/><circle cx="114.51" cy="433.86" r="0.78"/><circle cx="104.11" cy="431.43" r="0.78"/><circle cx="84.28" cy="444.33" r="0.78"/><circle cx="102.9" cy="430.17" r="0.78"/><circle cx="83.62" cy="456.46" r="0.78"/><circle cx="105.72" cy="429.63" r="0.78"/><circle cx="116.5" cy="420.05" r="0.78"/><circle cx="98.8" cy="433.85" r="0.78"/><circle cx="106.23" cy="437.65" r="0.78"/><circle cx="78.21" cy="446.03" r="0.78"/><circle cx="97.46" cy="436.3" r="0.78"/><circle cx="89.98" cy="434.55" r="0.78"/><circle cx="89.03" cy="437.54" r="0.78"/><circle cx="116.49" cy="425.95" r="0.78"/><circle cx="102.09" cy="434.31" r="0.78"/><circle cx="80.97" cy="448.49" r="0.78"/><circle cx="88.26" cy="439.03" r="0.78"/><circle cx="106.26" cy="429.32" r="0.78"/><circle cx="110.74" cy="422.63" r="0.78"/><circle cx="92.96" cy="434.57" r="0.78"/><circle cx="88.26" cy="443.82" r="0.78"/><circle cx="98.5" cy="432.26" r="0.78"/><circle cx="85.58" cy="445.37" r="0.78"/><circle cx="93.74" cy="442.98" r="0.78"/><circle cx="94.92" cy="433.91" r="0.78"/><circle cx="96.92" cy="448.6" r="0.78"/><circle cx="96.35" cy="434.39" r="0.78"/><circle cx="99.61" cy="432.12" r="0.78"/><circle cx="94.65" cy="442.59" r="0.78"/><circle cx="97.22" cy="441.25" r="0.78"/><circle cx="111.65" cy="417" r="0.78"/><circle cx="85.58" cy="446.24" r="0.78"/><circle cx="105.8" cy="423.09" r="0.78"/><circle cx="98.88" cy="433.87" r="0.78"/><circle cx="94.07" cy="433.95" r="0.78"/><circle cx="80.82" cy="443.55" r="0.78"/><circle cx="106.64" cy="439.33" r="0.78"/><circle cx="82.36" cy="451.41" r="0.78"/><circle cx="92.99" cy="443.34" r="0.78"/><circle cx="99.65" cy="433.93" r="0.78"/><circle cx="87" cy="445.23" r="0.78"/><circle cx="83.56" cy="453.75" r="0.78"/><circle cx="94.51" cy="442.17" r="0.78"/><circle cx="83.14" cy="434.04" r="0.78"/><circle cx="96.13" cy="433.87" r="0.78"/><circle cx="85.17" cy="459.72" r="0.78"/><circle cx="89.64" cy="438.25" r="0.78"/><circle cx="97.03" cy="437.91" r="0.78"/><circle cx="73.64" cy="455.36" r="0.78"/><circle cx="104.75" cy="432.32" r="0.78"/><circle cx="100.33" cy="427.99" r="0.78"/><circle cx="81.57" cy="439.27" r="0.78"/><circle cx="90.36" cy="436.84" r="0.78"/><circle cx="70.99" cy="453.08" r="0.78"/><circle cx="86.55" cy="445.57" r="0.78"/><circle cx="78.91" cy="460.71" r="0.78"/><circle cx="70.7" cy="458.04" r="0.78"/><circle cx="94.81" cy="443.22" r="0.78"/><circle cx="94.11" cy="437.72" r="0.78"/><circle cx="100.67" cy="434.05" r="0.78"/><circle cx="103.82" cy="438.2" r="0.78"/><circle cx="116.5" cy="436.77" r="0.78"/><circle cx="86.05" cy="446.6" r="0.78"/><circle cx="89.22" cy="439.05" r="0.78"/><circle cx="95.92" cy="451.89" r="0.78"/><circle cx="77.25" cy="452.36" r="0.78"/><circle cx="85.17" cy="440.18" r="0.78"/><circle cx="100.11" cy="434.31" r="0.78"/><circle cx="83.82" cy="460.06" r="0.78"/><circle cx="103.3" cy="432.29" r="0.78"/><circle cx="96.62" cy="431.03" r="0.78"/><circle cx="85.27" cy="445.98" r="0.78"/><circle cx="87.37" cy="447.3" r="0.78"/><circle cx="80.83" cy="437.31" r="0.78"/><circle cx="86.92" cy="452.51" r="0.78"/><circle cx="95.16" cy="427.34" r="0.78"/><circle cx="95.53" cy="438.58" r="0.78"/><circle cx="87.7" cy="454.65" r="0.78"/><circle cx="104.07" cy="429.7" r="0.78"/><circle cx="94.14" cy="438.44" r="0.78"/><circle cx="98.2" cy="436.99" r="0.78"/><circle cx="86.81" cy="445.91" r="0.78"/><circle cx="94.32" cy="433.94" r="0.78"/><circle cx="94.87" cy="437.78" r="0.78"/><circle cx="73.14" cy="452.87" r="0.78"/><circle cx="91.25" cy="436.12" r="0.78"/><circle cx="111.93" cy="432.21" r="0.78"/><circle cx="90.01" cy="438.82" r="0.78"/><circle cx="88.2" cy="442.54" r="0.78"/><circle cx="104.26" cy="428.38" r="0.78"/><circle cx="62.5" cy="458.65" r="0.78"/><circle cx="92.92" cy="433.26" r="0.78"/><circle cx="89.92" cy="445.58" r="0.78"/><circle cx="87.85" cy="458.1" r="0.78"/><circle cx="77.78" cy="452.54" r="0.78"/><circle cx="93.01" cy="440.51" r="0.78"/><circle cx="116.08" cy="423.39" r="0.78"/><circle cx="102.85" cy="429.65" r="0.78"/><circle cx="96.15" cy="439.52" r="0.78"/><circle cx="80.62" cy="445.23" r="0.78"/><circle cx="71.26" cy="444.28" r="0.78"/><circle cx="102.87" cy="427.54" r="0.78"/><circle cx="105.07" cy="423.01" r="0.78"/><circle cx="92.42" cy="438.93" r="0.78"/><circle cx="87.99" cy="441.84" r="0.78"/><circle cx="90.75" cy="434.5" r="0.78"/><circle cx="81.86" cy="457.5" r="0.78"/><circle cx="71.34" cy="448.29" r="0.78"/><circle cx="104.85" cy="434.37" r="0.78"/><circle cx="101.01" cy="432.02" r="0.78"/><circle cx="82.23" cy="445.32" r="0.78"/><circle cx="78.09" cy="448.75" r="0.78"/><circle cx="91.96" cy="453.41" r="0.78"/><circle cx="79.01" cy="444.53" r="0.78"/><circle cx="92.28" cy="439.99" r="0.78"/><circle cx="104.23" cy="428.98" r="0.78"/><circle cx="80.5" cy="441.37" r="0.78"/><circle cx="95.26" cy="445.89" r="0.78"/><circle cx="98.97" cy="438.04" r="0.78"/><circle cx="63.17" cy="448.11" r="0.78"/><circle cx="71.17" cy="472.19" r="0.78"/><circle cx="74.73" cy="450.69" r="0.78"/><circle cx="115.25" cy="417.47" r="0.78"/><circle cx="118.07" cy="420.01" r="0.78"/><circle cx="115.37" cy="418.85" r="0.78"/><circle cx="113.66" cy="417" r="0.78"/><circle cx="113.58" cy="419.13" r="0.78"/><circle cx="114.27" cy="417.34" r="0.78"/></g>
<line x1="66.2" y1="456.8" x2="115.2" y2="423.5" stroke="#c85a5a" stroke-width="0.6" opacity="0.9"/>
<path d="M183.4 473.5H245.4M183.4 463.8H245.4M183.4 454.1H245.4M183.4 444.4H245.4M183.4 434.7H245.4M183.4 425H245.4M183.4 415.3H245.4M186.3 414V475.3M194.05 414V475.3M201.8 414V475.3M209.55 414V475.3M217.3 414V475.3M225.05 414V475.3M232.8 414V475.3M240.55 414V475.3" stroke="#f2f2f2" stroke-width="0.35" fill="none"/>
<path d="M183.4 414V475.3H245.4" stroke="#a8a8a8" stroke-width="0.5" fill="none"/>
<g font-size="2" fill="#777" stroke="#888" stroke-width="0.15"><text x="182.6" y="474.1" text-anchor="end">10</text><text x="182.6" y="464.4" text-anchor="end">12</text><text x="182.6" y="454.7" text-anchor="end">14</text><text x="182.6" y="445" text-anchor="end">16</text><text x="182.6" y="435.3" text-anchor="end">18</text><text x="182.6" y="425.6" text-anchor="end">20</text><text x="182.6" y="415.9" text-anchor="end">22</text><text x="186.3" y="478.2" text-anchor="middle">0</text><text x="194.05" y="478.2" text-anchor="middle">2</text><text x="201.8" y="478.2" text-anchor="middle">4</text><text x="209.55" y="478.2" text-anchor="middle">6</text><text x="217.3" y="478.2" text-anchor="middle">8</text><text x="225.05" y="478.2" text-anchor="middle">10</text><text x="232.8" y="478.2" text-anchor="middle">12</text><text x="240.55" y="478.2" text-anchor="middle">14</text></g>
<g font-size="1.9" fill="#6e6e6e" stroke="#808080" stroke-width="0.2" text-anchor="middle"><text x="214.1" y="481.9" textLength="49" lengthAdjust="spacingAndGlyphs">mRNA Expression, RSEM (Batch normalized from Illumina</text><text x="214.1" y="483.5" textLength="36" lengthAdjust="spacingAndGlyphs">HiSeq_RNASeqV2): SV2B (log2(x + 1))</text></g>
<g font-size="1.9" fill="#6e6e6e" stroke="#808080" stroke-width="0.2" text-anchor="middle" transform="translate(183.4 444.5) rotate(-90)"><text x="0" y="-8.5" textLength="49" lengthAdjust="spacingAndGlyphs">mRNA Expression, RSEM (Batch normalized from Illumina</text><text x="0" y="-6.2" textLength="30" lengthAdjust="spacingAndGlyphs">HiSeq_RNASeqV2): gene (log2(x + 1))</text></g>
<text x="214.4" y="410.1" font-size="2.5" font-weight="bold" fill="#505050" stroke="#606060" stroke-width="0.3" text-anchor="middle" textLength="16.6" lengthAdjust="spacingAndGlyphs">SV2B vs. CA10</text>
<g font-size="2.1" fill="#7a7a7a" stroke="#8a8a8a" stroke-width="0.18" text-anchor="middle"><text x="259.7" y="421.6" textLength="13.3" lengthAdjust="spacingAndGlyphs">Spearman: 0.78</text><text x="259.7" y="424.6" textLength="12" lengthAdjust="spacingAndGlyphs">(p = 2.76e-25)</text><text x="259.7" y="428.8" textLength="12" lengthAdjust="spacingAndGlyphs">Pearson: 0.77</text><text x="259.7" y="431.9" textLength="12" lengthAdjust="spacingAndGlyphs">(p = 8.31e-25)</text><text x="259.7" y="435.4" textLength="16" lengthAdjust="spacingAndGlyphs">y = 0.84x + 2.58</text><text x="257.2" y="438.3" textLength="7.3" lengthAdjust="spacingAndGlyphs">R² = 0.52</text></g>
<g fill="#428ade" fill-opacity="0.85"><circle cx="220.79" cy="437.62" r="0.78"/><circle cx="206.84" cy="452.23" r="0.78"/><circle cx="220.73" cy="443.48" r="0.78"/><circle cx="219.39" cy="449.01" r="0.78"/><circle cx="211.1" cy="451.19" r="0.78"/><circle cx="212.62" cy="436.97" r="0.78"/><circle cx="220.43" cy="436.91" r="0.78"/><circle cx="218.36" cy="448.95" r="0.78"/><circle cx="229.64" cy="427.36" r="0.78"/><circle cx="226.86" cy="438.83" r="0.78"/><circle cx="219.36" cy="453.79" r="0.78"/><circle cx="219.61" cy="441.7" r="0.78"/><circle cx="238.21" cy="423.04" r="0.78"/><circle cx="216.61" cy="438.43" r="0.78"/><circle cx="220.52" cy="439.01" r="0.78"/><circle cx="216.24" cy="441.55" r="0.78"/><circle cx="230.9" cy="443.56" r="0.78"/><circle cx="204.02" cy="456.12" r="0.78"/><circle cx="212.64" cy="449.75" r="0.78"/><circle cx="222.42" cy="437.65" r="0.78"/><circle cx="205.14" cy="458.24" r="0.78"/><circle cx="230.5" cy="430.71" r="0.78"/><circle cx="222.76" cy="438.41" r="0.78"/><circle cx="217.71" cy="440.42" r="0.78"/><circle cx="216.96" cy="458.29" r="0.78"/><circle cx="203.33" cy="447.64" r="0.78"/><circle cx="210.95" cy="450.43" r="0.78"/><circle cx="202.24" cy="450.95" r="0.78"/><circle cx="206.93" cy="451.33" r="0.78"/><circle cx="206.62" cy="467.25" r="0.78"/><circle cx="224.09" cy="448.1" r="0.78"/><circle cx="224.1" cy="438.94" r="0.78"/><circle cx="201.7" cy="460.64" r="0.78"/><circle cx="226.89" cy="436.98" r="0.78"/><circle cx="221.56" cy="446.73" r="0.78"/><circle cx="208.9" cy="448.78" r="0.78"/><circle cx="215.85" cy="450.84" r="0.78"/><circle cx="201.63" cy="446.09" r="0.78"/><circle cx="213.47" cy="445.41" r="0.78"/><circle cx="203.6" cy="453.38" r="0.78"/><circle cx="233.54" cy="432.35" r="0.78"/><circle cx="215.4" cy="442.85" r="0.78"/><circle cx="209.76" cy="448.13" r="0.78"/><circle cx="237.58" cy="425.85" r="0.78"/><circle cx="232.85" cy="424.99" r="0.78"/><circle cx="213.52" cy="443.09" r="0.78"/><circle cx="227.97" cy="448.66" r="0.78"/><circle cx="216.8" cy="441.98" r="0.78"/><circle cx="215.73" cy="444.67" r="0.78"/><circle cx="188.41" cy="464.38" r="0.78"/><circle cx="217.25" cy="444.08" r="0.78"/><circle cx="203.06" cy="455.1" r="0.78"/><circle cx="221.95" cy="446.92" r="0.78"/><circle cx="205.71" cy="455.42" r="0.78"/><circle cx="235" cy="425.16" r="0.78"/><circle cx="215.83" cy="446.25" r="0.78"/><circle cx="217.35" cy="438.28" r="0.78"/><circle cx="207.19" cy="451.69" r="0.78"/><circle cx="223.44" cy="431.53" r="0.78"/><circle cx="215.78" cy="439.04" r="0.78"/><circle cx="204.24" cy="454.62" r="0.78"/><circle cx="222.64" cy="435.84" r="0.78"/><circle cx="210.98" cy="442.42" r="0.78"/><circle cx="218.41" cy="436.21" r="0.78"/><circle cx="219.74" cy="444.05" r="0.78"/><circle cx="219.94" cy="450.21" r="0.78"/><circle cx="212.08" cy="454.93" r="0.78"/><circle cx="235.02" cy="429.21" r="0.78"/><circle cx="219.8" cy="437.54" r="0.78"/><circle cx="215.33" cy="441.74" r="0.78"/><circle cx="201.64" cy="457.98" r="0.78"/><circle cx="204.66" cy="454.28" r="0.78"/><circle cx="214.79" cy="445.96" r="0.78"/><circle cx="231.87" cy="426.15" r="0.78"/><circle cx="219.19" cy="437.2" r="0.78"/><circle cx="221.5" cy="439.57" r="0.78"/><circle cx="201.88" cy="450.42" r="0.78"/><circle cx="217.33" cy="452.21" r="0.78"/><circle cx="218.12" cy="457.95" r="0.78"/><circle cx="229" cy="430.46" r="0.78"/><circle cx="227.69" cy="434.71" r="0.78"/><circle cx="211.53" cy="459.52" r="0.78"/><circle cx="237.88" cy="426.46" r="0.78"/><circle cx="211.11" cy="448.36" r="0.78"/><circle cx="230.19" cy="436.01" r="0.78"/><circle cx="231.38" cy="432.67" r="0.78"/><circle cx="224.16" cy="439.71" r="0.78"/><circle cx="211.3" cy="440.26" r="0.78"/><circle cx="232.12" cy="433.46" r="0.78"/><circle cx="214.25" cy="445.09" r="0.78"/><circle cx="223.94" cy="433.29" r="0.78"/><circle cx="222.69" cy="443.15" r="0.78"/><circle cx="240.4" cy="430.06" r="0.78"/><circle cx="227.4" cy="439.68" r="0.78"/><circle cx="220.29" cy="437.96" r="0.78"/><circle cx="216.58" cy="445.45" r="0.78"/><circle cx="205.49" cy="449.28" r="0.78"/><circle cx="231.19" cy="438.09" r="0.78"/><circle cx="237.94" cy="418.01" r="0.78"/><circle cx="223.22" cy="434.53" r="0.78"/><circle cx="204.51" cy="457.27" r="0.78"/><circle cx="212.49" cy="447.8" r="0.78"/><circle cx="213.9" cy="439.64" r="0.78"/><circle cx="213.2" cy="438.44" r="0.78"/><circle cx="213.7" cy="451.33" r="0.78"/><circle cx="234.63" cy="435.59" r="0.78"/><circle cx="215.94" cy="442.17" r="0.78"/><circle cx="225.72" cy="428.04" r="0.78"/><circle cx="215.22" cy="434.14" r="0.78"/><circle cx="216.53" cy="443.25" r="0.78"/><circle cx="216.92" cy="441.89" r="0.78"/><circle cx="217.57" cy="449.46" r="0.78"/><circle cx="223.76" cy="438.88" r="0.78"/><circle cx="207.15" cy="448.36" r="0.78"/><circle cx="209.41" cy="453.16" r="0.78"/><circle cx="230.31" cy="431.33" r="0.78"/><circle cx="206.75" cy="452.33" r="0.78"/><circle cx="214.1" cy="444" r="0.78"/><circle cx="219.99" cy="430.69" r="0.78"/><circle cx="220.24" cy="434.96" r="0.78"/><circle cx="212.81" cy="446.74" r="0.78"/><circle cx="225.46" cy="438.24" r="0.78"/><circle cx="213.83" cy="448.17" r="0.78"/><circle cx="220.02" cy="442.83" r="0.78"/><circle cx="225.02" cy="431.64" r="0.78"/><circle cx="218.56" cy="430.72" r="0.78"/><circle cx="235.34" cy="437.62" r="0.78"/><circle cx="212.45" cy="446.75" r="0.78"/><circle cx="236.65" cy="422.97" r="0.78"/><circle cx="219.56" cy="438.53" r="0.78"/><circle cx="220.13" cy="432.16" r="0.78"/><circle cx="218.92" cy="436.17" r="0.78"/><circle cx="233.44" cy="426.48" r="0.78"/><circle cx="212.62" cy="456.67" r="0.78"/><circle cx="223.76" cy="442.35" r="0.78"/><circle cx="237.2" cy="421.92" r="0.78"/><circle cx="240.92" cy="422.9" r="0.78"/><circle cx="239.7" cy="423.37" r="0.78"/><circle cx="238.74" cy="419.67" r="0.78"/><circle cx="237.59" cy="420.34" r="0.78"/><circle cx="237.8" cy="419.07" r="0.78"/></g>
<line x1="190.4" y1="465.5" x2="238.4" y2="426.2" stroke="#c85a5a" stroke-width="0.6" opacity="0.9"/>
<path d="M304.4 473.5H366.4M304.4 463.8H366.4M304.4 454.1H366.4M304.4 444.4H366.4M304.4 434.7H366.4M304.4 425H366.4M304.4 415.3H366.4M307.3 414V475.3M315.05 414V475.3M322.8 414V475.3M330.55 414V475.3M338.3 414V475.3M346.05 414V475.3M353.8 414V475.3M361.55 414V475.3" stroke="#f2f2f2" stroke-width="0.35" fill="none"/>
<path d="M304.4 414V475.3H366.4" stroke="#a8a8a8" stroke-width="0.5" fill="none"/>
<g font-size="2" fill="#777" stroke="#888" stroke-width="0.15"><text x="303.6" y="474.1" text-anchor="end">10</text><text x="303.6" y="464.4" text-anchor="end">12</text><text x="303.6" y="454.7" text-anchor="end">14</text><text x="303.6" y="445" text-anchor="end">16</text><text x="303.6" y="435.3" text-anchor="end">18</text><text x="303.6" y="425.6" text-anchor="end">20</text><text x="303.6" y="415.9" text-anchor="end">22</text><text x="307.3" y="478.2" text-anchor="middle">0</text><text x="315.05" y="478.2" text-anchor="middle">2</text><text x="322.8" y="478.2" text-anchor="middle">4</text><text x="330.55" y="478.2" text-anchor="middle">6</text><text x="338.3" y="478.2" text-anchor="middle">8</text><text x="346.05" y="478.2" text-anchor="middle">10</text><text x="353.8" y="478.2" text-anchor="middle">12</text><text x="361.55" y="478.2" text-anchor="middle">14</text></g>
<g font-size="1.9" fill="#6e6e6e" stroke="#808080" stroke-width="0.2" text-anchor="middle"><text x="335.1" y="481.9" textLength="49" lengthAdjust="spacingAndGlyphs">mRNA Expression, RSEM (Batch normalized from Illumina</text><text x="335.1" y="483.5" textLength="36" lengthAdjust="spacingAndGlyphs">HiSeq_RNASeqV2): SV2B (log2(x + 1))</text></g>
<g font-size="1.9" fill="#6e6e6e" stroke="#808080" stroke-width="0.2" text-anchor="middle" transform="translate(304.4 444.5) rotate(-90)"><text x="0" y="-8.5" textLength="49" lengthAdjust="spacingAndGlyphs">mRNA Expression, RSEM (Batch normalized from Illumina</text><text x="0" y="-6.2" textLength="30" lengthAdjust="spacingAndGlyphs">HiSeq_RNASeqV2): gene (log2(x + 1))</text></g>
<text x="335.4" y="410.1" font-size="2.5" font-weight="bold" fill="#505050" stroke="#606060" stroke-width="0.3" text-anchor="middle" textLength="16.6" lengthAdjust="spacingAndGlyphs">SV2B vs. CABP1</text>
<g font-size="2.1" fill="#7a7a7a" stroke="#8a8a8a" stroke-width="0.18" text-anchor="middle"><text x="380.7" y="421.6" textLength="13.3" lengthAdjust="spacingAndGlyphs">Spearman: 0.78</text><text x="380.7" y="424.6" textLength="12" lengthAdjust="spacingAndGlyphs">(p = 2.76e-25)</text><text x="380.7" y="428.8" textLength="12" lengthAdjust="spacingAndGlyphs">Pearson: 0.77</text><text x="380.7" y="431.9" textLength="12" lengthAdjust="spacingAndGlyphs">(p = 8.31e-25)</text><text x="380.7" y="435.4" textLength="16" lengthAdjust="spacingAndGlyphs">y = 0.84x + 2.58</text><text x="378.2" y="438.3" textLength="7.3" lengthAdjust="spacingAndGlyphs">R² = 0.52</text></g>
<g fill="#428ade" fill-opacity="0.85"><circle cx="322.96" cy="461.48" r="0.78"/><circle cx="331.33" cy="444.84" r="0.78"/><circle cx="342.27" cy="450.32" r="0.78"/><circle cx="317.61" cy="472.31" r="0.78"/><circle cx="328.82" cy="457.5" r="0.78"/><circle cx="319.37" cy="456.4" r="0.78"/><circle cx="329.18" cy="457.69" r="0.78"/><circle cx="338.3" cy="451.89" r="0.78"/><circle cx="333.09" cy="460.29" r="0.78"/><circle cx="318.23" cy="458.55" r="0.78"/><circle cx="345.66" cy="446.46" r="0.78"/><circle cx="337.39" cy="450.78" r="0.78"/><circle cx="331.8" cy="450.32" r="0.78"/><circle cx="344.73" cy="451.12" r="0.78"/><circle cx="325.52" cy="448.85" r="0.78"/><circle cx="337.08" cy="457.31" r="0.78"/><circle cx="343.49" cy="450.79" r="0.78"/><circle cx="340.43" cy="450.22" r="0.78"/><circle cx="328.45" cy="452.37" r="0.78"/><circle cx="347.99" cy="446.81" r="0.78"/><circle cx="332.16" cy="466.62" r="0.78"/><circle cx="347.84" cy="443.58" r="0.78"/><circle cx="336.39" cy="456.84" r="0.78"/><circle cx="340.93" cy="460.42" r="0.78"/><circle cx="347.64" cy="441.05" r="0.78"/><circle cx="345.34" cy="449.06" r="0.78"/><circle cx="345.44" cy="441.36" r="0.78"/><circle cx="344.93" cy="449.77" r="0.78"/><circle cx="338.96" cy="448.25" r="0.78"/><circle cx="340.25" cy="444.63" r="0.78"/><circle cx="358.33" cy="437.64" r="0.78"/><circle cx="346.33" cy="443.13" r="0.78"/><circle cx="340.01" cy="447.77" r="0.78"/><circle cx="347.08" cy="451.87" r="0.78"/><circle cx="347.7" cy="440.4" r="0.78"/><circle cx="317.44" cy="467.1" r="0.78"/><circle cx="340.23" cy="455.17" r="0.78"/><circle cx="334.5" cy="460.86" r="0.78"/><circle cx="336.08" cy="448.49" r="0.78"/><circle cx="338.89" cy="454.29" r="0.78"/><circle cx="340.58" cy="461.78" r="0.78"/><circle cx="341.81" cy="448.39" r="0.78"/><circle cx="354.26" cy="435.99" r="0.78"/><circle cx="342.53" cy="449.92" r="0.78"/><circle cx="329.19" cy="459.13" r="0.78"/><circle cx="360.24" cy="440.75" r="0.78"/><circle cx="325.27" cy="455.33" r="0.78"/><circle cx="335.98" cy="447.66" r="0.78"/><circle cx="324.81" cy="444.36" r="0.78"/><circle cx="331.18" cy="458.92" r="0.78"/><circle cx="342.7" cy="446.2" r="0.78"/><circle cx="340.51" cy="449" r="0.78"/><circle cx="334.59" cy="452.05" r="0.78"/><circle cx="354.16" cy="441.21" r="0.78"/><circle cx="347.11" cy="455.14" r="0.78"/><circle cx="341.48" cy="450.87" r="0.78"/><circle cx="331.17" cy="466.44" r="0.78"/><circle cx="343.5" cy="451.82" r="0.78"/><circle cx="335.71" cy="447.11" r="0.78"/><circle cx="333.8" cy="452.47" r="0.78"/><circle cx="334.5" cy="460.18" r="0.78"/><circle cx="331.99" cy="450.57" r="0.78"/><circle cx="331.9" cy="461.03" r="0.78"/><circle cx="350.16" cy="438.12" r="0.78"/><circle cx="341.18" cy="456.64" r="0.78"/><circle cx="333.29" cy="458.52" r="0.78"/><circle cx="337.76" cy="449.07" r="0.78"/><circle cx="352" cy="444.12" r="0.78"/><circle cx="322.08" cy="454.57" r="0.78"/><circle cx="346.95" cy="442.63" r="0.78"/><circle cx="338.61" cy="456.81" r="0.78"/><circle cx="315.87" cy="465.69" r="0.78"/><circle cx="338.72" cy="452.5" r="0.78"/><circle cx="327.29" cy="446.08" r="0.78"/><circle cx="319.63" cy="460.04" r="0.78"/><circle cx="329.94" cy="457.19" r="0.78"/><circle cx="348.44" cy="439.84" r="0.78"/><circle cx="347.97" cy="445.17" r="0.78"/><circle cx="346.55" cy="446.41" r="0.78"/><circle cx="327.34" cy="461.3" r="0.78"/><circle cx="349.85" cy="440.93" r="0.78"/><circle cx="328.45" cy="463.92" r="0.78"/><circle cx="340.13" cy="458.9" r="0.78"/><circle cx="350.67" cy="447.56" r="0.78"/><circle cx="330.48" cy="462.73" r="0.78"/><circle cx="334.2" cy="452.28" r="0.78"/><circle cx="336.95" cy="452.75" r="0.78"/><circle cx="356.69" cy="435.05" r="0.78"/><circle cx="324.93" cy="470.82" r="0.78"/><circle cx="334.8" cy="444.06" r="0.78"/><circle cx="349.12" cy="442.28" r="0.78"/><circle cx="340.03" cy="452.45" r="0.78"/><circle cx="348.1" cy="449.39" r="0.78"/><circle cx="329.46" cy="465.8" r="0.78"/><circle cx="355.25" cy="435.36" r="0.78"/><circle cx="329.81" cy="463.46" r="0.78"/><circle cx="359.52" cy="430.39" r="0.78"/><circle cx="350.56" cy="450.16" r="0.78"/><circle cx="323.61" cy="459.18" r="0.78"/><circle cx="329.67" cy="455.86" r="0.78"/><circle cx="354.96" cy="432.44" r="0.78"/><circle cx="349.43" cy="439.96" r="0.78"/><circle cx="338.84" cy="449.5" r="0.78"/><circle cx="353.64" cy="453.51" r="0.78"/><circle cx="338.3" cy="449.42" r="0.78"/><circle cx="342.41" cy="447.45" r="0.78"/><circle cx="347.93" cy="444.23" r="0.78"/><circle cx="335.19" cy="456.86" r="0.78"/><circle cx="337.69" cy="458.13" r="0.78"/><circle cx="348.13" cy="454.67" r="0.78"/><circle cx="343.11" cy="451.53" r="0.78"/><circle cx="326.15" cy="459.56" r="0.78"/><circle cx="328.06" cy="452.21" r="0.78"/><circle cx="353.22" cy="433.25" r="0.78"/><circle cx="328.81" cy="465.85" r="0.78"/><circle cx="348.14" cy="449.11" r="0.78"/><circle cx="342.8" cy="451.36" r="0.78"/><circle cx="355.49" cy="438.1" r="0.78"/><circle cx="352.81" cy="435.5" r="0.78"/><circle cx="348.41" cy="437.36" r="0.78"/><circle cx="324.4" cy="457.6" r="0.78"/><circle cx="353.53" cy="440.01" r="0.78"/><circle cx="323.4" cy="451.43" r="0.78"/><circle cx="327.9" cy="457.68" r="0.78"/><circle cx="318.98" cy="461.82" r="0.78"/><circle cx="336.75" cy="455.73" r="0.78"/><circle cx="334.51" cy="446.44" r="0.78"/><circle cx="345.94" cy="441.38" r="0.78"/><circle cx="349.74" cy="443.27" r="0.78"/><circle cx="342.76" cy="452.76" r="0.78"/><circle cx="334.59" cy="453.9" r="0.78"/><circle cx="361.4" cy="431.68" r="0.78"/><circle cx="325.29" cy="456.72" r="0.78"/><circle cx="340.54" cy="448.75" r="0.78"/><circle cx="341.14" cy="451.82" r="0.78"/><circle cx="357.96" cy="428.85" r="0.78"/><circle cx="361.92" cy="427.95" r="0.78"/><circle cx="358.37" cy="429.67" r="0.78"/><circle cx="361.8" cy="430.58" r="0.78"/><circle cx="358.71" cy="433.32" r="0.78"/><circle cx="361.85" cy="429.6" r="0.78"/></g>
<line x1="311.2" y1="468.7" x2="359.7" y2="435.4" stroke="#c85a5a" stroke-width="0.6" opacity="0.9"/>
<path d="M421.4 474.4H483.4M421.4 464.7H483.4M421.4 455H483.4M421.4 445.3H483.4M421.4 435.6H483.4M421.4 425.9H483.4M421.4 416.2H483.4M424.3 414.9V476.2M432.05 414.9V476.2M439.8 414.9V476.2M447.55 414.9V476.2M455.3 414.9V476.2M463.05 414.9V476.2M470.8 414.9V476.2M478.55 414.9V476.2" stroke="#f2f2f2" stroke-width="0.35" fill="none"/>
<path d="M421.4 414.9V476.2H483.4" stroke="#a8a8a8" stroke-width="0.5" fill="none"/>
<g font-size="2" fill="#777" stroke="#888" stroke-width="0.15"><text x="420.6" y="475" text-anchor="end">10</text><text x="420.6" y="465.3" text-anchor="end">12</text><text x="420.6" y="455.6" text-anchor="end">14</text><text x="420.6" y="445.9" text-anchor="end">16</text><text x="420.6" y="436.2" text-anchor="end">18</text><text x="420.6" y="426.5" text-anchor="end">20</text><text x="420.6" y="416.8" text-anchor="end">22</text><text x="424.3" y="479.1" text-anchor="middle">0</text><text x="432.05" y="479.1" text-anchor="middle">2</text><text x="439.8" y="479.1" text-anchor="middle">4</text><text x="447.55" y="479.1" text-anchor="middle">6</text><text x="455.3" y="479.1" text-anchor="middle">8</text><text x="463.05" y="479.1" text-anchor="middle">10</text><text x="470.8" y="479.1" text-anchor="middle">12</text><text x="478.55" y="479.1" text-anchor="middle">14</text></g>
<g font-size="1.9" fill="#6e6e6e" stroke="#808080" stroke-width="0.2" text-anchor="middle"><text x="452.1" y="482.8" textLength="49" lengthAdjust="spacingAndGlyphs">mRNA Expression, RSEM (Batch normalized from Illumina</text><text x="452.1" y="484.4" textLength="36" lengthAdjust="spacingAndGlyphs">HiSeq_RNASeqV2): SV2B (log2(x + 1))</text></g>
<g font-size="1.9" fill="#6e6e6e" stroke="#808080" stroke-width="0.2" text-anchor="middle" transform="translate(421.4 445.4) rotate(-90)"><text x="0" y="-8.5" textLength="49" lengthAdjust="spacingAndGlyphs">mRNA Expression, RSEM (Batch normalized from Illumina</text><text x="0" y="-6.2" textLength="30" lengthAdjust="spacingAndGlyphs">HiSeq_RNASeqV2): gene (log2(x + 1))</text></g>
<text x="452.4" y="411" font-size="2.5" font-weight="bold" fill="#505050" stroke="#606060" stroke-width="0.3" text-anchor="middle" textLength="16.6" lengthAdjust="spacingAndGlyphs">SV2B vs. SCTR</text>
<g font-size="2.1" fill="#7a7a7a" stroke="#8a8a8a" stroke-width="0.18" text-anchor="middle"><text x="497.7" y="422.5" textLength="13.3" lengthAdjust="spacingAndGlyphs">Spearman: 0.78</text><text x="497.7" y="425.5" textLength="12" lengthAdjust="spacingAndGlyphs">(p = 2.76e-25)</text><text x="497.7" y="429.7" textLength="12" lengthAdjust="spacingAndGlyphs">Pearson: 0.77</text><text x="497.7" y="432.8" textLength="12" lengthAdjust="spacingAndGlyphs">(p = 8.31e-25)</text><text x="497.7" y="436.3" textLength="16" lengthAdjust="spacingAndGlyphs">y = 0.84x + 2.58</text><text x="495.2" y="439.2" textLength="7.3" lengthAdjust="spacingAndGlyphs">R² = 0.52</text></g>
<g fill="#428ade" fill-opacity="0.85"><circle cx="476.13" cy="432.05" r="0.78"/><circle cx="468.58" cy="435.51" r="0.78"/><circle cx="470.56" cy="427.1" r="0.78"/><circle cx="445.4" cy="445.76" r="0.78"/><circle cx="445.79" cy="450.85" r="0.78"/><circle cx="471.64" cy="438.96" r="0.78"/><circle cx="449.93" cy="443.97" r="0.78"/><circle cx="443.7" cy="450.34" r="0.78"/><circle cx="447.62" cy="441.26" r="0.78"/><circle cx="466.74" cy="450.63" r="0.78"/><circle cx="448.69" cy="456.13" r="0.78"/><circle cx="468.67" cy="443.7" r="0.78"/><circle cx="451.08" cy="457.76" r="0.78"/><circle cx="456.95" cy="438.65" r="0.78"/><circle cx="461.65" cy="443.9" r="0.78"/><circle cx="469.62" cy="431.21" r="0.78"/><circle cx="462.22" cy="437.06" r="0.78"/><circle cx="439.79" cy="445.13" r="0.78"/><circle cx="459.38" cy="434.09" r="0.78"/><circle cx="458.92" cy="434" r="0.78"/><circle cx="455.83" cy="436.98" r="0.78"/><circle cx="457.88" cy="445.24" r="0.78"/><circle cx="454.71" cy="442.24" r="0.78"/><circle cx="443.44" cy="453.38" r="0.78"/><circle cx="437.53" cy="462.31" r="0.78"/><circle cx="432.09" cy="461.25" r="0.78"/><circle cx="449.13" cy="446.27" r="0.78"/><circle cx="458.84" cy="437.58" r="0.78"/><circle cx="456.51" cy="451.58" r="0.78"/><circle cx="449.19" cy="459.47" r="0.78"/><circle cx="430.3" cy="453.44" r="0.78"/><circle cx="433.5" cy="459.49" r="0.78"/><circle cx="464.44" cy="432.01" r="0.78"/><circle cx="436.33" cy="449.58" r="0.78"/><circle cx="456.97" cy="446.42" r="0.78"/><circle cx="446.67" cy="444.73" r="0.78"/><circle cx="454.1" cy="449.54" r="0.78"/><circle cx="453.56" cy="443.07" r="0.78"/><circle cx="449.95" cy="441.23" r="0.78"/><circle cx="452.74" cy="443.82" r="0.78"/><circle cx="464.47" cy="435.59" r="0.78"/><circle cx="449.84" cy="440.2" r="0.78"/><circle cx="455.42" cy="439.16" r="0.78"/><circle cx="471.98" cy="422.43" r="0.78"/><circle cx="452.22" cy="446.79" r="0.78"/><circle cx="458.19" cy="443.58" r="0.78"/><circle cx="454.28" cy="447.54" r="0.78"/><circle cx="457.74" cy="441.86" r="0.78"/><circle cx="464.49" cy="440.29" r="0.78"/><circle cx="435.99" cy="450.75" r="0.78"/><circle cx="446.61" cy="445.15" r="0.78"/><circle cx="451.37" cy="447.81" r="0.78"/><circle cx="447.57" cy="447.59" r="0.78"/><circle cx="452.47" cy="446.16" r="0.78"/><circle cx="442.08" cy="457.98" r="0.78"/><circle cx="473.83" cy="433.06" r="0.78"/><circle cx="463.47" cy="436.23" r="0.78"/><circle cx="460.24" cy="446.98" r="0.78"/><circle cx="459.57" cy="445.22" r="0.78"/><circle cx="452" cy="454.41" r="0.78"/><circle cx="463.17" cy="439.15" r="0.78"/><circle cx="470.61" cy="436.74" r="0.78"/><circle cx="439.89" cy="448.26" r="0.78"/><circle cx="470.1" cy="428.98" r="0.78"/><circle cx="466.74" cy="426.56" r="0.78"/><circle cx="453.03" cy="437.71" r="0.78"/><circle cx="451.35" cy="443.95" r="0.78"/><circle cx="451.6" cy="439.73" r="0.78"/><circle cx="447.61" cy="442.33" r="0.78"/><circle cx="445.83" cy="446.87" r="0.78"/><circle cx="469.82" cy="434.07" r="0.78"/><circle cx="453.35" cy="442.58" r="0.78"/><circle cx="451.82" cy="450.41" r="0.78"/><circle cx="452.58" cy="435.44" r="0.78"/><circle cx="477.92" cy="419.12" r="0.78"/><circle cx="456.42" cy="444.76" r="0.78"/><circle cx="448.27" cy="446.17" r="0.78"/><circle cx="428.19" cy="458.33" r="0.78"/><circle cx="467.93" cy="435.78" r="0.78"/><circle cx="449.23" cy="459.21" r="0.78"/><circle cx="478.4" cy="421.96" r="0.78"/><circle cx="447.11" cy="441.94" r="0.78"/><circle cx="471.03" cy="433.76" r="0.78"/><circle cx="448.79" cy="447.45" r="0.78"/><circle cx="448.22" cy="454.96" r="0.78"/><circle cx="478.4" cy="430.11" r="0.78"/><circle cx="459.16" cy="446.14" r="0.78"/><circle cx="437.09" cy="450.02" r="0.78"/><circle cx="469.35" cy="437.57" r="0.78"/><circle cx="456.73" cy="434.08" r="0.78"/><circle cx="447.39" cy="447.6" r="0.78"/><circle cx="472.11" cy="432.19" r="0.78"/><circle cx="440.3" cy="450.14" r="0.78"/><circle cx="450.85" cy="442.63" r="0.78"/><circle cx="447.49" cy="448.2" r="0.78"/><circle cx="439.83" cy="444.96" r="0.78"/><circle cx="445.89" cy="439.15" r="0.78"/><circle cx="451.87" cy="433.84" r="0.78"/><circle cx="452.28" cy="439.99" r="0.78"/><circle cx="448.57" cy="443.43" r="0.78"/><circle cx="451.4" cy="457.68" r="0.78"/><circle cx="454.62" cy="448.02" r="0.78"/><circle cx="449.29" cy="451.75" r="0.78"/><circle cx="458.79" cy="443.54" r="0.78"/><circle cx="451.68" cy="435.71" r="0.78"/><circle cx="458.28" cy="444.11" r="0.78"/><circle cx="453.1" cy="453.56" r="0.78"/><circle cx="452.43" cy="458.61" r="0.78"/><circle cx="434.99" cy="455.33" r="0.78"/><circle cx="460.46" cy="441.42" r="0.78"/><circle cx="464.77" cy="435.15" r="0.78"/><circle cx="444.48" cy="447.58" r="0.78"/><circle cx="454.36" cy="450.77" r="0.78"/><circle cx="461.15" cy="452.2" r="0.78"/><circle cx="451.95" cy="448.8" r="0.78"/><circle cx="445.38" cy="456.34" r="0.78"/><circle cx="461.67" cy="436.88" r="0.78"/><circle cx="445.63" cy="449.15" r="0.78"/><circle cx="450.91" cy="453.04" r="0.78"/><circle cx="464.97" cy="433.84" r="0.78"/><circle cx="463.34" cy="434.35" r="0.78"/><circle cx="471.68" cy="435.76" r="0.78"/><circle cx="453.04" cy="447.11" r="0.78"/><circle cx="464.98" cy="433.57" r="0.78"/><circle cx="456.12" cy="444.14" r="0.78"/><circle cx="447.49" cy="448.62" r="0.78"/><circle cx="462.06" cy="434.97" r="0.78"/><circle cx="465.45" cy="441.68" r="0.78"/><circle cx="440.08" cy="455.74" r="0.78"/><circle cx="437.99" cy="455.53" r="0.78"/><circle cx="435.75" cy="456.68" r="0.78"/><circle cx="440.61" cy="445.11" r="0.78"/><circle cx="463.28" cy="437.59" r="0.78"/><circle cx="468.04" cy="437.94" r="0.78"/><circle cx="456.89" cy="440.5" r="0.78"/><circle cx="476.8" cy="427.25" r="0.78"/><circle cx="476.12" cy="426.6" r="0.78"/><circle cx="476.62" cy="422.04" r="0.78"/><circle cx="474.51" cy="427.78" r="0.78"/><circle cx="475.65" cy="425.48" r="0.78"/><circle cx="477.95" cy="423.83" r="0.78"/></g>
<line x1="428" y1="459.8" x2="476.4" y2="430" stroke="#c85a5a" stroke-width="0.6" opacity="0.9"/>
<path d="M538.5 474.4H600.5M538.5 464.7H600.5M538.5 455H600.5M538.5 445.3H600.5M538.5 435.6H600.5M538.5 425.9H600.5M538.5 416.2H600.5M541.4 414.9V476.2M549.15 414.9V476.2M556.9 414.9V476.2M564.65 414.9V476.2M572.4 414.9V476.2M580.15 414.9V476.2M587.9 414.9V476.2M595.65 414.9V476.2" stroke="#f2f2f2" stroke-width="0.35" fill="none"/>
<path d="M538.5 414.9V476.2H600.5" stroke="#a8a8a8" stroke-width="0.5" fill="none"/>
<g font-size="2" fill="#777" stroke="#888" stroke-width="0.15"><text x="537.7" y="475" text-anchor="end">10</text><text x="537.7" y="465.3" text-anchor="end">12</text><text x="537.7" y="455.6" text-anchor="end">14</text><text x="537.7" y="445.9" text-anchor="end">16</text><text x="537.7" y="436.2" text-anchor="end">18</text><text x="537.7" y="426.5" text-anchor="end">20</text><text x="537.7" y="416.8" text-anchor="end">22</text><text x="541.4" y="479.1" text-anchor="middle">0</text><text x="549.15" y="479.1" text-anchor="middle">2</text><text x="556.9" y="479.1" text-anchor="middle">4</text><text x="564.65" y="479.1" text-anchor="middle">6</text><text x="572.4" y="479.1" text-anchor="middle">8</text><text x="580.15" y="479.1" text-anchor="middle">10</text><text x="587.9" y="479.1" text-anchor="middle">12</text><text x="595.65" y="479.1" text-anchor="middle">14</text></g>
<g font-size="1.9" fill="#6e6e6e" stroke="#808080" stroke-width="0.2" text-anchor="middle"><text x="569.2" y="482.8" textLength="49" lengthAdjust="spacingAndGlyphs">mRNA Expression, RSEM (Batch normalized from Illumina</text><text x="569.2" y="484.4" textLength="36" lengthAdjust="spacingAndGlyphs">HiSeq_RNASeqV2): SV2B (log2(x + 1))</text></g>
<g font-size="1.9" fill="#6e6e6e" stroke="#808080" stroke-width="0.2" text-anchor="middle" transform="translate(538.5 445.4) rotate(-90)"><text x="0" y="-8.5" textLength="49" lengthAdjust="spacingAndGlyphs">mRNA Expression, RSEM (Batch normalized from Illumina</text><text x="0" y="-6.2" textLength="30" lengthAdjust="spacingAndGlyphs">HiSeq_RNASeqV2): gene (log2(x + 1))</text></g>
<text x="569.5" y="411" font-size="2.5" font-weight="bold" fill="#505050" stroke="#606060" stroke-width="0.3" text-anchor="middle" textLength="16.6" lengthAdjust="spacingAndGlyphs">SV2B vs. VIRMA</text>
<g font-size="2.1" fill="#7a7a7a" stroke="#8a8a8a" stroke-width="0.18" text-anchor="middle"><text x="614.8" y="422.5" textLength="13.3" lengthAdjust="spacingAndGlyphs">Spearman: 0.78</text><text x="614.8" y="425.5" textLength="12" lengthAdjust="spacingAndGlyphs">(p = 2.76e-25)</text><text x="614.8" y="429.7" textLength="12" lengthAdjust="spacingAndGlyphs">Pearson: 0.77</text><text x="614.8" y="432.8" textLength="12" lengthAdjust="spacingAndGlyphs">(p = 8.31e-25)</text><text x="614.8" y="436.3" textLength="16" lengthAdjust="spacingAndGlyphs">y = 0.84x + 2.58</text><text x="612.3" y="439.2" textLength="7.3" lengthAdjust="spacingAndGlyphs">R² = 0.52</text></g>
<g fill="#428ade" fill-opacity="0.85"><circle cx="572.77" cy="443.71" r="0.78"/><circle cx="573.1" cy="448.09" r="0.78"/><circle cx="588.12" cy="428.93" r="0.78"/><circle cx="590.93" cy="431.31" r="0.78"/><circle cx="569.89" cy="445.65" r="0.78"/><circle cx="581.72" cy="431.32" r="0.78"/><circle cx="572.78" cy="428.46" r="0.78"/><circle cx="558.05" cy="459.9" r="0.78"/><circle cx="585.19" cy="428.63" r="0.78"/><circle cx="590.73" cy="425.11" r="0.78"/><circle cx="567.98" cy="448.72" r="0.78"/><circle cx="576.78" cy="432.78" r="0.78"/><circle cx="566.64" cy="442.56" r="0.78"/><circle cx="574.16" cy="437.32" r="0.78"/><circle cx="567.76" cy="444.89" r="0.78"/><circle cx="582.89" cy="435.76" r="0.78"/><circle cx="579.06" cy="438.58" r="0.78"/><circle cx="579.71" cy="440.62" r="0.78"/><circle cx="566.28" cy="449.88" r="0.78"/><circle cx="572.54" cy="441.4" r="0.78"/><circle cx="558.34" cy="460.55" r="0.78"/><circle cx="592.5" cy="425.32" r="0.78"/><circle cx="571.78" cy="446.06" r="0.78"/><circle cx="564.87" cy="444.51" r="0.78"/><circle cx="568.26" cy="446.34" r="0.78"/><circle cx="568.81" cy="445.21" r="0.78"/><circle cx="562.48" cy="442.73" r="0.78"/><circle cx="576.76" cy="447.04" r="0.78"/><circle cx="547.61" cy="459.84" r="0.78"/><circle cx="585.9" cy="429.88" r="0.78"/><circle cx="583.35" cy="425.1" r="0.78"/><circle cx="559.19" cy="454.26" r="0.78"/><circle cx="570.24" cy="438.44" r="0.78"/><circle cx="567.39" cy="446.65" r="0.78"/><circle cx="565.38" cy="450.25" r="0.78"/><circle cx="578.13" cy="440.63" r="0.78"/><circle cx="567.32" cy="437.51" r="0.78"/><circle cx="567.8" cy="444.36" r="0.78"/><circle cx="579.32" cy="446.07" r="0.78"/><circle cx="582.56" cy="433.13" r="0.78"/><circle cx="564.69" cy="445.72" r="0.78"/><circle cx="590.17" cy="424.33" r="0.78"/><circle cx="572.76" cy="442.96" r="0.78"/><circle cx="562.2" cy="444.33" r="0.78"/><circle cx="571.55" cy="440.47" r="0.78"/><circle cx="573.16" cy="436.87" r="0.78"/><circle cx="563.93" cy="443.62" r="0.78"/><circle cx="575.58" cy="450.77" r="0.78"/><circle cx="582.03" cy="437.25" r="0.78"/><circle cx="566.41" cy="442.51" r="0.78"/><circle cx="562.83" cy="464.36" r="0.78"/><circle cx="569.51" cy="463.52" r="0.78"/><circle cx="545.5" cy="462.89" r="0.78"/><circle cx="565.75" cy="434.38" r="0.78"/><circle cx="579.88" cy="435" r="0.78"/><circle cx="579.37" cy="438.19" r="0.78"/><circle cx="577.72" cy="438.41" r="0.78"/><circle cx="576.52" cy="434.24" r="0.78"/><circle cx="569" cy="442.1" r="0.78"/><circle cx="579.91" cy="436.58" r="0.78"/><circle cx="570.25" cy="450.99" r="0.78"/><circle cx="561.82" cy="437.75" r="0.78"/><circle cx="576.03" cy="443.55" r="0.78"/><circle cx="580.5" cy="437.37" r="0.78"/><circle cx="560.77" cy="447.47" r="0.78"/><circle cx="574.5" cy="434.8" r="0.78"/><circle cx="563.24" cy="455.95" r="0.78"/><circle cx="559.2" cy="454.76" r="0.78"/><circle cx="583.25" cy="437.31" r="0.78"/><circle cx="570.91" cy="446.07" r="0.78"/><circle cx="590.55" cy="421.26" r="0.78"/><circle cx="562.67" cy="446.8" r="0.78"/><circle cx="570.95" cy="450.54" r="0.78"/><circle cx="568.18" cy="458.13" r="0.78"/><circle cx="570.5" cy="444.88" r="0.78"/><circle cx="569.62" cy="440.29" r="0.78"/><circle cx="568.32" cy="446.49" r="0.78"/><circle cx="567.89" cy="450.2" r="0.78"/><circle cx="564.58" cy="463.06" r="0.78"/><circle cx="570.14" cy="441.47" r="0.78"/><circle cx="583.91" cy="442.22" r="0.78"/><circle cx="566.4" cy="439.95" r="0.78"/><circle cx="568.65" cy="430.87" r="0.78"/><circle cx="574.55" cy="446.56" r="0.78"/><circle cx="580.18" cy="446.52" r="0.78"/><circle cx="581.39" cy="441.65" r="0.78"/><circle cx="553.78" cy="459.76" r="0.78"/><circle cx="569.42" cy="445.08" r="0.78"/><circle cx="572.18" cy="432.64" r="0.78"/><circle cx="582.07" cy="431.49" r="0.78"/><circle cx="563.72" cy="442.94" r="0.78"/><circle cx="583.15" cy="437.06" r="0.78"/><circle cx="565.39" cy="449.86" r="0.78"/><circle cx="584.64" cy="429.42" r="0.78"/><circle cx="558.61" cy="455.96" r="0.78"/><circle cx="561.82" cy="461.4" r="0.78"/><circle cx="560.73" cy="450.91" r="0.78"/><circle cx="569.08" cy="443.97" r="0.78"/><circle cx="587.42" cy="426.25" r="0.78"/><circle cx="587.35" cy="425.61" r="0.78"/><circle cx="575.58" cy="442.05" r="0.78"/><circle cx="570.97" cy="443.56" r="0.78"/><circle cx="582.96" cy="429.84" r="0.78"/><circle cx="566.75" cy="449.6" r="0.78"/><circle cx="579.79" cy="434.32" r="0.78"/><circle cx="579.78" cy="443.21" r="0.78"/><circle cx="582.7" cy="434.34" r="0.78"/><circle cx="576.01" cy="430.87" r="0.78"/><circle cx="567.38" cy="445.72" r="0.78"/><circle cx="572" cy="457.12" r="0.78"/><circle cx="579.89" cy="436.7" r="0.78"/><circle cx="542.58" cy="470.4" r="0.78"/><circle cx="575.57" cy="441.26" r="0.78"/><circle cx="578.7" cy="448.45" r="0.78"/><circle cx="561.14" cy="445" r="0.78"/><circle cx="571.46" cy="441.71" r="0.78"/><circle cx="562.13" cy="451.56" r="0.78"/><circle cx="572.43" cy="442.85" r="0.78"/><circle cx="559.54" cy="458.43" r="0.78"/><circle cx="569.45" cy="445.28" r="0.78"/><circle cx="569.66" cy="445.53" r="0.78"/><circle cx="562.73" cy="447.01" r="0.78"/><circle cx="567.74" cy="445.4" r="0.78"/><circle cx="588.07" cy="440.93" r="0.78"/><circle cx="565.53" cy="451.42" r="0.78"/><circle cx="561.32" cy="444.32" r="0.78"/><circle cx="572.5" cy="442.71" r="0.78"/><circle cx="563.83" cy="447.47" r="0.78"/><circle cx="566.93" cy="444.59" r="0.78"/><circle cx="566.01" cy="450.02" r="0.78"/><circle cx="557.41" cy="445.35" r="0.78"/><circle cx="560.29" cy="460.75" r="0.78"/><circle cx="574.58" cy="429.76" r="0.78"/><circle cx="566.19" cy="455.54" r="0.78"/><circle cx="588.57" cy="450.83" r="0.78"/><circle cx="595.66" cy="421.62" r="0.78"/><circle cx="595.39" cy="420.78" r="0.78"/><circle cx="592.7" cy="422.45" r="0.78"/><circle cx="595.65" cy="417.93" r="0.78"/><circle cx="593.32" cy="421.11" r="0.78"/><circle cx="595.69" cy="423.33" r="0.78"/></g>
<line x1="545.4" y1="462.3" x2="593.4" y2="425.8" stroke="#c85a5a" stroke-width="0.6" opacity="0.9"/>
</g>
<g>
<path d="M47 547V802H284.3" stroke="#666" stroke-width="1.3" fill="none"/>
<path d="M43 802H47" stroke="#6a6a6a" stroke-width="0.9"/>
<text x="42.4" y="804.2" font-size="6.5" fill="#3c3c3c" text-anchor="end">0</text>
<path d="M43 738.5H47" stroke="#6a6a6a" stroke-width="0.9"/>
<text x="42.4" y="740.7" font-size="6.5" fill="#3c3c3c" text-anchor="end">0.25</text>
<path d="M43 675H47" stroke="#6a6a6a" stroke-width="0.9"/>
<text x="42.4" y="677.2" font-size="6.5" fill="#3c3c3c" text-anchor="end">0.5</text>
<path d="M43 611.5H47" stroke="#6a6a6a" stroke-width="0.9"/>
<text x="42.4" y="613.7" font-size="6.5" fill="#3c3c3c" text-anchor="end">0.75</text>
<path d="M43 548H47" stroke="#6a6a6a" stroke-width="0.9"/>
<text x="42.4" y="550.2" font-size="6.5" fill="#3c3c3c" text-anchor="end">1</text>
<path d="M47 802V805" stroke="#6a6a6a" stroke-width="0.9"/>
<text x="47" y="812" font-size="6.5" fill="#3c3c3c" text-anchor="middle">0</text>
<path d="M91.2 802V805" stroke="#6a6a6a" stroke-width="0.9"/>
<text x="91.2" y="812" font-size="6.5" fill="#3c3c3c" text-anchor="middle">500</text>
<path d="M135.4 802V805" stroke="#6a6a6a" stroke-width="0.9"/>
<text x="135.4" y="812" font-size="6.5" fill="#3c3c3c" text-anchor="middle">1,000</text>
<path d="M179.6 802V805" stroke="#6a6a6a" stroke-width="0.9"/>
<text x="179.6" y="812" font-size="6.5" fill="#3c3c3c" text-anchor="middle">1,500</text>
<path d="M223.8 802V805" stroke="#6a6a6a" stroke-width="0.9"/>
<text x="223.8" y="812" font-size="6.5" fill="#3c3c3c" text-anchor="middle">2,000</text>
<path d="M268 802V805" stroke="#6a6a6a" stroke-width="0.9"/>
<text x="268" y="812" font-size="6.5" fill="#3c3c3c" text-anchor="middle">2,500</text>
<path d="M47 548H49.5V549.65H49.85V552.95H50.2V554.6H55V555.95H56V558.65H57V560V561.67H57.67V565H58.33V568.33H59V570V571.75H60.5V575.25H62V577V578.5H63V581.5H64V583V584H67V585V587.5H68V590V591.5H68.17V594.5H68.33V597.5H68.5V599V599.5H71V600V602H72V604H75V606.5H76.5V609V611H77.25V615H78V617V618.83H78.33V622.5H78.67V626.17H79V628H81.5V629.5H81.75V632.5H82V635.5H82.25V638.5H82.5V640V641.75H83.25V645.25H84V647V648.75H85V652.25H86V654V655.5H86.5V658.5H87V660V661.83H87.33V665.5H87.67V669.17H88V671V672.5H89.5V674V675.83H89.83V679.5H90.17V683.17H90.5V685V685.5H92V686V687.75H92.12V691.25H92.25V694.75H92.38V698.25H92.5V700V700.5H94V701V702.7H94.38V706.1H94.76V709.5H95.14V712.9H95.52V716.3H95.9V718V719.75H100.3V721.5V723.25H101.77V726.75H103.23V730.25H104.7V732H112.2V737.3H115.4V747.8V750H118.7V752.2V753.5H120V756.1H121.3V757.4H125.2V767H138V773.2H141V779H176.1V784.7H182.9V790.4H234.9V796H284.3V801.8" stroke="#1c1c8e" stroke-width="1.7" fill="none" stroke-linejoin="miter"/>
<path d="M49.3 544.3v5.4" stroke="#1c1c8e" stroke-width="1.5"/>
<path d="M64 579.3v5.4" stroke="#1c1c8e" stroke-width="1.5"/>
<path d="M65.5 582.3v5.4" stroke="#1c1c8e" stroke-width="1.5"/>
<path d="M72.5 600.8v5.4" stroke="#1c1c8e" stroke-width="1.5"/>
<path d="M131 764.3v5.4" stroke="#1c1c8e" stroke-width="1.5"/>
<path d="M47 548V549H47.5V550V552.5H48.5V555V556.67H49V560H49.5V563.33H50V565V566.5H51V568V569.5H52.5V571V572.75H53V576.25H53.5V578V579.67H53.83V583H54.17V586.33H54.5V588V589.75H55V593.25H55.5V595V597H55.75V601H56V603V604.5H56.5V607.5H57V609V610.5H57.75V613.5H58.5V615V616.67H59V620H59.5V623.33H60V625V626.75H60.5V630.25H61V632V634H61.75V638H62.5V640V641.5H62.75V644.5H63V646V647H66V648V648.5H69V649V650.5H69.75V653.5H70.5V655V657H71.5V659V660.5H73.5V662V663.67H74V667H74.5V670.33H75V672V673.67H75.67V677H76.33V680.33H77V682H80V683.5H80.25V686.5H80.5V689.5H80.75V692.5H81V694V695.5H81.67V698.5H82.33V701.5H83V703V704.75H83.75V708.25H84.5V710V711.5H85V714.5H85.5V717.5H86V720.5H86.5V722V723.53H87.3V726.6H88.1V729.67H88.9V731.2H93.6V733.1H94.37V736.9H95.13V740.7H95.9V742.6V743.9H96.8V746.5H97.7V747.8V749.1H99.85V751.7H102V753V755.2H106.4V757.4V759.2H109V761V763.15H112.6V765.3V766.62H114.15V769.27H115.7V770.6H141V778.5H156V786H172.8V794.2H174.7V801.8" stroke="#972828" stroke-width="1.7" fill="none"/>
<path d="M64.5 640.3v5.4" stroke="#972828" stroke-width="1.5"/>
<path d="M108 757.3v5.4" stroke="#972828" stroke-width="1.5"/>
<path d="M130.5 767.9v5.4" stroke="#972828" stroke-width="1.5"/>
<text x="161.4" y="559" font-size="13.3" fill="#7c7c7c" textLength="31.4" lengthAdjust="spacingAndGlyphs">SV2B</text>
<rect x="159.2" y="577.8" width="25.8" height="6" fill="#0a0ae6" stroke="#1818a0" stroke-width="0.5"/>
<rect x="159.2" y="603" width="25.8" height="6" fill="#e80c0c" stroke="#a01818" stroke-width="0.5"/>
<text x="189.4" y="583.6" font-size="12.6" fill="#7c7c7c" textLength="89.8" lengthAdjust="spacing">&lt; 6.300 (n=80)</text>
<text x="189.4" y="608.8" font-size="12.6" fill="#7c7c7c" textLength="99.6" lengthAdjust="spacing">&gt;= 6.300 (n=73)</text>
<text transform="translate(19.8 678.8) rotate(-90)" x="0" y="0" font-size="11.4" fill="#1e1e1e" stroke="#1e1e1e" stroke-width="0.3" text-anchor="middle" textLength="99" lengthAdjust="spacingAndGlyphs">Survival Probability</text>
<text x="165.8" y="832.5" font-size="10.6" fill="#1e1e1e" stroke="#1e1e1e" stroke-width="0.3" text-anchor="middle">Days</text>
<text x="167.2" y="850" font-size="11.6" fill="#1e1e1e" stroke="#1e1e1e" stroke-width="0.35" text-anchor="middle">(e)</text>
</g>
<g>
<path d="M420.7 545.4V805.2H663.2" stroke="#666" stroke-width="1.3" fill="none"/>
<path d="M416.7 805.2H420.7" stroke="#6a6a6a" stroke-width="0.9"/>
<text x="416.1" y="807.4" font-size="6.5" fill="#3c3c3c" text-anchor="end">0</text>
<path d="M416.7 740.5H420.7" stroke="#6a6a6a" stroke-width="0.9"/>
<text x="416.1" y="742.7" font-size="6.5" fill="#3c3c3c" text-anchor="end">0.25</text>
<path d="M416.7 675.8H420.7" stroke="#6a6a6a" stroke-width="0.9"/>
<text x="416.1" y="678" font-size="6.5" fill="#3c3c3c" text-anchor="end">0.5</text>
<path d="M416.7 611.1H420.7" stroke="#6a6a6a" stroke-width="0.9"/>
<text x="416.1" y="613.3" font-size="6.5" fill="#3c3c3c" text-anchor="end">0.75</text>
<path d="M416.7 546.4H420.7" stroke="#6a6a6a" stroke-width="0.9"/>
<text x="416.1" y="548.6" font-size="6.5" fill="#3c3c3c" text-anchor="end">1</text>
<path d="M420.7 805.2V808.2" stroke="#6a6a6a" stroke-width="0.9"/>
<text x="420.7" y="815.2" font-size="6.5" fill="#3c3c3c" text-anchor="middle">0</text>
<path d="M465.9 805.2V808.2" stroke="#6a6a6a" stroke-width="0.9"/>
<text x="465.9" y="815.2" font-size="6.5" fill="#3c3c3c" text-anchor="middle">500</text>
<path d="M511.1 805.2V808.2" stroke="#6a6a6a" stroke-width="0.9"/>
<text x="511.1" y="815.2" font-size="6.5" fill="#3c3c3c" text-anchor="middle">1,000</text>
<path d="M556.3 805.2V808.2" stroke="#6a6a6a" stroke-width="0.9"/>
<text x="556.3" y="815.2" font-size="6.5" fill="#3c3c3c" text-anchor="middle">1,500</text>
<path d="M601.5 805.2V808.2" stroke="#6a6a6a" stroke-width="0.9"/>
<text x="601.5" y="815.2" font-size="6.5" fill="#3c3c3c" text-anchor="middle">2,000</text>
<path d="M646.7 805.2V808.2" stroke="#6a6a6a" stroke-width="0.9"/>
<text x="646.7" y="815.2" font-size="6.5" fill="#3c3c3c" text-anchor="middle">2,500</text>
<path d="M421.2 546.4H422.5V548.05H422.75V551.35H423V553H428.7V554.75H429.52V558.25H430.35V561.75H431.18V565.25H432V567V569.5H434V572V573.5H437V575V576H442V577V593V593.5H446V594V595.5H447.33V598.5H448.67V601.5H450V603V604.75H450.88V608.25H451.75V611.75H452.62V615.25H453.5V617V618.62H453.88V621.88H454.25V625.12H454.62V628.38H455V630V631.62H455.75V634.88H456.5V638.12H457.25V641.38H458V643V644.5H458.88V647.5H459.75V650.5H460.62V653.5H461.5V655V656.75H462.25V660.25H463V662V663.88H463.75V667.62H464.5V671.38H465.25V675.12H466V677V678.8H466.4V682.4H466.8V686H467.2V689.6H467.6V693.2H468V695V696.83H468.5V700.5H469V704.17H469.5V707.83H470V711.5H470.5V715.17H471V717V719.5H474V722V723.5H475V726.5H476V728V729.5H477.5V732.5H479V734H488V735.75H489V739.25H490V741V743.5H493V746V747.67H494V751H495V754.33H496V756V757.85H498.5V761.55H501V763.4H513.6V769.2H516.5V777.4H552.4V783.8H559.4V791.1H612.8V798.4H663.4V804.8" stroke="#1c1c8e" stroke-width="1.7" fill="none" stroke-linejoin="miter"/>
<path d="M422.5 542.8v5.4" stroke="#1c1c8e" stroke-width="1.5"/>
<path d="M435.5 571.3v5.4" stroke="#1c1c8e" stroke-width="1.5"/>
<path d="M440 573.8v5.4" stroke="#1c1c8e" stroke-width="1.5"/>
<path d="M446.5 591.3v5.4" stroke="#1c1c8e" stroke-width="1.5"/>
<path d="M506 759.3v5.4" stroke="#1c1c8e" stroke-width="1.5"/>
<path d="M421.2 546.4V548.2H422V550V551.62H422.5V554.88H423V558.12H423.5V561.38H424V563V565.5H427V568V569.7H427.3V573.1H427.6V576.5H427.9V579.9H428.2V583.3H428.5V585V586.88H429.12V590.62H429.75V594.38H430.38V598.12H431V600V601.88H431.75V605.62H432.5V609.38H433.25V613.12H434V615V616.88H434.5V620.62H435V624.38H435.5V628.12H436V630V632H438V634V636H441V638V639.75H442.5V643.25H444V645V646.75H445V650.25H446V652V654H447V658H448V660V662H449V666H450V668V669.5H450.67V672.5H451.33V675.5H452V677H456V678.83H456.67V682.5H457.33V686.17H458V688V689.75H458.75V693.25H459.5V696.75H460.25V700.25H461V702V703.58H461.33V706.75H461.67V709.92H462V713.08H462.33V716.25H462.67V719.42H463V721V723H465V725V727.5H469V730V731.67H470V735H471V738.33H472V740V742.5H474V745V746.75H476V750.25H478V752V753.75H480.5V757.25H483V759V761.5H489V764V766.15H490.2V768.3H516.5V777.4H532.6V786.7H549.5V795.5H551.5V804.8" stroke="#972828" stroke-width="1.7" fill="none"/>
<path d="M474.5 741.3v5.4" stroke="#972828" stroke-width="1.5"/>
<path d="M505.5 765.6v5.4" stroke="#972828" stroke-width="1.5"/>
<text x="544.2" y="560.1" font-size="13.3" fill="#7c7c7c" textLength="31.4" lengthAdjust="spacingAndGlyphs">SV2B</text>
<rect x="542" y="580.4" width="24.6" height="6" fill="#0a0ae6" stroke="#1818a0" stroke-width="0.5"/>
<rect x="542" y="606" width="24.6" height="6" fill="#e80c0c" stroke="#a01818" stroke-width="0.5"/>
<text x="571" y="586.2" font-size="12.6" fill="#7c7c7c" textLength="86.5" lengthAdjust="spacing">&lt; 6.300 (n=72)</text>
<text x="571" y="611.8" font-size="12.6" fill="#7c7c7c" textLength="95.7" lengthAdjust="spacing">&gt;= 6.300 (n=68)</text>
<text transform="translate(396.9 679.8) rotate(-90)" x="0" y="0" font-size="11.4" fill="#1e1e1e" stroke="#1e1e1e" stroke-width="0.3" text-anchor="middle" textLength="99" lengthAdjust="spacingAndGlyphs">Survival Probability</text>
<text x="556.5" y="833.3" font-size="10.6" fill="#1e1e1e" stroke="#1e1e1e" stroke-width="0.3" text-anchor="middle">Days</text>
<text x="556.2" y="850.1" font-size="11.6" fill="#1e1e1e" stroke="#1e1e1e" stroke-width="0.35" text-anchor="middle">(f)</text>
</g>
<g>
<path d="M247.7 845.9V1083.3H485.9" stroke="#666" stroke-width="1.3" fill="none"/>
<path d="M243.7 1083.3H247.7" stroke="#6a6a6a" stroke-width="0.9"/>
<text x="243.1" y="1085.5" font-size="6.5" fill="#3c3c3c" text-anchor="end">0</text>
<path d="M243.7 1024.2H247.7" stroke="#6a6a6a" stroke-width="0.9"/>
<text x="243.1" y="1026.4" font-size="6.5" fill="#3c3c3c" text-anchor="end">0.25</text>
<path d="M243.7 965.1H247.7" stroke="#6a6a6a" stroke-width="0.9"/>
<text x="243.1" y="967.3" font-size="6.5" fill="#3c3c3c" text-anchor="end">0.5</text>
<path d="M243.7 906H247.7" stroke="#6a6a6a" stroke-width="0.9"/>
<text x="243.1" y="908.2" font-size="6.5" fill="#3c3c3c" text-anchor="end">0.75</text>
<path d="M243.7 846.9H247.7" stroke="#6a6a6a" stroke-width="0.9"/>
<text x="243.1" y="849.1" font-size="6.5" fill="#3c3c3c" text-anchor="end">1</text>
<path d="M247.7 1083.3V1086.3" stroke="#6a6a6a" stroke-width="0.9"/>
<text x="247.7" y="1093.3" font-size="6.5" fill="#3c3c3c" text-anchor="middle">0</text>
<path d="M286.27 1083.3V1086.3" stroke="#6a6a6a" stroke-width="0.9"/>
<text x="286.27" y="1093.3" font-size="6.5" fill="#3c3c3c" text-anchor="middle">250</text>
<path d="M324.85 1083.3V1086.3" stroke="#6a6a6a" stroke-width="0.9"/>
<text x="324.85" y="1093.3" font-size="6.5" fill="#3c3c3c" text-anchor="middle">500</text>
<path d="M363.42 1083.3V1086.3" stroke="#6a6a6a" stroke-width="0.9"/>
<text x="363.42" y="1093.3" font-size="6.5" fill="#3c3c3c" text-anchor="middle">750</text>
<path d="M402 1083.3V1086.3" stroke="#6a6a6a" stroke-width="0.9"/>
<text x="402" y="1093.3" font-size="6.5" fill="#3c3c3c" text-anchor="middle">1,000</text>
<path d="M440.57 1083.3V1086.3" stroke="#6a6a6a" stroke-width="0.9"/>
<text x="440.57" y="1093.3" font-size="6.5" fill="#3c3c3c" text-anchor="middle">1,250</text>
<path d="M479.15 1083.3V1086.3" stroke="#6a6a6a" stroke-width="0.9"/>
<text x="479.15" y="1093.3" font-size="6.5" fill="#3c3c3c" text-anchor="middle">1,500</text>
<path d="M247.7 846.9H249.5V847.45H251V848V850H253V852V853.5H255V855V855.5H257V856V857.5H257.75V860.5H258.5V863.5H259.25V866.5H260V868V869.5H260.5V872.5H261V875.5H261.5V878.5H262V880V881.83H262.67V885.5H263.33V889.17H264V891V892.83H264.67V896.5H265.33V900.17H266V902V903.5H268V905V906.62H268.5V909.88H269V913.12H269.5V916.38H270V918V919.75H270.75V923.25H271.5V926.75H272.25V930.25H273V932V933.5H273.67V936.5H274.33V939.5H275V941V942.83H275.67V946.5H276.33V950.17H277V952V954H278V958H279V960V961H281V962V963.83H281.67V967.5H282.33V971.17H283V973V974.75H284.5V978.25H286V980V982H288V986H290V988V990H292V992V994H295V996H302V998H303V1000V1002H305V1004H309V1005.5H309.33V1008.5H309.67V1011.5H310V1013V1014H312V1015V1016.5H312.33V1019.5H312.67V1022.5H313V1024H315V1026H319.5V1028H326V1034H329V1036.25H329.5V1038.5H342.5V1043.5H348V1048.3H365.7V1053.3H444V1063H471.6V1073.2H485.9V1083.1" stroke="#1c1c8e" stroke-width="1.7" fill="none" stroke-linejoin="miter"/>
<path d="M249.3 842.8v5.4" stroke="#1c1c8e" stroke-width="1.5"/>
<path d="M268 901.3v5.4" stroke="#1c1c8e" stroke-width="1.5"/>
<path d="M281 958.3v5.4" stroke="#1c1c8e" stroke-width="1.5"/>
<path d="M317 1023.3v5.4" stroke="#1c1c8e" stroke-width="1.5"/>
<path d="M366.7 1050.6v5.4" stroke="#1c1c8e" stroke-width="1.5"/>
<path d="M382.9 1050.6v5.4" stroke="#1c1c8e" stroke-width="1.5"/>
<path d="M394 1050.6v5.4" stroke="#1c1c8e" stroke-width="1.5"/>
<path d="M247.7 846.9V846.95H248.5V847V849.5H250V852V853.7H250.6V857.1H251.2V860.5H251.8V863.9H252.4V867.3H253V869V870.75H254.5V874.25H256V876V878H257V882H258V884V885.5H258.67V888.5H259.33V891.5H260V893V894.7H260.4V898.1H260.8V901.5H261.2V904.9H261.6V908.3H262V910V912H263V916H264V918V920H265.5V924H267V926V927.5H267.67V930.5H268.33V933.5H269V935V936.83H269.67V940.5H270.33V944.17H271V946V947.75H271.5V951.25H272V953V954.5H272.5V957.5H273V960.5H273.5V963.5H274V965V966.75H275V970.25H276V972V973.8H276.8V977.4H277.6V981H278.4V984.6H279.2V988.2H280V990V992.5H285V995V996.5H287V999.5H289V1001V1002H295V1003V1004.5H298.5V1006V1007.88H299.25V1011.62H300V1013.5H306V1015.08H307V1018.25H308V1021.42H309V1023V1024.5H310V1027.5H311V1029V1030.88H312.5V1034.62H314V1036.5H318V1039H318.5V1041.5H321.5V1043.75H322V1046H330V1050.5H333V1053H333.5V1055.5H336V1059.6H369.8V1066H444V1083.1" stroke="#972828" stroke-width="1.7" fill="none"/>
<path d="M306.5 1011.3v5.4" stroke="#972828" stroke-width="1.5"/>
<path d="M354.1 1056.9v5.4" stroke="#972828" stroke-width="1.5"/>
<path d="M395 1063.3v5.4" stroke="#972828" stroke-width="1.5"/>
<text x="344.2" y="859.3" font-size="13.3" fill="#7c7c7c" textLength="31.4" lengthAdjust="spacingAndGlyphs">SV2B</text>
<rect x="342" y="877" width="27" height="6" fill="#0a0ae6" stroke="#1818a0" stroke-width="0.5"/>
<rect x="342" y="900" width="27" height="6" fill="#e80c0c" stroke="#a01818" stroke-width="0.5"/>
<text x="373.4" y="882.8" font-size="12.6" fill="#7c7c7c" textLength="90.9" lengthAdjust="spacing">&lt; 6.300 (n=80)</text>
<text x="373.4" y="905.8" font-size="12.6" fill="#7c7c7c" textLength="100.7" lengthAdjust="spacing">&gt;= 6.300 (n=73)</text>
<text transform="translate(220.6 968) rotate(-90)" x="0" y="0" font-size="10.3" fill="#1e1e1e" stroke="#1e1e1e" stroke-width="0.3" text-anchor="middle" textLength="98" lengthAdjust="spacingAndGlyphs">Survival Probability</text>
<text x="361.9" y="1113" font-size="10.6" fill="#1e1e1e" stroke="#1e1e1e" stroke-width="0.3" text-anchor="middle">Days</text>
<text x="363.5" y="1127.8" font-size="11.6" fill="#1e1e1e" stroke="#1e1e1e" stroke-width="0.35" text-anchor="middle">(g)</text>
</g>
<text x="106" y="208.3" font-size="10.9" fill="#222" stroke="#222" stroke-width="0.35" text-anchor="middle">(a)</text>
<text x="323" y="207.6" font-size="10.9" fill="#222" stroke="#222" stroke-width="0.35" text-anchor="middle">(b)</text>
<text x="542.6" y="206.9" font-size="10.9" fill="#222" stroke="#222" stroke-width="0.35" text-anchor="middle">(c)</text>
<text x="335.6" y="506.4" font-size="10.9" fill="#222" stroke="#222" stroke-width="0.35" text-anchor="middle">(d)</text>
</svg>
</body></html>
